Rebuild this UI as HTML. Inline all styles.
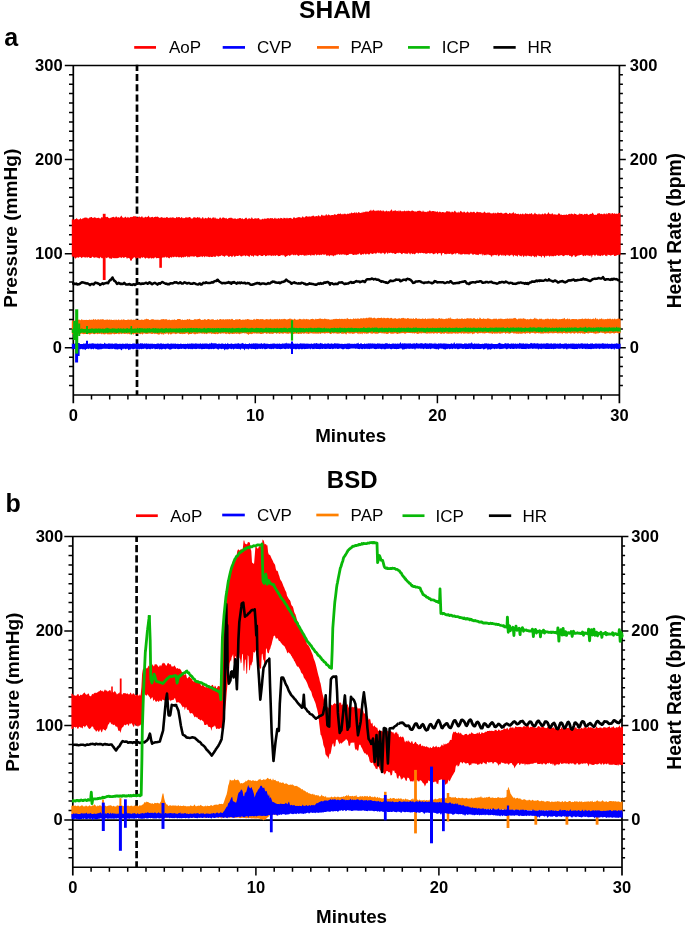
<!DOCTYPE html>
<html lang="en"><head><meta charset="utf-8"><title>SHAM vs BSD haemodynamic traces</title>
<style>html,body{margin:0;padding:0;background:#fff}body{width:685px;height:927px;overflow:hidden}svg{display:block}text{font-family:"Liberation Sans",Arial,Helvetica,sans-serif;fill:#000}</style></head><body>
<svg width="685" height="927" viewBox="0 0 685 927">
<rect width="685" height="927" fill="#fff"/>
<g id="panel-a">
<path d="M137 64.8V394.9" stroke="#000" stroke-width="2.7" stroke-dasharray="7.1 3.1" stroke-dashoffset="1" fill="none"/>
<path d="M73.3 65.4V403.2M619.4 65.4V403.2" stroke="#000" stroke-width="1.7" fill="none"/>
<path d="M64.8 65.4H625.8M73.3 394.9H619.4" stroke="#000" stroke-width="1.5" fill="none"/>
<path d="M69 385.5H73.3M619.4 385.5H622.9M69 376H73.3M619.4 376H622.9M69 366.6H73.3M619.4 366.6H622.9M69 357.2H73.3M619.4 357.2H622.9M64.8 347.8H73.3M619.4 347.8H625.8M69 338.4H73.3M619.4 338.4H622.9M69 329H73.3M619.4 329H622.9M69 319.6H73.3M619.4 319.6H622.9M69 310.1H73.3M619.4 310.1H622.9M69 300.7H73.3M619.4 300.7H622.9M69 291.3H73.3M619.4 291.3H622.9M69 281.9H73.3M619.4 281.9H622.9M69 272.5H73.3M619.4 272.5H622.9M69 263.1H73.3M619.4 263.1H622.9M64.8 253.7H73.3M619.4 253.7H625.8M69 244.3H73.3M619.4 244.3H622.9M69 234.8H73.3M619.4 234.8H622.9M69 225.4H73.3M619.4 225.4H622.9M69 216H73.3M619.4 216H622.9M69 206.6H73.3M619.4 206.6H622.9M69 197.2H73.3M619.4 197.2H622.9M69 187.8H73.3M619.4 187.8H622.9M69 178.4H73.3M619.4 178.4H622.9M69 168.9H73.3M619.4 168.9H622.9M64.8 159.5H73.3M619.4 159.5H625.8M69 150.1H73.3M619.4 150.1H622.9M69 140.7H73.3M619.4 140.7H622.9M69 131.3H73.3M619.4 131.3H622.9M69 121.9H73.3M619.4 121.9H622.9M69 112.5H73.3M619.4 112.5H622.9M69 103.1H73.3M619.4 103.1H622.9M69 93.6H73.3M619.4 93.6H622.9M69 84.2H73.3M619.4 84.2H622.9M69 74.8H73.3M619.4 74.8H622.9M91.5 394.9V399.5M109.7 394.9V399.5M127.9 394.9V399.5M146.1 394.9V399.5M164.3 394.9V399.5M182.5 394.9V399.5M200.7 394.9V399.5M218.9 394.9V399.5M237.1 394.9V399.5M255.3 394.9V403.2M273.5 394.9V399.5M291.7 394.9V399.5M309.9 394.9V399.5M328.1 394.9V399.5M346.4 394.9V399.5M364.6 394.9V399.5M382.8 394.9V399.5M401 394.9V399.5M419.2 394.9V399.5M437.4 394.9V403.2M455.6 394.9V399.5M473.8 394.9V399.5M492 394.9V399.5M510.2 394.9V399.5M528.4 394.9V399.5M546.6 394.9V399.5M564.8 394.9V399.5M583 394.9V399.5M601.2 394.9V399.5" stroke="#000" stroke-width="1.5" fill="none"/>
<text x="62" y="353.1" font-size="16.5" font-weight="bold" text-anchor="end">0</text>
<text x="629.8" y="353.1" font-size="16.5" font-weight="bold" text-anchor="start">0</text>
<text x="62.6" y="259" font-size="16.5" font-weight="bold" text-anchor="end">100</text>
<text x="629.8" y="259" font-size="16.5" font-weight="bold" text-anchor="start">100</text>
<text x="62.6" y="164.8" font-size="16.5" font-weight="bold" text-anchor="end">200</text>
<text x="629.8" y="164.8" font-size="16.5" font-weight="bold" text-anchor="start">200</text>
<text x="62.6" y="70.7" font-size="16.5" font-weight="bold" text-anchor="end">300</text>
<text x="629.8" y="70.7" font-size="16.5" font-weight="bold" text-anchor="start">300</text>
<text x="73.3" y="420.5" font-size="16.5" font-weight="bold" text-anchor="middle">0</text>
<text x="255.3" y="420.5" font-size="16.5" font-weight="bold" text-anchor="middle">10</text>
<text x="437.4" y="420.5" font-size="16.5" font-weight="bold" text-anchor="middle">20</text>
<text x="619.4" y="420.5" font-size="16.5" font-weight="bold" text-anchor="middle">30</text>
<g id="data-a">
<path d="M71.8 219.4L72.6 218.9L73.4 219.5L74.2 219.8L75 219.1L75.8 219L76.6 218.1L77.4 218.9L78.2 219.6L79 219.4L79.8 219.1L80.6 217.9L81.4 219.2L82.2 219.1L83 217.8L83.8 218.6L84.6 217.4L85.4 217.5L86.2 217.8L87 217.4L87.8 218.5L88.6 218.5L89.4 217.6L90.2 217.5L91 217.1L91.8 217L92.6 218.1L93.4 217.9L94.2 216.9L95 217.7L95.8 217.5L96.6 218.3L97.4 218.1L98.2 217.8L99 217.7L99.8 218.4L100.6 218.5L101.4 217.3L102.2 217.1L103 218.1L103.8 216.8L104.6 217.3L105.4 216.8L106.2 217.2L107 216.7L107.8 217.1L108.6 218L109.4 218.2L110.2 218L111 217.5L111.8 217.6L112.6 217.1L113.4 216.8L114.2 217.3L115 217.8L115.8 216.6L116.6 216.5L117.4 217.8L118.2 216.9L119 217.6L119.8 217.7L120.6 216.6L121.4 215.5L122.2 217L123 217.8L123.8 217.7L124.6 217.5L125.4 216.5L126.2 217.4L127 218L127.8 216.8L128.6 217.5L129.4 217.9L130.2 216.8L131 217.3L131.8 216.8L132.6 217L133.4 216.3L134.2 216.1L135 216.8L135.8 215.9L136.6 217.2L137.4 217.5L138.2 216.9L139 216.8L139.8 216.5L140.6 217.6L141.4 216.5L142.2 216.3L143 217.8L143.8 217.4L144.6 217.5L145.4 216.6L146.2 217.6L147 216.8L147.8 217L148.6 215.6L149.4 217.3L150.2 217.5L151 217.3L151.8 216.9L152.6 216.7L153.4 217.8L154.2 216.9L155 217.1L155.8 216.5L156.6 216.9L157.4 216.5L158.2 217L159 217.6L159.8 218.1L160.6 217.5L161.4 216.9L162.2 217.6L163 217.5L163.8 217.9L164.6 217.4L165.4 218.1L166.2 217.2L167 217L167.8 217.4L168.6 218.1L169.4 217.8L170.2 217.4L171 217.4L171.8 217.7L172.6 217.3L173.4 217.5L174.2 217.8L175 218.2L175.8 218.1L176.6 216.8L177.4 217.6L178.2 217.2L179 217L179.8 217.2L180.6 218.3L181.4 217L182.2 217.4L183 218.4L183.8 217.7L184.6 218.3L185.4 217.6L186.2 217.1L187 218L187.8 217.2L188.6 217.6L189.4 216.9L190.2 217L191 218.4L191.8 218.5L192.6 218.5L193.4 217.4L194.2 216.9L195 217.8L195.8 217.4L196.6 218L197.4 216.9L198.2 217.3L199 218.1L199.8 217L200.6 218.4L201.4 218.7L202.2 217.4L203 217L203.8 218.7L204.6 218.4L205.4 217.8L206.2 217.9L207 218.7L207.8 217.7L208.6 217.1L209.4 218.2L210.2 217.6L211 218.3L211.8 218.8L212.6 217.6L213.4 217.6L214.2 217.2L215 218.7L215.8 217.3L216.6 218.9L217.4 218.5L218.2 218.9L219 218.7L219.8 217.6L220.6 217.6L221.4 219L222.2 217.8L223 217.4L223.8 217.6L224.6 217.9L225.4 218.6L226.2 217.8L227 218.7L227.8 219L228.6 218L229.4 218L230.2 217.5L231 218.2L231.8 217.6L232.6 218.5L233.4 218.8L234.2 218.6L235 218.6L235.8 218.6L236.6 219.2L237.4 218.5L238.2 218.8L239 218.3L239.8 217.9L240.6 218L241.4 219.1L242.2 218.1L243 219.1L243.8 219.3L244.6 218.7L245.4 218L246.2 217.4L247 218.5L247.8 219.4L248.6 218.2L249.4 218.2L250.2 218.7L251 218.7L251.8 217.1L252.6 218.5L253.4 219.1L254.2 218.7L255 218L255.8 218.6L256.6 218.6L257.4 218.6L258.2 217.9L259 218.3L259.8 219.5L260.6 219.4L261.4 219.4L262.2 219.1L263 218.5L263.8 219.4L264.6 218.2L265.4 218.7L266.2 218.7L267 218.4L267.8 218.1L268.6 218.2L269.4 218.8L270.2 218.1L271 218.2L271.8 218.2L272.6 218.1L273.4 219L274.2 218.5L275 217.5L275.8 218.8L276.6 218.4L277.4 218.8L278.2 218.3L279 218L279.8 218.9L280.6 217.7L281.4 217.9L282.2 218.2L283 218.9L283.8 217.5L284.6 217.9L285.4 218.2L286.2 218.5L287 217.4L287.8 218.6L288.6 218.2L289.4 218.1L290.2 217.9L291 217.7L291.8 218.8L292.6 218.9L293.4 217.4L294.2 217.1L295 218.3L295.8 218.1L296.6 217.8L297.4 217.4L298.2 217.2L299 216.9L299.8 217.3L300.6 217.6L301.4 218.1L302.2 216.5L303 216.5L303.8 217.5L304.6 217.5L305.4 216.4L306.2 216.3L307 216.1L307.8 217.1L308.6 216.4L309.4 216.2L310.2 216.9L311 215.9L311.8 216.6L312.6 215.7L313.4 215.6L314.2 216.3L315 216.7L315.8 216.1L316.6 215.9L317.4 216.4L318.2 215.2L319 215.5L319.8 216.5L320.6 216.5L321.4 214.8L322.2 214.7L323 216L323.8 215.3L324.6 215.8L325.4 215.6L326.2 213.7L327 215.6L327.8 215.3L328.6 214.2L329.4 214.9L330.2 215.6L331 215.3L331.8 215.1L332.6 214.9L333.4 215.2L334.2 214.2L335 214.3L335.8 214.7L336.6 215L337.4 214L338.2 213.7L339 213.8L339.8 214L340.6 213.3L341.4 214.2L342.2 214.6L343 213.6L343.8 214.6L344.6 213.6L345.4 213.7L346.2 214.5L347 213.9L347.8 213.5L348.6 213.9L349.4 213.3L350.2 213.7L351 212.7L351.8 212.4L352.6 213.2L353.4 213L354.2 212.8L355 212.1L355.8 213.5L356.6 212L357.4 213.4L358.2 212.2L359 212L359.8 213.1L360.6 213.1L361.4 212.6L362.2 212.9L363 211.5L363.8 212.6L364.6 212.1L365.4 211.4L366.2 211.9L367 211L367.8 212.1L368.6 211.8L369.4 210.7L370.2 210.8L371 209.4L371.8 211.2L372.6 210.6L373.4 209.6L374.2 211.1L375 210.3L375.8 211.3L376.6 210.6L377.4 210.5L378.2 210.7L379 210L379.8 211.3L380.6 209.9L381.4 210.7L382.2 211.5L383 210L383.8 211L384.6 211.5L385.4 211.6L386.2 210.4L387 211L387.8 211.5L388.6 211L389.4 211.4L390.2 211.1L391 210L391.8 209.2L392.6 211.5L393.4 210.8L394.2 210.7L395 210.5L395.8 210.2L396.6 211.2L397.4 210.7L398.2 211.6L399 210.1L399.8 211.6L400.6 210.2L401.4 211.5L402.2 210.9L403 211.4L403.8 210.9L404.6 210.4L405.4 211.2L406.2 211.3L407 210.5L407.8 211.2L408.6 210.5L409.4 210.9L410.2 211.3L411 211.3L411.8 210.4L412.6 210.6L413.4 211.1L414.2 211.2L415 211.8L415.8 211.3L416.6 211.8L417.4 211L418.2 210.7L419 210.9L419.8 210.4L420.6 211.1L421.4 211.6L422.2 212L423 210.3L423.8 211.7L424.6 211.8L425.4 211.8L426.2 212.3L427 211.6L427.8 211.4L428.6 211.5L429.4 210.6L430.2 210.6L431 211.5L431.8 211.3L432.6 210.9L433.4 211.1L434.2 211.2L435 211.6L435.8 211.4L436.6 212.1L437.4 210.9L438.2 212.4L439 212L439.8 211.6L440.6 212.1L441.4 212.5L442.2 212L443 212.1L443.8 212.2L444.6 212.6L445.4 212.5L446.2 211.4L447 211L447.8 211.5L448.6 211.6L449.4 211.5L450.2 211.8L451 212.7L451.8 211.4L452.6 211.8L453.4 212.6L454.2 211.3L455 210.4L455.8 212.1L456.6 212.5L457.4 212.7L458.2 211.4L459 212.9L459.8 212L460.6 210.7L461.4 211.5L462.2 212.1L463 212.8L463.8 211.4L464.6 211.7L465.4 212.8L466.2 212.8L467 211.7L467.8 211.5L468.6 212.6L469.4 212.9L470.2 211.5L471 212.4L471.8 211.8L472.6 212.6L473.4 211.7L474.2 211.7L475 212.6L475.8 213.3L476.6 211.7L477.4 211.8L478.2 212L479 212.6L479.8 212.1L480.6 212.2L481.4 212.5L482.2 213.3L483 212.3L483.8 212.7L484.6 211.3L485.4 212.8L486.2 212.7L487 213.3L487.8 212.3L488.6 212.8L489.4 212.2L490.2 213.6L491 212.8L491.8 213.8L492.6 213.2L493.4 212.4L494.2 213.8L495 212.6L495.8 213.3L496.6 213.5L497.4 212.4L498.2 212.5L499 213L499.8 212.9L500.6 212.8L501.4 212.8L502.2 212.9L503 214.1L503.8 213.2L504.6 213.2L505.4 212.8L506.2 212.7L507 212.9L507.8 214L508.6 214.1L509.4 212.8L510.2 213.2L511 213.6L511.8 213.5L512.6 212.9L513.4 211.8L514.2 214L515 212.9L515.8 213.4L516.6 214L517.4 213.9L518.2 213.5L519 214.2L519.8 214.5L520.6 213.6L521.4 214.4L522.2 213.8L523 213.5L523.8 214.6L524.6 214.3L525.4 213.1L526.2 213.9L527 213.6L527.8 213.9L528.6 214.3L529.4 213.6L530.2 214.1L531 213.4L531.8 212.9L532.6 214.6L533.4 214.4L534.2 213.7L535 212.5L535.8 214.1L536.6 213.9L537.4 214.8L538.2 213.6L539 214.7L539.8 213.5L540.6 214.5L541.4 214.6L542.2 213.4L543 213.9L543.8 214.4L544.6 213.2L545.4 213.3L546.2 214.5L547 214L547.8 213.5L548.6 212L549.4 214.1L550.2 213.7L551 214.6L551.8 213.4L552.6 213.2L553.4 214.8L554.2 213.9L555 214.7L555.8 214.2L556.6 214.8L557.4 214.9L558.2 213.3L559 213.7L559.8 213.5L560.6 214.9L561.4 214.5L562.2 214.9L563 215L563.8 214.7L564.6 214.8L565.4 214.9L566.2 214.3L567 214.7L567.8 215L568.6 214.1L569.4 213.7L570.2 214.5L571 213.4L571.8 213.8L572.6 214L573.4 214.7L574.2 213.3L575 213.9L575.8 213.9L576.6 214.5L577.4 214.9L578.2 214.2L579 214.8L579.8 213.1L580.6 214.2L581.4 213.9L582.2 213.7L583 215L583.8 214.4L584.6 213.8L585.4 214.3L586.2 214.1L587 213.4L587.8 214.6L588.6 215L589.4 214.5L590.2 213.7L591 214.1L591.8 213.7L592.6 212.4L593.4 213.8L594.2 214.9L595 214.8L595.8 214.7L596.6 214.9L597.4 213.4L598.2 213.6L599 213.2L599.8 213.2L600.6 214.3L601.4 213.8L602.2 214.1L603 214.6L603.8 213.6L604.6 213.5L605.4 214.5L606.2 213L607 214.6L607.8 213.6L608.6 213L609.4 213.3L610.2 213L611 214.4L611.8 212.9L612.6 212.9L613.4 213.9L614.2 213.2L615 213.4L615.8 214.1L616.6 213.5L617.4 214L618.2 213.2L619 212.9L619.8 212.8L620.6 214.1L620.6 255.7L619.8 254.7L619 254.5L618.2 255.1L617.4 255L616.6 255.6L615.8 255.8L615 256L614.2 255.9L613.4 254.5L612.6 254.9L611.8 255L611 255.8L610.2 255.5L609.4 255L608.6 254.9L607.8 254.5L607 256.4L606.2 255.6L605.4 256L604.6 254.5L603.8 255.3L603 255.3L602.2 256L601.4 255.1L600.6 256.2L599.8 255.8L599 255.8L598.2 255.6L597.4 255.8L596.6 254.6L595.8 255.1L595 256.6L594.2 255.1L593.4 254.7L592.6 254.9L591.8 258L591 254.7L590.2 256.3L589.4 255.7L588.6 255.4L587.8 255.8L587 254.8L586.2 255.6L585.4 256.1L584.6 255.3L583.8 256L583 256.3L582.2 254.7L581.4 254.7L580.6 254.9L579.8 255.1L579 255.7L578.2 255.3L577.4 255.8L576.6 256.3L575.8 256.8L575 257.1L574.2 254.9L573.4 255.2L572.6 256.3L571.8 257.4L571 256.1L570.2 255.8L569.4 256.1L568.6 254.8L567.8 255.5L567 255L566.2 255.2L565.4 254.9L564.6 255.4L563.8 256.3L563 256L562.2 255.5L561.4 255L560.6 255.2L559.8 255.4L559 255.8L558.2 256L557.4 255.1L556.6 255.2L555.8 256.3L555 255.7L554.2 255.7L553.4 256.5L552.6 256L551.8 256.4L551 255.5L550.2 256.2L549.4 256.7L548.6 255.5L547.8 255.9L547 255.5L546.2 256.6L545.4 255.4L544.6 258.2L543.8 256.2L543 255.8L542.2 255.7L541.4 257.7L540.6 256.1L539.8 256L539 256.3L538.2 255.6L537.4 255.3L536.6 257.4L535.8 255.7L535 257.4L534.2 256.7L533.4 256L532.6 255.6L531.8 256.5L531 256.8L530.2 255.8L529.4 256.2L528.6 255.8L527.8 255.8L527 255.5L526.2 256.7L525.4 255.8L524.6 255.5L523.8 257.3L523 256.2L522.2 255L521.4 256.7L520.6 255.7L519.8 256.2L519 254.8L518.2 255L517.4 256.9L516.6 255.4L515.8 256L515 255.3L514.2 254.9L513.4 256.9L512.6 255.3L511.8 254.6L511 255.4L510.2 255L509.4 256.2L508.6 255.2L507.8 255.5L507 254.4L506.2 255.5L505.4 256.3L504.6 254.9L503.8 256L503 254.6L502.2 255.7L501.4 255.4L500.6 254.5L499.8 255.4L499 255.6L498.2 256.5L497.4 254.3L496.6 255.6L495.8 255L495 255.3L494.2 254.7L493.4 255.6L492.6 254.9L491.8 257.2L491 255.5L490.2 255.2L489.4 255.1L488.6 254.5L487.8 255L487 254L486.2 255.4L485.4 254.7L484.6 255.2L483.8 255.2L483 253.8L482.2 256L481.4 253.6L480.6 254.5L479.8 253.7L479 254.6L478.2 255.2L477.4 254.8L476.6 254.8L475.8 254.8L475 254.3L474.2 254L473.4 254.8L472.6 254.7L471.8 253.8L471 253.5L470.2 253.7L469.4 254.7L468.6 254.4L467.8 254.2L467 254.2L466.2 254.3L465.4 254.3L464.6 254.6L463.8 253.7L463 254.1L462.2 254.4L461.4 254.6L460.6 254.7L459.8 253.6L459 254.7L458.2 253.6L457.4 253L456.6 253L455.8 254.7L455 253.1L454.2 253.7L453.4 253.9L452.6 254.6L451.8 254.8L451 253.4L450.2 253.8L449.4 254L448.6 253.8L447.8 253.9L447 253.6L446.2 254.5L445.4 253.9L444.6 254.3L443.8 253L443 253.1L442.2 253.4L441.4 256.3L440.6 252.9L439.8 253.2L439 252.9L438.2 253.4L437.4 254.5L436.6 253.1L435.8 252.8L435 254.2L434.2 253.4L433.4 254.5L432.6 253.6L431.8 253L431 253.3L430.2 253.4L429.4 253.5L428.6 253.1L427.8 253L427 253.9L426.2 253.5L425.4 253.7L424.6 252.9L423.8 253.4L423 253L422.2 253L421.4 252.7L420.6 253.2L419.8 253.1L419 252.8L418.2 254.1L417.4 252.7L416.6 252.7L415.8 253.2L415 254.3L414.2 254.2L413.4 253.4L412.6 254.3L411.8 253.4L411 253L410.2 254.7L409.4 253.6L408.6 252.5L407.8 254.2L407 253.3L406.2 254L405.4 253.4L404.6 253.4L403.8 252.9L403 253.1L402.2 254.3L401.4 254.1L400.6 252.9L399.8 253L399 252.5L398.2 253.5L397.4 252.8L396.6 253.3L395.8 254L395 254L394.2 253.6L393.4 253L392.6 253.6L391.8 252.9L391 252.7L390.2 252.7L389.4 253.3L388.6 252.4L387.8 254.3L387 253L386.2 252.3L385.4 253.8L384.6 254.4L383.8 252.8L383 253.5L382.2 252.4L381.4 253.7L380.6 253.8L379.8 252.5L379 253.6L378.2 252.7L377.4 252.6L376.6 253.3L375.8 254.3L375 252.7L374.2 253.4L373.4 253.6L372.6 253.9L371.8 254.1L371 253.1L370.2 253.6L369.4 254.6L368.6 254.4L367.8 254L367 253.4L366.2 254.5L365.4 254.4L364.6 253.3L363.8 254.5L363 254.2L362.2 254.1L361.4 255L360.6 254.9L359.8 253.3L359 253.7L358.2 254.4L357.4 254.3L356.6 254.7L355.8 255L355 254.3L354.2 254.9L353.4 255.1L352.6 254.8L351.8 253.8L351 254.3L350.2 253.7L349.4 253.9L348.6 254.8L347.8 254.9L347 255.1L346.2 255.4L345.4 254.6L344.6 254.8L343.8 254.4L343 254.2L342.2 254.4L341.4 254.8L340.6 254.2L339.8 255L339 254.6L338.2 254L337.4 254.8L336.6 254.5L335.8 255.3L335 255.5L334.2 255.2L333.4 256.5L332.6 255.5L331.8 255.2L331 255.4L330.2 255.1L329.4 256.4L328.6 255.2L327.8 255.4L327 255.5L326.2 255.8L325.4 254.1L324.6 254.7L323.8 254.7L323 254.4L322.2 254.3L321.4 255.3L320.6 254.5L319.8 255.6L319 254.7L318.2 254.8L317.4 254.7L316.6 255.7L315.8 254.2L315 254.5L314.2 255.8L313.4 255.1L312.6 255.2L311.8 254.4L311 255.9L310.2 255.2L309.4 254.8L308.6 255.1L307.8 255.5L307 254.4L306.2 256L305.4 255.3L304.6 255.7L303.8 255.5L303 254.7L302.2 255.1L301.4 255.2L300.6 255L299.8 254.7L299 256.1L298.2 255.7L297.4 255.3L296.6 254.6L295.8 255.1L295 255.6L294.2 254.6L293.4 255.6L292.6 254.6L291.8 254.6L291 255.3L290.2 255.5L289.4 255.9L288.6 255.1L287.8 255.6L287 255.9L286.2 256.2L285.4 257.2L284.6 256.2L283.8 254.7L283 256.1L282.2 254.8L281.4 255.2L280.6 255.6L279.8 256.1L279 256L278.2 256.3L277.4 255.3L276.6 255L275.8 256.1L275 255.7L274.2 255.2L273.4 255.9L272.6 255.3L271.8 256.2L271 255.4L270.2 255.5L269.4 255.2L268.6 255.8L267.8 255.1L267 256.1L266.2 255.8L265.4 256.5L264.6 255.1L263.8 255.1L263 256.1L262.2 256.1L261.4 256L260.6 255.4L259.8 255.2L259 255.1L258.2 256.3L257.4 256.3L256.6 255.7L255.8 255.4L255 255.5L254.2 255.3L253.4 257.3L252.6 255.4L251.8 256.3L251 255.6L250.2 255.1L249.4 257.2L248.6 256.2L247.8 256.1L247 255.6L246.2 255.4L245.4 256.6L244.6 255.3L243.8 255.8L243 255.5L242.2 256.2L241.4 256.6L240.6 256.3L239.8 255.2L239 255.6L238.2 255.9L237.4 256L236.6 255.7L235.8 255.9L235 256.7L234.2 256.8L233.4 255.2L232.6 256.4L231.8 257.3L231 256.1L230.2 256.1L229.4 256.8L228.6 257L227.8 255.9L227 255.4L226.2 255.5L225.4 255.8L224.6 256.9L223.8 256L223 256.2L222.2 255.4L221.4 255.3L220.6 256.1L219.8 256.3L219 255.9L218.2 257L217.4 256.1L216.6 255.5L215.8 257.1L215 256.6L214.2 257.1L213.4 256.2L212.6 257.1L211.8 256.9L211 257L210.2 256.6L209.4 257.3L208.6 256.7L207.8 257.1L207 256L206.2 257L205.4 255.9L204.6 257.4L203.8 255.9L203 256.4L202.2 257.2L201.4 256.3L200.6 256.5L199.8 257.1L199 256.8L198.2 257.2L197.4 257.2L196.6 257.2L195.8 256.3L195 255.9L194.2 257L193.4 256.5L192.6 256.5L191.8 256.1L191 257L190.2 256.1L189.4 257.4L188.6 256.4L187.8 257.7L187 256.3L186.2 256.3L185.4 257.2L184.6 256.6L183.8 257.8L183 256.8L182.2 257.2L181.4 257.9L180.6 256.8L179.8 257.5L179 257L178.2 257.6L177.4 256.6L176.6 257.6L175.8 256.5L175 257.2L174.2 256.6L173.4 257.6L172.6 256.5L171.8 257.9L171 257.1L170.2 257.3L169.4 258.4L168.6 257.9L167.8 257.6L167 257.1L166.2 258L165.4 256.6L164.6 257.4L163.8 257.7L163 257L162.2 258.1L161.4 258.3L160.6 258L159.8 258.1L159 258.3L158.2 258.1L157.4 258.1L156.6 258.6L155.8 257.6L155 257.3L154.2 258.3L153.4 258.4L152.6 257.9L151.8 258.5L151 258.5L150.2 257.5L149.4 258.4L148.6 258.6L147.8 258.3L147 257.4L146.2 257.9L145.4 258.7L144.6 257.9L143.8 257L143 257.5L142.2 258.1L141.4 257.1L140.6 258.7L139.8 257.9L139 258.7L138.2 257.4L137.4 257.7L136.6 258.6L135.8 258.6L135 257.7L134.2 257.1L133.4 258.1L132.6 259L131.8 258.5L131 257.4L130.2 258.6L129.4 258.5L128.6 257.9L127.8 257.8L127 259.1L126.2 257.2L125.4 257L124.6 257.6L123.8 257.9L123 257.4L122.2 257L121.4 258.2L120.6 257.5L119.8 256.9L119 258L118.2 257.8L117.4 258.2L116.6 258.2L115.8 258.1L115 258.4L114.2 258L113.4 258.2L112.6 257.4L111.8 259.1L111 258.4L110.2 258.4L109.4 258.5L108.6 257.3L107.8 257.5L107 257.8L106.2 258.3L105.4 257.3L104.6 257.3L103.8 257.6L103 257.7L102.2 258.5L101.4 258.1L100.6 256.8L99.8 258.2L99 258.4L98.2 257.8L97.4 257.7L96.6 257.4L95.8 256.9L95 258L94.2 257.6L93.4 257.4L92.6 256.6L91.8 257.5L91 258L90.2 258.1L89.4 257.7L88.6 257.1L87.8 257.2L87 258.1L86.2 256.7L85.4 257.7L84.6 257.6L83.8 256.7L83 257.6L82.2 257.2L81.4 258.2L80.6 257L79.8 256.7L79 257.5L78.2 257.7L77.4 257.3L76.6 257.5L75.8 258.4L75 258.6L74.2 257.3L73.4 256.6L72.6 256.5L71.8 256.5Z" fill="#ff0000"/>
<path d="M104.2 213.8V280" stroke="#ff0000" stroke-width="2.8" fill="none"/>
<path d="M160.6 250V267.8" stroke="#ff0000" stroke-width="2.6" fill="none"/>
<path d="M131 250V260.6" stroke="#ff0000" stroke-width="2.0" fill="none"/>
<path d="M71.8 321.4L72.6 320.5L73.4 320.6L74.2 320.8L75 320.6L75.8 320.3L76.6 320L77.4 319.4L78.2 320.1L79 319.2L79.8 320L80.6 320.2L81.4 319.3L82.2 319.5L83 320.2L83.8 319.8L84.6 320.1L85.4 319.9L86.2 319.8L87 320L87.8 319.9L88.6 319.9L89.4 319.6L90.2 319.8L91 320L91.8 319.4L92.6 319.9L93.4 318.7L94.2 319.9L95 319.3L95.8 319.2L96.6 320L97.4 319.5L98.2 319.3L99 319.4L99.8 319.8L100.6 319.3L101.4 319.5L102.2 319.2L103 319.2L103.8 319.4L104.6 320L105.4 319.8L106.2 319.8L107 319.6L107.8 319.6L108.6 320L109.4 319.3L110.2 320.3L111 319.3L111.8 320.1L112.6 320.1L113.4 319.7L114.2 320.2L115 319.3L115.8 320.3L116.6 319.4L117.4 320.3L118.2 319.5L119 319.5L119.8 320.3L120.6 319.9L121.4 319.3L122.2 320.2L123 319.3L123.8 319.5L124.6 319.7L125.4 319.9L126.2 319.9L127 320L127.8 319.5L128.6 319.5L129.4 320.1L130.2 319.3L131 320.3L131.8 319.1L132.6 320.3L133.4 319.5L134.2 320.1L135 319.6L135.8 319.4L136.6 319.4L137.4 319.9L138.2 319.7L139 319.9L139.8 319.8L140.6 320.1L141.4 319.5L142.2 319.8L143 319.7L143.8 320.1L144.6 319.3L145.4 319.4L146.2 318.4L147 319.3L147.8 319.1L148.6 319.3L149.4 320L150.2 320L151 319.4L151.8 319.3L152.6 319.2L153.4 319.3L154.2 319.8L155 319.7L155.8 319.8L156.6 319.8L157.4 319.8L158.2 319.6L159 320.2L159.8 319.8L160.6 319.7L161.4 319.2L162.2 319.2L163 319.3L163.8 319.1L164.6 319.5L165.4 319.3L166.2 319.3L167 319.3L167.8 320.2L168.6 319.7L169.4 319.6L170.2 320L171 320.2L171.8 319.7L172.6 319.8L173.4 320.1L174.2 319.3L175 319.8L175.8 320.1L176.6 320.1L177.4 319.1L178.2 319.1L179 319.1L179.8 319.1L180.6 319.3L181.4 320.2L182.2 319.2L183 319.9L183.8 320L184.6 319.7L185.4 319.8L186.2 320.1L187 319.3L187.8 319.1L188.6 319.7L189.4 318.7L190.2 319.4L191 320L191.8 319.7L192.6 319.9L193.4 319.9L194.2 319.3L195 319.3L195.8 319.2L196.6 319.4L197.4 319.3L198.2 319.1L199 319.1L199.8 318.6L200.6 319.6L201.4 320L202.2 319.9L203 319.5L203.8 320.1L204.6 319L205.4 319.2L206.2 319.9L207 319.7L207.8 319.1L208.6 319.1L209.4 319.2L210.2 320.1L211 319.3L211.8 319.6L212.6 319.2L213.4 319.3L214.2 320.1L215 319.9L215.8 319.8L216.6 320L217.4 319.1L218.2 320.1L219 319.8L219.8 319L220.6 318.9L221.4 319.6L222.2 319.5L223 319.3L223.8 319.2L224.6 319.7L225.4 319.3L226.2 319.3L227 319.6L227.8 319L228.6 319.5L229.4 319.1L230.2 319.6L231 319.4L231.8 318.8L232.6 319L233.4 319.9L234.2 320.1L235 320L235.8 319.1L236.6 319.5L237.4 319.3L238.2 319.8L239 318.9L239.8 318.9L240.6 319.4L241.4 319.9L242.2 319.8L243 319.4L243.8 319.8L244.6 319.8L245.4 319.3L246.2 319.8L247 319L247.8 319.1L248.6 319.2L249.4 319.5L250.2 319.7L251 319.7L251.8 319.7L252.6 320L253.4 319.4L254.2 318.8L255 319.8L255.8 319.5L256.6 318.8L257.4 319L258.2 319L259 319.2L259.8 319.4L260.6 318.9L261.4 319.3L262.2 318.9L263 319.3L263.8 319.5L264.6 319.7L265.4 319.6L266.2 319L267 319.2L267.8 319.2L268.6 319.6L269.4 319.4L270.2 318.8L271 319L271.8 319.8L272.6 319.2L273.4 319.6L274.2 319.3L275 319L275.8 319.2L276.6 319.3L277.4 318.8L278.2 319.9L279 318.7L279.8 318.9L280.6 319.6L281.4 319.1L282.2 319.4L283 318.8L283.8 319.3L284.6 318.8L285.4 318.9L286.2 319.4L287 319.4L287.8 319.2L288.6 319.1L289.4 318.8L290.2 318.2L291 319.5L291.8 318.7L292.6 319.5L293.4 319.8L294.2 318.7L295 318.7L295.8 319.7L296.6 319.7L297.4 319.6L298.2 319.8L299 318.9L299.8 318.7L300.6 318.9L301.4 319.5L302.2 319L303 319.7L303.8 318.6L304.6 319.2L305.4 319.5L306.2 318.7L307 319.2L307.8 319.2L308.6 319.3L309.4 319.7L310.2 319.5L311 318.9L311.8 318.9L312.6 318.8L313.4 318.9L314.2 319.5L315 319.5L315.8 318.6L316.6 319.2L317.4 319.1L318.2 319L319 318.7L319.8 318.6L320.6 318.5L321.4 319.1L322.2 318.7L323 319.2L323.8 319.1L324.6 318.5L325.4 318.7L326.2 319.2L327 318.7L327.8 319.5L328.6 319.1L329.4 319.4L330.2 319.7L331 319.5L331.8 319.6L332.6 319.6L333.4 319L334.2 319.2L335 318.7L335.8 319L336.6 318.7L337.4 318.9L338.2 318.9L339 319.1L339.8 318.4L340.6 319.3L341.4 318.8L342.2 319L343 318.8L343.8 319.2L344.6 318.7L345.4 318.8L346.2 319.4L347 317.7L347.8 318.6L348.6 319L349.4 319.3L350.2 318.8L351 319L351.8 319.3L352.6 319.3L353.4 318.2L354.2 318.8L355 318.9L355.8 318.3L356.6 319L357.4 318.4L358.2 318.2L359 318.9L359.8 318.8L360.6 318.3L361.4 318.3L362.2 318.6L363 318.5L363.8 317.8L364.6 318.4L365.4 318.2L366.2 317.9L367 317.6L367.8 318.4L368.6 317.6L369.4 317.6L370.2 317.5L371 317.7L371.8 317.6L372.6 318.5L373.4 318.1L374.2 317.4L375 318.1L375.8 318.5L376.6 318.4L377.4 318L378.2 317.8L379 317.9L379.8 317.9L380.6 318L381.4 317.6L382.2 317.9L383 318.4L383.8 317.6L384.6 318.1L385.4 318.3L386.2 318.2L387 318.1L387.8 317.7L388.6 318.1L389.4 318.4L390.2 318.2L391 317.7L391.8 317.9L392.6 318.7L393.4 318.7L394.2 318.2L395 318.5L395.8 318.1L396.6 318.9L397.4 318.7L398.2 318.7L399 318.1L399.8 318.4L400.6 318.8L401.4 318L402.2 318.2L403 317.8L403.8 318.1L404.6 318.4L405.4 318.2L406.2 318.9L407 318.3L407.8 317.9L408.6 318.2L409.4 318.8L410.2 318.4L411 318.8L411.8 318.5L412.6 319L413.4 318.1L414.2 319L415 319.1L415.8 317.7L416.6 318.3L417.4 318.9L418.2 318.5L419 319.1L419.8 318.5L420.6 319.1L421.4 319.1L422.2 318.4L423 318.6L423.8 318.9L424.6 318.9L425.4 318.1L426.2 319.2L427 319.1L427.8 318.5L428.6 318.8L429.4 318.5L430.2 319.1L431 318.3L431.8 318.7L432.6 318.2L433.4 318.2L434.2 318.5L435 319.2L435.8 318.4L436.6 318.8L437.4 319.2L438.2 318.6L439 318.2L439.8 318.1L440.6 318.9L441.4 318.2L442.2 319.1L443 318.4L443.8 319.3L444.6 319L445.4 318.7L446.2 318.8L447 318.3L447.8 318.9L448.6 317.8L449.4 318.7L450.2 317L451 319.1L451.8 318.5L452.6 318.9L453.4 319.1L454.2 319L455 319.2L455.8 318.7L456.6 318.7L457.4 318.3L458.2 319L459 318.7L459.8 318.7L460.6 319L461.4 318.6L462.2 318.2L463 319.1L463.8 319L464.6 318.5L465.4 319.1L466.2 318.5L467 318.4L467.8 317.9L468.6 318.5L469.4 318.4L470.2 318.3L471 318.4L471.8 318.5L472.6 318.9L473.4 318.3L474.2 318.1L475 318.7L475.8 318.9L476.6 319.3L477.4 318.2L478.2 319L479 319.3L479.8 317.3L480.6 318.3L481.4 319L482.2 319L483 318.7L483.8 318.3L484.6 318.9L485.4 318.7L486.2 319.2L487 318.4L487.8 318.2L488.6 318.4L489.4 318.8L490.2 318.7L491 319.3L491.8 319.2L492.6 319.2L493.4 318.7L494.2 318.8L495 318.7L495.8 318.7L496.6 318.4L497.4 319.4L498.2 319.1L499 318.6L499.8 319L500.6 318.5L501.4 318.7L502.2 318.7L503 319.3L503.8 319L504.6 318.9L505.4 318.8L506.2 318.8L507 318.8L507.8 318.3L508.6 319.1L509.4 318.4L510.2 318.5L511 318.8L511.8 318.4L512.6 318.8L513.4 318.3L514.2 318.3L515 317.8L515.8 318.3L516.6 319.1L517.4 319.4L518.2 318.7L519 318.6L519.8 318.7L520.6 318.6L521.4 318.6L522.2 319.3L523 318L523.8 318.5L524.6 318.7L525.4 318.7L526.2 319.4L527 319.3L527.8 319L528.6 319.4L529.4 319.3L530.2 318.7L531 318.8L531.8 319.2L532.6 319.2L533.4 319.1L534.2 318.4L535 317.5L535.8 319.1L536.6 318.6L537.4 319L538.2 319.4L539 319.2L539.8 318.6L540.6 319L541.4 318.6L542.2 319.3L543 319.5L543.8 319.2L544.6 319.4L545.4 318.8L546.2 319.3L547 318.6L547.8 318.7L548.6 318.8L549.4 319.4L550.2 318.6L551 319.2L551.8 319.2L552.6 318.4L553.4 318.7L554.2 318.9L555 319.2L555.8 318.6L556.6 318.9L557.4 319.3L558.2 319.4L559 319.2L559.8 318.9L560.6 319.2L561.4 319.1L562.2 319L563 318.6L563.8 318.7L564.6 317.8L565.4 319.5L566.2 319.1L567 319.2L567.8 318L568.6 319.4L569.4 318.4L570.2 319.4L571 319.4L571.8 319L572.6 319L573.4 318.9L574.2 319L575 319.3L575.8 318.9L576.6 319L577.4 319.4L578.2 319.4L579 318.8L579.8 319.3L580.6 319.1L581.4 318.9L582.2 318.4L583 318.8L583.8 319.3L584.6 318.8L585.4 318.5L586.2 318.8L587 318.9L587.8 318.8L588.6 318.4L589.4 319.3L590.2 318.6L591 319.4L591.8 319.1L592.6 318.9L593.4 318.2L594.2 319.4L595 318.5L595.8 317.4L596.6 319.5L597.4 318.4L598.2 319.5L599 319.4L599.8 318.6L600.6 319.3L601.4 318.1L602.2 319.5L603 318.4L603.8 319.4L604.6 319.2L605.4 319.1L606.2 319.3L607 319L607.8 318.6L608.6 318.9L609.4 318.8L610.2 318.4L611 319.1L611.8 319.4L612.6 318.5L613.4 319.5L614.2 318.7L615 318.5L615.8 319.5L616.6 319.1L617.4 318.8L618.2 318.6L619 318.5L619.8 319L620.6 318.6L620.6 333.3L619.8 332.9L619 333.3L618.2 333.5L617.4 333L616.6 332.7L615.8 332.9L615 333.1L614.2 333.8L613.4 333.3L612.6 333L611.8 333.1L611 333.4L610.2 333.6L609.4 333.6L608.6 333L607.8 333.3L607 333L606.2 333.6L605.4 333.8L604.6 333.7L603.8 332.7L603 333.3L602.2 332.7L601.4 332.7L600.6 332.6L599.8 333.1L599 333.1L598.2 333.5L597.4 333.3L596.6 333.6L595.8 333.4L595 334.2L594.2 333.1L593.4 333.4L592.6 332.7L591.8 332.9L591 333.1L590.2 332.8L589.4 333L588.6 333.5L587.8 333.5L587 332.9L586.2 333L585.4 333.6L584.6 333.9L583.8 333.4L583 333.4L582.2 333.4L581.4 332.8L580.6 333.8L579.8 332.9L579 333.2L578.2 333.3L577.4 333.7L576.6 332.8L575.8 332.8L575 333.4L574.2 333.8L573.4 333.2L572.6 332.7L571.8 333.2L571 333.4L570.2 333.4L569.4 333.1L568.6 332.7L567.8 333.4L567 333.5L566.2 333.3L565.4 333.6L564.6 333L563.8 333L563 333.1L562.2 334.2L561.4 332.9L560.6 333.3L559.8 333.1L559 333.6L558.2 333.3L557.4 333.6L556.6 333.1L555.8 332.9L555 332.9L554.2 333.3L553.4 333.2L552.6 333.4L551.8 332.7L551 333.4L550.2 332.7L549.4 333.2L548.6 333.7L547.8 332.9L547 333.7L546.2 332.7L545.4 333.4L544.6 332.9L543.8 333.8L543 333.3L542.2 333.7L541.4 333.6L540.6 333.7L539.8 332.8L539 333.7L538.2 333L537.4 333L536.6 332.9L535.8 333.7L535 333.2L534.2 333.6L533.4 332.7L532.6 333.1L531.8 332.8L531 333L530.2 333.8L529.4 333.7L528.6 332.8L527.8 333.2L527 333.2L526.2 333.1L525.4 333.9L524.6 333.6L523.8 332.9L523 333.4L522.2 333.4L521.4 333.7L520.6 333.7L519.8 333.5L519 333.5L518.2 333.9L517.4 333.6L516.6 333.8L515.8 333.5L515 333.3L514.2 333.6L513.4 333.5L512.6 332.8L511.8 332.7L511 332.9L510.2 333.6L509.4 333.7L508.6 333.6L507.8 333.2L507 333L506.2 333.2L505.4 334L504.6 332.8L503.8 332.8L503 333L502.2 333.4L501.4 333.2L500.6 333.8L499.8 333.4L499 333.8L498.2 332.7L497.4 333.8L496.6 333.5L495.8 333.5L495 333.4L494.2 333.8L493.4 333.1L492.6 333.9L491.8 333.7L491 332.9L490.2 333.6L489.4 333.2L488.6 333.2L487.8 332.8L487 333L486.2 333.1L485.4 333.2L484.6 333.4L483.8 333.6L483 333L482.2 333.4L481.4 332.8L480.6 333.3L479.8 333L479 333.3L478.2 333.5L477.4 333.7L476.6 333L475.8 332.8L475 332.7L474.2 333.9L473.4 333.4L472.6 334.6L471.8 332.9L471 333.4L470.2 333.3L469.4 333.6L468.6 333.7L467.8 333.4L467 333.7L466.2 332.9L465.4 333.6L464.6 333.4L463.8 333.7L463 333.6L462.2 332.8L461.4 333.9L460.6 333.2L459.8 333.1L459 333.6L458.2 333.4L457.4 333.7L456.6 333.3L455.8 333.8L455 333.5L454.2 333.2L453.4 333.3L452.6 333.4L451.8 334.1L451 333.3L450.2 333.8L449.4 333.5L448.6 333.8L447.8 333.7L447 333.4L446.2 333.5L445.4 332.8L444.6 333.8L443.8 333.7L443 333.4L442.2 333.3L441.4 333.9L440.6 333.7L439.8 333.3L439 333L438.2 333L437.4 333.8L436.6 333.5L435.8 333L435 333.2L434.2 333.5L433.4 333.8L432.6 333.1L431.8 333.4L431 333.2L430.2 333.6L429.4 333.4L428.6 333.3L427.8 333.4L427 333.8L426.2 333.6L425.4 333.3L424.6 333.3L423.8 333L423 333.6L422.2 332.8L421.4 333.8L420.6 333.2L419.8 333L419 333.7L418.2 333.8L417.4 333.9L416.6 333.6L415.8 333L415 333.2L414.2 333.8L413.4 333.1L412.6 333.6L411.8 333.1L411 333.2L410.2 333L409.4 333L408.6 333.1L407.8 332.9L407 332.8L406.2 333.3L405.4 333.8L404.6 333.8L403.8 332.9L403 333.2L402.2 333.1L401.4 333.2L400.6 333.2L399.8 333.7L399 333.1L398.2 334L397.4 333.9L396.6 333.7L395.8 332.9L395 333.4L394.2 333.2L393.4 333.7L392.6 333.7L391.8 333.6L391 333.9L390.2 333.2L389.4 332.8L388.6 333.6L387.8 333.9L387 333.7L386.2 334L385.4 333.3L384.6 333.8L383.8 333L383 333.9L382.2 332.8L381.4 333.5L380.6 333.1L379.8 332.8L379 333.3L378.2 333.5L377.4 333.8L376.6 333.7L375.8 333.4L375 333.9L374.2 333L373.4 333.2L372.6 333.7L371.8 333.5L371 333.7L370.2 333L369.4 332.8L368.6 333.6L367.8 333.4L367 333.7L366.2 333.7L365.4 333.3L364.6 333.8L363.8 333.3L363 332.9L362.2 334.4L361.4 333.3L360.6 333.9L359.8 333.1L359 334.4L358.2 333.2L357.4 333.7L356.6 333.1L355.8 332.8L355 333.5L354.2 333.4L353.4 333.7L352.6 334L351.8 333.2L351 333.6L350.2 333.6L349.4 333.4L348.6 333.4L347.8 332.8L347 333.2L346.2 334.7L345.4 333.7L344.6 333.2L343.8 333.8L343 333.8L342.2 333.7L341.4 333.8L340.6 333.1L339.8 333.5L339 333.4L338.2 333.7L337.4 333.8L336.6 333.6L335.8 333.4L335 332.9L334.2 333.4L333.4 333.6L332.6 332.9L331.8 333.6L331 333.9L330.2 333.9L329.4 333.3L328.6 332.9L327.8 333.2L327 333.3L326.2 332.9L325.4 333.5L324.6 333.8L323.8 333.1L323 333.4L322.2 332.9L321.4 333.2L320.6 334.1L319.8 333.4L319 333.2L318.2 334.1L317.4 333.4L316.6 333.5L315.8 333.9L315 332.9L314.2 334L313.4 333.4L312.6 333.6L311.8 333.6L311 332.9L310.2 333.4L309.4 333.5L308.6 334L307.8 334L307 333L306.2 334.1L305.4 333L304.6 333.5L303.8 334.1L303 333.2L302.2 333.2L301.4 333.9L300.6 333.7L299.8 333.6L299 334.1L298.2 334.1L297.4 333.5L296.6 333.4L295.8 333.7L295 333.3L294.2 333.9L293.4 334.1L292.6 333.8L291.8 333.3L291 333.6L290.2 333.6L289.4 333.2L288.6 333.8L287.8 334.1L287 333.3L286.2 333.8L285.4 333.2L284.6 333.1L283.8 333.7L283 333.5L282.2 333.7L281.4 333.2L280.6 333.3L279.8 333.9L279 333.5L278.2 333.2L277.4 333.2L276.6 333.9L275.8 333.1L275 333.3L274.2 333.1L273.4 333.8L272.6 334.1L271.8 333.6L271 334.1L270.2 333.6L269.4 334L268.6 333.3L267.8 333.5L267 333.5L266.2 333.9L265.4 333.1L264.6 333.1L263.8 333.4L263 333.8L262.2 333.8L261.4 333.9L260.6 334.1L259.8 333.8L259 333.2L258.2 333.7L257.4 333.4L256.6 333.8L255.8 333.2L255 333.5L254.2 333.5L253.4 333.3L252.6 333.8L251.8 334.2L251 333.8L250.2 334L249.4 333.8L248.6 335.1L247.8 334.2L247 333.8L246.2 333.4L245.4 333.2L244.6 333.6L243.8 333.1L243 333.2L242.2 333.2L241.4 333.4L240.6 333.4L239.8 334.5L239 333.8L238.2 333.8L237.4 333.6L236.6 334L235.8 333.5L235 333.4L234.2 333.9L233.4 333.8L232.6 333.9L231.8 334.1L231 333.2L230.2 334.1L229.4 334.2L228.6 333.9L227.8 333.6L227 333.5L226.2 334.3L225.4 333.7L224.6 333.3L223.8 333.6L223 333.4L222.2 333.2L221.4 333.5L220.6 333.9L219.8 333.2L219 333.5L218.2 334L217.4 334.3L216.6 333.4L215.8 334.3L215 333.9L214.2 334.1L213.4 333.8L212.6 333.6L211.8 334.2L211 333.5L210.2 333.2L209.4 333.5L208.6 333.3L207.8 333.6L207 333.7L206.2 334.2L205.4 333.2L204.6 334.2L203.8 333.5L203 333.4L202.2 333.8L201.4 333.5L200.6 333.2L199.8 333.5L199 333.5L198.2 333.4L197.4 334.1L196.6 333.4L195.8 334.4L195 333.8L194.2 334.4L193.4 333.5L192.6 333.3L191.8 333.9L191 333.9L190.2 334.1L189.4 334L188.6 335L187.8 333.4L187 333.6L186.2 333.2L185.4 333.7L184.6 333.9L183.8 334L183 333.8L182.2 334.3L181.4 333.8L180.6 334L179.8 334.1L179 333.4L178.2 333.3L177.4 333.5L176.6 333.8L175.8 334.2L175 333.8L174.2 333.6L173.4 333.5L172.6 333.6L171.8 334L171 334.4L170.2 334.3L169.4 333.3L168.6 335L167.8 333.5L167 333.6L166.2 333.5L165.4 334L164.6 333.3L163.8 335.2L163 333.6L162.2 334.4L161.4 334.3L160.6 333.6L159.8 334L159 334.9L158.2 334.3L157.4 334.3L156.6 333.7L155.8 333.9L155 333.4L154.2 334.3L153.4 333.3L152.6 334.1L151.8 333.9L151 333.7L150.2 333.6L149.4 333.4L148.6 333.4L147.8 333.9L147 333.7L146.2 333.9L145.4 333.8L144.6 333.6L143.8 333.3L143 334.3L142.2 334.5L141.4 333.6L140.6 334.3L139.8 334.1L139 333.5L138.2 333.5L137.4 334.1L136.6 333.4L135.8 334.2L135 334L134.2 333.4L133.4 334.8L132.6 334L131.8 333.7L131 334.1L130.2 333.6L129.4 334.5L128.6 333.5L127.8 334.5L127 333.3L126.2 333.9L125.4 333.7L124.6 333.9L123.8 333.7L123 333.5L122.2 333.6L121.4 334.3L120.6 333.5L119.8 333.7L119 334.4L118.2 333.8L117.4 333.5L116.6 334L115.8 333.9L115 334L114.2 334.4L113.4 333.8L112.6 333.6L111.8 334.4L111 334L110.2 334.5L109.4 334.3L108.6 334.3L107.8 334.4L107 333.9L106.2 333.4L105.4 334.2L104.6 334.5L103.8 334L103 334.5L102.2 333.4L101.4 334.5L100.6 333.5L99.8 333.9L99 333.6L98.2 334.1L97.4 334.3L96.6 333.4L95.8 333.7L95 333.9L94.2 334.2L93.4 334L92.6 333.5L91.8 333.7L91 333.8L90.2 334.4L89.4 334.4L88.6 333.7L87.8 334.2L87 333.7L86.2 334.1L85.4 334L84.6 334L83.8 334.2L83 334.1L82.2 333.8L81.4 333.6L80.6 334.3L79.8 333.4L79 333.7L78.2 334.4L77.4 333.9L76.6 333.7L75.8 333.8L75 333.6L74.2 333.4L73.4 335.1L72.6 334L71.8 333.5Z" fill="#ff6600"/>
<path d="M71.8 343.2L72.6 343.9L73.4 343.9L74.2 343.7L75 343.6L75.8 343.7L76.6 343.6L77.4 343.5L78.2 343.3L79 343.3L79.8 343.9L80.6 344L81.4 344.1L82.2 344L83 344L83.8 343.3L84.6 343.8L85.4 343.5L86.2 343.3L87 343.7L87.8 343.6L88.6 344.1L89.4 343.6L90.2 343.7L91 343.4L91.8 343.5L92.6 343.3L93.4 343.3L94.2 344.1L95 343.3L95.8 343.9L96.6 343.8L97.4 343.6L98.2 343.5L99 344.1L99.8 343.6L100.6 343.5L101.4 343.7L102.2 343.7L103 344L103.8 343.9L104.6 342.5L105.4 343.6L106.2 344L107 343.4L107.8 344L108.6 343.3L109.4 343.6L110.2 343.4L111 343.8L111.8 343.6L112.6 343.5L113.4 343.9L114.2 343.4L115 343.8L115.8 343.3L116.6 343.5L117.4 343.7L118.2 343.9L119 343.8L119.8 343.7L120.6 343.8L121.4 344L122.2 343.4L123 343.7L123.8 343.8L124.6 344L125.4 343.5L126.2 343.8L127 343.5L127.8 343.4L128.6 343.9L129.4 343.7L130.2 343.7L131 344L131.8 343.9L132.6 343.4L133.4 343.4L134.2 343.4L135 343.6L135.8 344L136.6 343.8L137.4 343.4L138.2 343.4L139 343.5L139.8 343.9L140.6 343.1L141.4 343.5L142.2 343.3L143 343.6L143.8 344.1L144.6 343.3L145.4 343.7L146.2 343.5L147 343.3L147.8 343.9L148.6 343.6L149.4 343.8L150.2 343.9L151 343.3L151.8 343.9L152.6 343.4L153.4 344.1L154.2 343.7L155 344L155.8 344.1L156.6 343.7L157.4 343.4L158.2 343.5L159 343.5L159.8 344.1L160.6 343.3L161.4 343.3L162.2 344.1L163 343.6L163.8 343.7L164.6 343.9L165.4 343.7L166.2 344L167 343.5L167.8 343.6L168.6 343.5L169.4 344.1L170.2 343.8L171 343.6L171.8 343.6L172.6 343.7L173.4 343.6L174.2 344L175 343.3L175.8 343.8L176.6 343.9L177.4 343.8L178.2 343.7L179 344.1L179.8 344L180.6 343.6L181.4 343.8L182.2 344.1L183 344L183.8 343.8L184.6 344L185.4 343.8L186.2 344L187 344L187.8 343.3L188.6 343.9L189.4 343.5L190.2 343.9L191 343.3L191.8 343.6L192.6 343.4L193.4 343.5L194.2 344L195 343.3L195.8 343.4L196.6 343.5L197.4 343.7L198.2 343.4L199 344.1L199.8 343.4L200.6 343.3L201.4 344.1L202.2 343.4L203 343.6L203.8 343.7L204.6 343.5L205.4 343.4L206.2 343.5L207 343.5L207.8 343.8L208.6 344L209.4 343.3L210.2 343.8L211 343.2L211.8 342.4L212.6 343.6L213.4 343.2L214.2 343.6L215 342.9L215.8 343.5L216.6 343.5L217.4 344.1L218.2 343.7L219 343.4L219.8 343.8L220.6 344.1L221.4 343.6L222.2 343.5L223 343.4L223.8 343.9L224.6 344.1L225.4 343.3L226.2 344L227 344L227.8 342.7L228.6 343.9L229.4 344L230.2 343.8L231 343.8L231.8 343.3L232.6 344.1L233.4 344.1L234.2 343.7L235 343.8L235.8 343.5L236.6 343.8L237.4 343.5L238.2 343.3L239 343.3L239.8 343.9L240.6 343.7L241.4 343.5L242.2 343.3L243 342.8L243.8 344.1L244.6 344L245.4 343.4L246.2 344.1L247 344L247.8 343.9L248.6 343.9L249.4 342.9L250.2 344.1L251 343.8L251.8 343.5L252.6 343.8L253.4 343.3L254.2 343.4L255 343.4L255.8 343.3L256.6 343.4L257.4 343.5L258.2 343.6L259 343.9L259.8 343.5L260.6 343.8L261.4 343L262.2 343.7L263 344.1L263.8 343.3L264.6 343.3L265.4 343.8L266.2 343.6L267 344L267.8 343.4L268.6 343.9L269.4 344L270.2 344.1L271 343.4L271.8 343.9L272.6 343.6L273.4 343.6L274.2 343.6L275 343.4L275.8 344.1L276.6 343.8L277.4 343.4L278.2 343.9L279 343.6L279.8 343.6L280.6 343.9L281.4 343.9L282.2 343.3L283 343.8L283.8 343.4L284.6 343.5L285.4 343.4L286.2 342.5L287 343.7L287.8 343.2L288.6 343.4L289.4 343.6L290.2 343.8L291 343.3L291.8 343.7L292.6 342.3L293.4 343.4L294.2 344L295 343.6L295.8 343.7L296.6 343.8L297.4 343.4L298.2 343.7L299 344L299.8 343.5L300.6 343.3L301.4 343.6L302.2 343.4L303 343.4L303.8 343.5L304.6 343.4L305.4 343.7L306.2 343.4L307 343.8L307.8 343.4L308.6 343.8L309.4 343.8L310.2 344L311 343.4L311.8 343.6L312.6 343.9L313.4 343.8L314.2 343.1L315 343.8L315.8 343.3L316.6 343.1L317.4 343.5L318.2 343.7L319 343.4L319.8 343.8L320.6 342.8L321.4 343.5L322.2 343.3L323 343.9L323.8 344L324.6 343.6L325.4 343.4L326.2 344L327 343.6L327.8 343.6L328.6 343.3L329.4 343.7L330.2 344L331 343.2L331.8 343.5L332.6 343.8L333.4 343.9L334.2 343.3L335 343.2L335.8 343.4L336.6 343.4L337.4 343.4L338.2 343.2L339 343.9L339.8 343.6L340.6 344L341.4 343.7L342.2 343.7L343 343.9L343.8 343.9L344.6 343.8L345.4 343.7L346.2 343.9L347 343.6L347.8 343.5L348.6 343.4L349.4 343.3L350.2 344L351 343.4L351.8 344L352.6 343.8L353.4 344.1L354.2 343.6L355 343.9L355.8 343.8L356.6 343.4L357.4 343.4L358.2 342.6L359 343.9L359.8 343.9L360.6 343.3L361.4 343.3L362.2 343.9L363 344L363.8 343.9L364.6 343.3L365.4 344L366.2 343.8L367 343.5L367.8 343.8L368.6 343.2L369.4 343.4L370.2 343.5L371 343.2L371.8 343.7L372.6 343.3L373.4 343.7L374.2 343.2L375 344.1L375.8 343.5L376.6 344L377.4 343.3L378.2 343.4L379 343.4L379.8 343.4L380.6 343.8L381.4 343.8L382.2 343.8L383 343.4L383.8 344L384.6 343.8L385.4 343.3L386.2 343.3L387 343.3L387.8 343.4L388.6 343.9L389.4 343.4L390.2 343.9L391 343.9L391.8 343.7L392.6 343.6L393.4 343.5L394.2 343.5L395 344.1L395.8 343.3L396.6 344.1L397.4 343.4L398.2 343.6L399 344.1L399.8 343.3L400.6 342.1L401.4 343.9L402.2 343.3L403 343.5L403.8 343.5L404.6 343.3L405.4 343.3L406.2 344L407 342.8L407.8 344.1L408.6 343.3L409.4 343.4L410.2 343.3L411 343.6L411.8 343.9L412.6 343.6L413.4 343.5L414.2 343.2L415 343.6L415.8 343.8L416.6 342.8L417.4 343.6L418.2 343.5L419 343.8L419.8 343.4L420.6 343.3L421.4 343.2L422.2 343L423 344L423.8 343.4L424.6 343.6L425.4 343.1L426.2 343.5L427 343.6L427.8 343.4L428.6 343.8L429.4 343.3L430.2 343.3L431 343.4L431.8 343.2L432.6 343.7L433.4 343.5L434.2 343.9L435 342.6L435.8 344L436.6 343.6L437.4 344L438.2 343.5L439 343.3L439.8 343.7L440.6 343.3L441.4 343.4L442.2 343.4L443 343.7L443.8 343.3L444.6 343.4L445.4 343.4L446.2 343.7L447 343.5L447.8 343.9L448.6 343.8L449.4 343.9L450.2 343.8L451 343.7L451.8 342.9L452.6 343.9L453.4 343.8L454.2 342L455 343.7L455.8 343.9L456.6 343.3L457.4 343.6L458.2 343.6L459 343.4L459.8 343.5L460.6 343.5L461.4 343.4L462.2 343.8L463 344L463.8 344L464.6 343.3L465.4 343.5L466.2 343.4L467 343.4L467.8 343.9L468.6 343.2L469.4 343.4L470.2 343.2L471 343.4L471.8 341.9L472.6 343.7L473.4 343.9L474.2 343.6L475 343.3L475.8 343.9L476.6 343.4L477.4 343.8L478.2 343.6L479 343.5L479.8 344L480.6 344L481.4 343.9L482.2 343.7L483 343.8L483.8 343.9L484.6 343.2L485.4 343.5L486.2 343.3L487 343.5L487.8 343.7L488.6 343.6L489.4 343.8L490.2 344L491 343.6L491.8 343.6L492.6 343.7L493.4 344.1L494.2 343.9L495 343.9L495.8 344L496.6 344L497.4 344L498.2 343.5L499 342.9L499.8 342.8L500.6 343.5L501.4 343.8L502.2 343.7L503 344L503.8 343.9L504.6 343.6L505.4 342.9L506.2 343.7L507 343.2L507.8 343.5L508.6 343.3L509.4 344L510.2 343.7L511 343.8L511.8 343.3L512.6 343.8L513.4 343.2L514.2 344L515 343.5L515.8 343.6L516.6 343.9L517.4 343.5L518.2 344.1L519 343.4L519.8 342.8L520.6 343.6L521.4 343.5L522.2 343.5L523 343.5L523.8 343.3L524.6 344L525.4 343.5L526.2 343.4L527 343.8L527.8 343.4L528.6 344L529.4 343.9L530.2 343.5L531 342.7L531.8 343.3L532.6 343.4L533.4 343.4L534.2 343.1L535 343.4L535.8 343.5L536.6 343.4L537.4 343.2L538.2 343.2L539 344L539.8 343.4L540.6 343.7L541.4 343.3L542.2 343.9L543 343.2L543.8 343.7L544.6 343.6L545.4 343.8L546.2 343.2L547 343.2L547.8 343.2L548.6 343.6L549.4 343.8L550.2 343.6L551 343.6L551.8 343.2L552.6 343.9L553.4 343.4L554.2 343.2L555 343.8L555.8 343.2L556.6 344L557.4 343.4L558.2 343.8L559 343.8L559.8 343.3L560.6 343.2L561.4 344L562.2 343.7L563 344.1L563.8 343.8L564.6 343.5L565.4 343.5L566.2 343.3L567 343.7L567.8 343.9L568.6 343.4L569.4 343.9L570.2 343.5L571 343.7L571.8 343.6L572.6 343.4L573.4 343.6L574.2 343.7L575 343.4L575.8 343.9L576.6 343.4L577.4 344L578.2 343.5L579 343.4L579.8 344L580.6 343.6L581.4 343.3L582.2 343.6L583 343.3L583.8 344L584.6 343.5L585.4 343.5L586.2 344L587 343.3L587.8 343.5L588.6 344L589.4 344L590.2 343.4L591 343.5L591.8 343.4L592.6 343.2L593.4 343.9L594.2 344L595 343.6L595.8 343.5L596.6 343.4L597.4 343.7L598.2 343.6L599 343.8L599.8 343.4L600.6 343.8L601.4 343.8L602.2 343.2L603 343.2L603.8 343.5L604.6 343.7L605.4 343.5L606.2 343.9L607 343.5L607.8 343.4L608.6 344L609.4 343.8L610.2 344L611 343.7L611.8 343.4L612.6 343.8L613.4 344L614.2 343.5L615 343.9L615.8 343.5L616.6 343.2L617.4 343.4L618.2 343.7L619 343.8L619.8 343.9L620.6 343.6L620.6 348.6L619.8 348.6L619 349L618.2 349.2L617.4 348.7L616.6 349L615.8 348.6L615 348.4L614.2 350.1L613.4 348.6L612.6 348.7L611.8 349.2L611 348.9L610.2 348.4L609.4 348.6L608.6 348.9L607.8 348.6L607 348.7L606.2 348.6L605.4 348.7L604.6 348.8L603.8 348.9L603 348.8L602.2 348.8L601.4 348.6L600.6 348.5L599.8 349.2L599 348.7L598.2 348.5L597.4 348.5L596.6 349L595.8 348.4L595 348.9L594.2 348.5L593.4 348.9L592.6 348.7L591.8 348.9L591 349.2L590.2 349.1L589.4 348.9L588.6 349.1L587.8 349.2L587 348.4L586.2 349.2L585.4 349.1L584.6 348.8L583.8 348.6L583 348.9L582.2 349L581.4 348.4L580.6 348.4L579.8 349L579 348.4L578.2 348.5L577.4 349.2L576.6 349.1L575.8 349.1L575 348.9L574.2 349.3L573.4 349.1L572.6 349.1L571.8 348.9L571 348.6L570.2 348.7L569.4 348.6L568.6 348.7L567.8 348.4L567 349.7L566.2 348.9L565.4 348.4L564.6 348.7L563.8 349.2L563 348.6L562.2 348.6L561.4 348.6L560.6 348.8L559.8 349L559 348.5L558.2 349L557.4 348.6L556.6 348.5L555.8 348.9L555 348.8L554.2 348.9L553.4 349.3L552.6 348.7L551.8 349.1L551 349L550.2 348.8L549.4 349L548.6 349L547.8 349.1L547 349L546.2 349L545.4 349L544.6 348.7L543.8 348.7L543 348.7L542.2 348.8L541.4 349.2L540.6 349L539.8 348.8L539 348.8L538.2 349.8L537.4 348.6L536.6 348.7L535.8 348.7L535 348.7L534.2 348.5L533.4 348.7L532.6 348.9L531.8 348.4L531 348.5L530.2 348.7L529.4 348.8L528.6 349L527.8 348.8L527 348.4L526.2 349.2L525.4 349.1L524.6 349.1L523.8 349.1L523 349.1L522.2 349L521.4 348.9L520.6 348.6L519.8 349.1L519 348.6L518.2 348.8L517.4 348.6L516.6 349L515.8 348.8L515 348.5L514.2 349L513.4 349L512.6 349L511.8 348.4L511 348.9L510.2 348.9L509.4 348.5L508.6 348.6L507.8 348.7L507 349.2L506.2 349.2L505.4 348.5L504.6 348.4L503.8 348.6L503 349L502.2 348.7L501.4 349.1L500.6 348.9L499.8 349.2L499 348.7L498.2 348.6L497.4 348.8L496.6 349L495.8 348.5L495 348.9L494.2 349.2L493.4 348.5L492.6 348.4L491.8 349.2L491 349.1L490.2 350.1L489.4 349L488.6 349.2L487.8 350.3L487 348.6L486.2 348.5L485.4 348.7L484.6 349.1L483.8 349.7L483 348.7L482.2 348.4L481.4 348.7L480.6 348.9L479.8 348.9L479 348.9L478.2 349L477.4 349.1L476.6 349L475.8 348.7L475 349.2L474.2 349.1L473.4 349.2L472.6 349.1L471.8 348.6L471 348.8L470.2 349.2L469.4 348.4L468.6 349L467.8 349.1L467 349L466.2 348.9L465.4 349.2L464.6 348.6L463.8 348.9L463 348.8L462.2 349.1L461.4 348.6L460.6 348.6L459.8 348.8L459 349L458.2 349.2L457.4 349.3L456.6 348.5L455.8 348.7L455 349L454.2 348.5L453.4 348.5L452.6 349.2L451.8 348.7L451 348.8L450.2 348.9L449.4 349.2L448.6 348.4L447.8 348.8L447 349.2L446.2 348.7L445.4 349.7L444.6 349.2L443.8 349.3L443 348.9L442.2 348.5L441.4 348.8L440.6 348.5L439.8 348.5L439 349.1L438.2 349.9L437.4 348.7L436.6 349.2L435.8 349.2L435 348.7L434.2 349.1L433.4 348.6L432.6 348.6L431.8 348.6L431 349L430.2 349.2L429.4 348.6L428.6 349.1L427.8 348.8L427 349L426.2 348.9L425.4 348.5L424.6 348.6L423.8 349.2L423 348.9L422.2 348.6L421.4 348.8L420.6 348.7L419.8 348.4L419 348.5L418.2 348.7L417.4 348.6L416.6 348.4L415.8 348.6L415 350L414.2 348.5L413.4 348.8L412.6 349.1L411.8 348.6L411 349.1L410.2 348.5L409.4 348.9L408.6 348.8L407.8 348.8L407 348.6L406.2 349.3L405.4 348.8L404.6 349.6L403.8 348.7L403 350.3L402.2 348.9L401.4 348.5L400.6 348.5L399.8 348.4L399 349L398.2 349L397.4 349.1L396.6 349.3L395.8 349L395 348.9L394.2 349L393.4 348.8L392.6 348.8L391.8 349.3L391 349.3L390.2 349L389.4 348.5L388.6 348.7L387.8 349.1L387 348.6L386.2 349.1L385.4 349.2L384.6 349.3L383.8 349.2L383 348.6L382.2 349.3L381.4 349.3L380.6 349.1L379.8 348.4L379 349L378.2 348.7L377.4 348.7L376.6 349L375.8 349.3L375 349L374.2 349.1L373.4 348.4L372.6 348.6L371.8 348.8L371 348.7L370.2 348.7L369.4 349.3L368.6 348.8L367.8 349.2L367 348.6L366.2 349L365.4 348.7L364.6 349.3L363.8 348.5L363 348.9L362.2 349.3L361.4 349L360.6 348.6L359.8 349.2L359 349L358.2 349.1L357.4 348.7L356.6 348.5L355.8 348.9L355 348.6L354.2 348.5L353.4 348.5L352.6 348.5L351.8 348.5L351 348.5L350.2 348.7L349.4 349.1L348.6 349.3L347.8 349L347 349.3L346.2 348.9L345.4 348.6L344.6 348.7L343.8 349.3L343 349.3L342.2 349.3L341.4 348.7L340.6 348.5L339.8 348.5L339 348.8L338.2 349.1L337.4 349L336.6 348.5L335.8 348.7L335 348.8L334.2 348.5L333.4 349.1L332.6 349.3L331.8 348.5L331 348.9L330.2 348.9L329.4 349.1L328.6 348.7L327.8 348.8L327 348.8L326.2 348.9L325.4 348.9L324.6 349.1L323.8 348.5L323 348.9L322.2 349L321.4 348.8L320.6 349.1L319.8 349.3L319 349L318.2 349.1L317.4 349L316.6 349.1L315.8 348.9L315 348.6L314.2 349.3L313.4 349.1L312.6 349.3L311.8 348.6L311 348.7L310.2 349.4L309.4 348.5L308.6 348.7L307.8 349.1L307 348.7L306.2 348.9L305.4 348.9L304.6 349.3L303.8 348.7L303 348.9L302.2 349.2L301.4 349.3L300.6 348.7L299.8 348.9L299 349.4L298.2 349.1L297.4 348.8L296.6 349.2L295.8 349.2L295 349.2L294.2 348.7L293.4 348.9L292.6 349L291.8 348.9L291 349.2L290.2 348.7L289.4 348.5L288.6 349L287.8 348.8L287 348.8L286.2 348.8L285.4 349.2L284.6 349L283.8 348.7L283 348.6L282.2 348.9L281.4 348.9L280.6 349.3L279.8 349.1L279 348.9L278.2 348.7L277.4 349L276.6 349L275.8 348.5L275 348.7L274.2 348.5L273.4 349.2L272.6 348.8L271.8 348.9L271 349.3L270.2 348.7L269.4 349.1L268.6 348.5L267.8 348.6L267 349L266.2 348.9L265.4 349.2L264.6 349.2L263.8 348.6L263 348.8L262.2 349.2L261.4 348.5L260.6 348.9L259.8 349.1L259 348.5L258.2 349.1L257.4 349.2L256.6 348.8L255.8 349.7L255 349L254.2 349L253.4 348.9L252.6 348.8L251.8 349.2L251 348.7L250.2 348.7L249.4 348.5L248.6 349.5L247.8 349.3L247 348.6L246.2 349.3L245.4 348.6L244.6 350.4L243.8 349L243 348.8L242.2 348.8L241.4 348.6L240.6 350L239.8 348.8L239 349.2L238.2 348.8L237.4 349.1L236.6 349L235.8 348.6L235 349.1L234.2 348.8L233.4 349.8L232.6 348.6L231.8 349.2L231 349L230.2 348.7L229.4 348.5L228.6 349.3L227.8 349.2L227 349.7L226.2 349L225.4 349.2L224.6 350.4L223.8 348.7L223 349L222.2 348.7L221.4 349.3L220.6 348.7L219.8 348.8L219 348.8L218.2 350L217.4 349.1L216.6 348.7L215.8 348.6L215 348.7L214.2 349.1L213.4 349.3L212.6 348.8L211.8 348.9L211 349.3L210.2 348.7L209.4 349.3L208.6 349.3L207.8 349L207 348.7L206.2 348.9L205.4 348.7L204.6 349L203.8 349L203 349L202.2 349.3L201.4 349.3L200.6 348.7L199.8 348.7L199 349.2L198.2 348.5L197.4 348.8L196.6 349L195.8 349.2L195 348.7L194.2 348.9L193.4 348.7L192.6 349.3L191.8 349.3L191 348.7L190.2 349.3L189.4 348.7L188.6 349.2L187.8 348.7L187 348.6L186.2 349.1L185.4 349.2L184.6 349.1L183.8 348.9L183 348.6L182.2 348.8L181.4 349.1L180.6 348.8L179.8 348.9L179 349L178.2 349.3L177.4 348.9L176.6 348.6L175.8 349L175 349.1L174.2 348.8L173.4 348.7L172.6 348.7L171.8 349L171 349.4L170.2 349.4L169.4 349.4L168.6 348.9L167.8 348.8L167 348.6L166.2 349L165.4 349.4L164.6 348.9L163.8 348.8L163 349L162.2 349.2L161.4 349.4L160.6 349.1L159.8 349.4L159 349.3L158.2 348.6L157.4 349.2L156.6 349L155.8 348.9L155 349.4L154.2 348.6L153.4 348.5L152.6 349.1L151.8 348.8L151 348.8L150.2 349.4L149.4 348.9L148.6 348.7L147.8 348.9L147 349.2L146.2 349.2L145.4 348.6L144.6 348.6L143.8 349L143 348.7L142.2 349.1L141.4 349.2L140.6 348.7L139.8 349.3L139 349.3L138.2 348.8L137.4 349.4L136.6 349.4L135.8 348.7L135 348.7L134.2 348.9L133.4 349.2L132.6 349.2L131.8 348.6L131 349.2L130.2 349.6L129.4 349.4L128.6 350.2L127.8 349L127 348.6L126.2 349.2L125.4 349.3L124.6 348.6L123.8 349.3L123 348.6L122.2 349.4L121.4 350.5L120.6 349.2L119.8 349.3L119 348.7L118.2 349.4L117.4 349.4L116.6 349.3L115.8 349.4L115 348.9L114.2 349.3L113.4 348.6L112.6 348.9L111.8 349.3L111 348.6L110.2 349.2L109.4 349L108.6 348.9L107.8 349.1L107 348.6L106.2 349.1L105.4 348.8L104.6 348.7L103.8 348.8L103 348.8L102.2 348.9L101.4 349.3L100.6 349.2L99.8 349.3L99 349.4L98.2 349.4L97.4 349.4L96.6 348.9L95.8 349.2L95 348.6L94.2 348.5L93.4 349.4L92.6 348.8L91.8 348.9L91 349.6L90.2 348.6L89.4 348.6L88.6 349.3L87.8 348.6L87 349L86.2 348.9L85.4 350.2L84.6 349.2L83.8 349.4L83 348.9L82.2 349.4L81.4 348.8L80.6 349.3L79.8 349.3L79 349.1L78.2 348.6L77.4 349.2L76.6 348.9L75.8 349.3L75 349.1L74.2 349.1L73.4 348.8L72.6 349.1L71.8 349.4Z" fill="#0000ff"/>
<path d="M76.6 343V362.5" stroke="#0000ff" stroke-width="3.0" fill="none"/>
<path d="M78.6 343V356" stroke="#0000ff" stroke-width="2.0" fill="none"/>
<path d="M87 340.8V346" stroke="#0000ff" stroke-width="2.0" fill="none"/>
<path d="M292 341.5V354.1" stroke="#0000ff" stroke-width="2.0" fill="none"/>
<path d="M71.8 328.7L72.6 329L73.4 328L74.2 328.5L75 328.4L75.8 328.9L76.6 328.6L77.4 328.8L78.2 328.3L79 328.2L79.8 328.7L80.6 329L81.4 328.5L82.2 328.4L83 328.9L83.8 329L84.6 329L85.4 329L86.2 328.7L87 328.4L87.8 329L88.6 329L89.4 328.8L90.2 328.7L91 328.7L91.8 328.3L92.6 328.4L93.4 328.8L94.2 328.7L95 328.6L95.8 328.5L96.6 328.4L97.4 328.7L98.2 328.5L99 328.3L99.8 328.8L100.6 328.5L101.4 328.9L102.2 328.3L103 329L103.8 328.4L104.6 328.9L105.4 328.2L106.2 328.6L107 327.6L107.8 328.3L108.6 328.2L109.4 328.4L110.2 328.8L111 328.7L111.8 328.5L112.6 328.3L113.4 328.5L114.2 328.3L115 328.7L115.8 328.5L116.6 328.8L117.4 328.7L118.2 328.1L119 328.6L119.8 328.8L120.6 328.2L121.4 328.6L122.2 328.7L123 328.5L123.8 328.2L124.6 328.8L125.4 328.8L126.2 328.5L127 328.1L127.8 328.2L128.6 328.8L129.4 328.8L130.2 328.1L131 328.2L131.8 328.3L132.6 328.7L133.4 328.7L134.2 328.4L135 328.4L135.8 328.6L136.6 328.8L137.4 327.6L138.2 328.8L139 328.1L139.8 328L140.6 328.3L141.4 328.3L142.2 328.2L143 328.3L143.8 328.7L144.6 328.3L145.4 328.6L146.2 328.5L147 328.6L147.8 328.1L148.6 328.5L149.4 328L150.2 328.6L151 328.7L151.8 328.4L152.6 328.2L153.4 328.1L154.2 328.4L155 328.2L155.8 328.1L156.6 328.6L157.4 328.4L158.2 328.2L159 328.4L159.8 328.7L160.6 328.6L161.4 328.2L162.2 328.3L163 328.5L163.8 328.7L164.6 328.6L165.4 328.3L166.2 328L167 328.3L167.8 328.7L168.6 328.3L169.4 328.4L170.2 328L171 328.5L171.8 328.4L172.6 328.5L173.4 328.4L174.2 328.4L175 328.6L175.8 328.5L176.6 328.2L177.4 328.5L178.2 328.4L179 328.3L179.8 328.2L180.6 328.4L181.4 328.7L182.2 327.9L183 328.2L183.8 328.5L184.6 328.2L185.4 328L186.2 328.5L187 328.6L187.8 328.1L188.6 328.2L189.4 328.3L190.2 327.9L191 328L191.8 327.8L192.6 328.4L193.4 328L194.2 327.9L195 328.5L195.8 328L196.6 328.1L197.4 328L198.2 328.5L199 328.2L199.8 328L200.6 328.5L201.4 328.6L202.2 328.4L203 328.4L203.8 328.1L204.6 327.8L205.4 328.5L206.2 328.4L207 328.2L207.8 327.9L208.6 327.9L209.4 328.3L210.2 328.1L211 328.5L211.8 328.3L212.6 328.1L213.4 328.4L214.2 328L215 328.2L215.8 328.6L216.6 328.1L217.4 328.3L218.2 328.1L219 328L219.8 328.4L220.6 328.3L221.4 327.9L222.2 328.3L223 327.9L223.8 328L224.6 328.2L225.4 328.1L226.2 328.2L227 327.9L227.8 328.2L228.6 328.3L229.4 328L230.2 328.3L231 328.4L231.8 327.9L232.6 327.8L233.4 328.3L234.2 328.4L235 328.3L235.8 328.3L236.6 327.9L237.4 327.9L238.2 328L239 327.8L239.8 328.3L240.6 328.5L241.4 328L242.2 327.9L243 327.8L243.8 328.3L244.6 327.8L245.4 327.7L246.2 328.1L247 328.3L247.8 328.1L248.6 328.4L249.4 328.2L250.2 328.2L251 328L251.8 327.7L252.6 327.9L253.4 328.3L254.2 328.5L255 328.3L255.8 328L256.6 327.8L257.4 328.1L258.2 327.9L259 328.1L259.8 328.2L260.6 327.9L261.4 327.9L262.2 328.3L263 328.2L263.8 328.5L264.6 328.4L265.4 327.8L266.2 327.9L267 327.4L267.8 328.4L268.6 327.8L269.4 327.9L270.2 328L271 327.9L271.8 328.2L272.6 328.2L273.4 328.3L274.2 328L275 328.1L275.8 328.4L276.6 327.9L277.4 327.8L278.2 328.4L279 328.1L279.8 328.3L280.6 328.1L281.4 328.1L282.2 328.1L283 328.2L283.8 327.8L284.6 327.7L285.4 328L286.2 327.8L287 328.4L287.8 328.4L288.6 328L289.4 327.9L290.2 327.8L291 328.3L291.8 328.2L292.6 328L293.4 327.8L294.2 327.8L295 327.8L295.8 328.2L296.6 327.8L297.4 328.1L298.2 328.3L299 327.9L299.8 327.8L300.6 328L301.4 328.1L302.2 328.2L303 328.1L303.8 328.1L304.6 328.4L305.4 328.3L306.2 327.9L307 328L307.8 328.4L308.6 327.7L309.4 328.3L310.2 327.6L311 328.1L311.8 327.8L312.6 328.2L313.4 328.2L314.2 327.9L315 327.7L315.8 328.2L316.6 327.9L317.4 327.8L318.2 327.7L319 327.7L319.8 327.7L320.6 328.1L321.4 328.1L322.2 328.3L323 328.2L323.8 328L324.6 327.6L325.4 328.4L326.2 328L327 328.4L327.8 328.3L328.6 328.3L329.4 328.4L330.2 328.4L331 328L331.8 328L332.6 328L333.4 328.3L334.2 327.6L335 328L335.8 328L336.6 328.2L337.4 327.7L338.2 328.2L339 328L339.8 327.6L340.6 327.8L341.4 328.1L342.2 327.7L343 328.2L343.8 328.1L344.6 327.8L345.4 328L346.2 328.3L347 328.1L347.8 327.9L348.6 327.8L349.4 328L350.2 327.8L351 328.1L351.8 327.6L352.6 328L353.4 328.3L354.2 327.9L355 327.9L355.8 328.1L356.6 328.1L357.4 328.2L358.2 328.1L359 328.2L359.8 328.2L360.6 327.9L361.4 328L362.2 328L363 328L363.8 326.9L364.6 327.7L365.4 328L366.2 328.1L367 328.1L367.8 327.6L368.6 327.8L369.4 327.5L370.2 328.1L371 328.2L371.8 327.7L372.6 327.6L373.4 328L374.2 327.6L375 327.8L375.8 327.5L376.6 327.4L377.4 327.7L378.2 328.2L379 328.3L379.8 327.8L380.6 327.9L381.4 327.8L382.2 327.6L383 328L383.8 328.2L384.6 327.8L385.4 328L386.2 327.7L387 327.9L387.8 328.2L388.6 327.6L389.4 327.7L390.2 328L391 328.1L391.8 327.8L392.6 328.2L393.4 327.8L394.2 328.2L395 327.7L395.8 328.1L396.6 328.2L397.4 328L398.2 328L399 327.2L399.8 328L400.6 328.1L401.4 327.5L402.2 328.2L403 327.8L403.8 328.1L404.6 327.7L405.4 328.2L406.2 327.8L407 327.7L407.8 327.7L408.6 327.6L409.4 328L410.2 327.8L411 328L411.8 328.2L412.6 328.1L413.4 327.5L414.2 327.8L415 327.8L415.8 327.4L416.6 327.6L417.4 328.1L418.2 328L419 327.7L419.8 328.1L420.6 327.9L421.4 327.7L422.2 327.9L423 327.8L423.8 328L424.6 328L425.4 328.2L426.2 327.9L427 327.7L427.8 327.5L428.6 328.2L429.4 328.1L430.2 328.1L431 327.8L431.8 328.2L432.6 327.5L433.4 327.9L434.2 327.9L435 327.8L435.8 328L436.6 327.9L437.4 327.7L438.2 327.7L439 328.1L439.8 327.7L440.6 327.4L441.4 328.1L442.2 327.7L443 327.5L443.8 328.1L444.6 328L445.4 327.5L446.2 327.5L447 328L447.8 328.1L448.6 327.7L449.4 327.6L450.2 327.8L451 328L451.8 328.1L452.6 327.7L453.4 328L454.2 327.7L455 328L455.8 327.6L456.6 327.6L457.4 327.7L458.2 328.1L459 328.1L459.8 327.6L460.6 328L461.4 328L462.2 327.9L463 327.8L463.8 327.7L464.6 327.8L465.4 327.3L466.2 327.4L467 328.1L467.8 327.7L468.6 327.4L469.4 327.9L470.2 327.5L471 327.8L471.8 327.9L472.6 327.7L473.4 327.6L474.2 327.7L475 327.5L475.8 328L476.6 327.7L477.4 328.1L478.2 327.6L479 327.5L479.8 328.1L480.6 327.4L481.4 327.7L482.2 328L483 327.9L483.8 327.6L484.6 327.9L485.4 327.3L486.2 327.8L487 327.9L487.8 327.9L488.6 328L489.4 327.8L490.2 327.7L491 327.3L491.8 328L492.6 327.4L493.4 327.9L494.2 327.5L495 327.9L495.8 327.3L496.6 327.5L497.4 327.8L498.2 327.6L499 327.8L499.8 327.5L500.6 327.8L501.4 327.4L502.2 327.7L503 327.3L503.8 327.4L504.6 327.9L505.4 328L506.2 328L507 327.6L507.8 327.3L508.6 327.9L509.4 327.9L510.2 327.5L511 327.4L511.8 327.7L512.6 327.6L513.4 327.3L514.2 327.8L515 327.8L515.8 327.7L516.6 327.5L517.4 327.8L518.2 327.3L519 327.5L519.8 327.8L520.6 327.5L521.4 327.5L522.2 327.7L523 328L523.8 328L524.6 327.8L525.4 327.3L526.2 327.9L527 327.7L527.8 327.9L528.6 327.7L529.4 327.8L530.2 326.7L531 327.7L531.8 327.5L532.6 327.4L533.4 327.3L534.2 327.6L535 327.2L535.8 327.9L536.6 327.8L537.4 327.5L538.2 327.3L539 327.3L539.8 327.5L540.6 327.3L541.4 327.7L542.2 327.5L543 327.8L543.8 328L544.6 327.3L545.4 327.3L546.2 327.4L547 327.5L547.8 327.8L548.6 327.7L549.4 327.3L550.2 327.9L551 328L551.8 327.7L552.6 327.5L553.4 327.9L554.2 327.7L555 327.7L555.8 328L556.6 327.3L557.4 327.7L558.2 327.9L559 327.3L559.8 327.5L560.6 327.9L561.4 327.5L562.2 327.8L563 327.8L563.8 327.8L564.6 327.9L565.4 327.4L566.2 327.9L567 327.7L567.8 327.2L568.6 327.9L569.4 327.3L570.2 327.8L571 327.7L571.8 327.3L572.6 327.7L573.4 327.7L574.2 327.6L575 327.2L575.8 327.5L576.6 327.6L577.4 327.9L578.2 327.9L579 327.7L579.8 327.5L580.6 327.2L581.4 327.5L582.2 327.9L583 327.2L583.8 327.7L584.6 327.6L585.4 326.5L586.2 327.5L587 327.8L587.8 327.7L588.6 327.2L589.4 327.3L590.2 327.5L591 327.7L591.8 327.6L592.6 327.9L593.4 327.2L594.2 327.9L595 327.5L595.8 327.8L596.6 327.2L597.4 327.5L598.2 327.3L599 327.2L599.8 327.8L600.6 327.1L601.4 327.2L602.2 327.6L603 327.5L603.8 327.8L604.6 327.3L605.4 327.6L606.2 327.5L607 327.4L607.8 327.6L608.6 327.5L609.4 327.1L610.2 327.7L611 327.4L611.8 327.6L612.6 327.5L613.4 327.5L614.2 327.2L615 327.7L615.8 327.7L616.6 326.6L617.4 327.7L618.2 327.2L619 327.7L619.8 327.4L620.6 327.5L620.6 331.9L619.8 331.5L619 331.5L618.2 331.4L617.4 331.4L616.6 331.3L615.8 331.3L615 331.5L614.2 331.3L613.4 331.7L612.6 331.7L611.8 331L611 331.2L610.2 331.2L609.4 331.1L608.6 331.7L607.8 331.4L607 331.5L606.2 331.3L605.4 331.6L604.6 331.8L603.8 331.4L603 331.3L602.2 331.4L601.4 331.5L600.6 331.1L599.8 332L599 332.4L598.2 331.2L597.4 331.8L596.6 331.1L595.8 331.7L595 331.3L594.2 331.8L593.4 332L592.6 331.5L591.8 331.8L591 331.7L590.2 331.4L589.4 331.5L588.6 331.4L587.8 331.1L587 332.5L586.2 331.9L585.4 331.9L584.6 331.9L583.8 331.6L583 331.2L582.2 331.2L581.4 331.3L580.6 331.2L579.8 331.1L579 331.5L578.2 331.6L577.4 331.7L576.6 331.7L575.8 331.4L575 331.3L574.2 331.6L573.4 331.2L572.6 331.7L571.8 331.2L571 331.4L570.2 331.9L569.4 331.6L568.6 331.8L567.8 331.4L567 331.7L566.2 332L565.4 331.7L564.6 331.1L563.8 331.2L563 331.6L562.2 331.7L561.4 331.7L560.6 331.3L559.8 331.8L559 331.4L558.2 331.7L557.4 332.2L556.6 331.5L555.8 331.2L555 331.3L554.2 331.5L553.4 331.7L552.6 331.2L551.8 331.5L551 331.7L550.2 331.3L549.4 331.2L548.6 331.9L547.8 331.6L547 331.8L546.2 331.8L545.4 331.9L544.6 331.7L543.8 331.3L543 331.4L542.2 332.4L541.4 331.9L540.6 331.5L539.8 331.9L539 331.9L538.2 332L537.4 331.5L536.6 332L535.8 331.5L535 331.5L534.2 331.2L533.4 331.4L532.6 331.8L531.8 332L531 331.3L530.2 331.9L529.4 331.9L528.6 331.4L527.8 331.5L527 331.5L526.2 331.3L525.4 331.7L524.6 331.9L523.8 331.8L523 331.3L522.2 332L521.4 332L520.6 331.4L519.8 331.8L519 331.5L518.2 331.7L517.4 331.4L516.6 331.7L515.8 331.4L515 331.6L514.2 331.7L513.4 331.4L512.6 331.7L511.8 331.5L511 331.5L510.2 332.9L509.4 331.9L508.6 331.8L507.8 331.7L507 331.3L506.2 331.7L505.4 331.9L504.6 331.6L503.8 331.8L503 331.4L502.2 332.1L501.4 331.8L500.6 331.4L499.8 331.5L499 331.8L498.2 331.8L497.4 332L496.6 331.8L495.8 331.7L495 331.7L494.2 332.1L493.4 331.7L492.6 331.4L491.8 331.3L491 332.1L490.2 331.7L489.4 331.6L488.6 331.9L487.8 332.1L487 331.7L486.2 331.7L485.4 331.4L484.6 331.4L483.8 331.8L483 331.7L482.2 332.1L481.4 331.5L480.6 331.6L479.8 332L479 331.6L478.2 331.6L477.4 332.1L476.6 331.8L475.8 331.9L475 332.1L474.2 331.4L473.4 331.5L472.6 331.9L471.8 331.9L471 331.5L470.2 331.7L469.4 331.9L468.6 331.9L467.8 331.4L467 332.2L466.2 331.4L465.4 332.1L464.6 331.8L463.8 331.5L463 331.6L462.2 331.7L461.4 331.6L460.6 332.1L459.8 331.9L459 331.9L458.2 331.9L457.4 332.1L456.6 331.6L455.8 332.1L455 332.2L454.2 331.7L453.4 332.1L452.6 332L451.8 331.8L451 331.8L450.2 331.9L449.4 332L448.6 332.2L447.8 331.6L447 331.7L446.2 331.4L445.4 331.9L444.6 332L443.8 331.7L443 331.7L442.2 332.8L441.4 331.7L440.6 331.8L439.8 331.7L439 332.1L438.2 331.9L437.4 331.8L436.6 331.7L435.8 331.9L435 331.9L434.2 331.7L433.4 331.6L432.6 331.9L431.8 331.8L431 331.9L430.2 331.6L429.4 332.1L428.6 332L427.8 332L427 331.6L426.2 332L425.4 332.8L424.6 332.2L423.8 332.3L423 331.8L422.2 331.8L421.4 331.8L420.6 331.6L419.8 332.2L419 331.5L418.2 331.6L417.4 332.2L416.6 331.8L415.8 332.1L415 332.3L414.2 332L413.4 332L412.6 332.3L411.8 331.8L411 332.2L410.2 331.9L409.4 332.2L408.6 331.7L407.8 331.9L407 332.1L406.2 331.7L405.4 331.8L404.6 332L403.8 331.6L403 332L402.2 331.6L401.4 331.9L400.6 332.1L399.8 332.9L399 331.9L398.2 332.2L397.4 332.3L396.6 332.3L395.8 331.7L395 331.9L394.2 331.9L393.4 331.8L392.6 332.3L391.8 332.1L391 332.2L390.2 332.1L389.4 331.6L388.6 332.1L387.8 332.3L387 331.9L386.2 331.8L385.4 331.9L384.6 332.2L383.8 331.7L383 332.2L382.2 332.3L381.4 331.7L380.6 331.8L379.8 332.1L379 332.8L378.2 332.3L377.4 331.7L376.6 332.2L375.8 331.7L375 331.9L374.2 332.1L373.4 332.4L372.6 331.6L371.8 331.6L371 331.8L370.2 332L369.4 332L368.6 332.2L367.8 332.3L367 332.6L366.2 332L365.4 332.1L364.6 332L363.8 331.9L363 331.7L362.2 332.1L361.4 331.7L360.6 332L359.8 331.9L359 331.6L358.2 332.1L357.4 332.3L356.6 331.8L355.8 332L355 331.8L354.2 332.3L353.4 332.1L352.6 331.9L351.8 332.1L351 331.8L350.2 332.3L349.4 332.1L348.6 331.8L347.8 331.8L347 331.7L346.2 332.2L345.4 332.4L344.6 332.4L343.8 332.2L343 332.3L342.2 332.1L341.4 332L340.6 333L339.8 332.5L339 331.9L338.2 332.4L337.4 332.2L336.6 332.3L335.8 331.9L335 332.1L334.2 332.5L333.4 332.3L332.6 332.5L331.8 331.8L331 332.1L330.2 333.3L329.4 332.2L328.6 331.8L327.8 331.7L327 332.1L326.2 331.7L325.4 331.7L324.6 332.2L323.8 331.8L323 332.3L322.2 332.2L321.4 331.9L320.6 332.4L319.8 331.9L319 332L318.2 332.2L317.4 332.2L316.6 332L315.8 332.5L315 331.7L314.2 332L313.4 332L312.6 331.9L311.8 332.5L311 332.1L310.2 331.8L309.4 331.8L308.6 332.5L307.8 332L307 331.8L306.2 331.8L305.4 331.9L304.6 332.4L303.8 332.3L303 331.9L302.2 332.4L301.4 332L300.6 332.5L299.8 332.2L299 332.3L298.2 332.5L297.4 332L296.6 333.4L295.8 332L295 331.9L294.2 332.5L293.4 331.9L292.6 332.2L291.8 332.4L291 331.8L290.2 332.4L289.4 332L288.6 331.8L287.8 332.8L287 331.8L286.2 332.3L285.4 332.2L284.6 331.9L283.8 332L283 332.2L282.2 332.4L281.4 332.5L280.6 332.3L279.8 331.9L279 332L278.2 332.3L277.4 332.4L276.6 332.5L275.8 332.2L275 332.5L274.2 332.1L273.4 332.5L272.6 332.1L271.8 332.5L271 332L270.2 332.3L269.4 332.4L268.6 332.4L267.8 332.1L267 332.6L266.2 332.3L265.4 332L264.6 332.2L263.8 332.3L263 332.6L262.2 332.5L261.4 331.9L260.6 332.3L259.8 332.6L259 332.4L258.2 331.9L257.4 332.5L256.6 332.5L255.8 332.2L255 332.3L254.2 332.2L253.4 332.1L252.6 332.1L251.8 332L251 332.5L250.2 332.4L249.4 332.1L248.6 332.6L247.8 331.9L247 332.2L246.2 332.4L245.4 332.2L244.6 332.2L243.8 332.5L243 332.3L242.2 332.7L241.4 332L240.6 332.3L239.8 332.4L239 332.5L238.2 332.5L237.4 332.2L236.6 332L235.8 332.7L235 332.1L234.2 332.5L233.4 332.2L232.6 332.7L231.8 332.7L231 332.4L230.2 332.7L229.4 332L228.6 332.7L227.8 332.2L227 332.1L226.2 332.3L225.4 332.3L224.6 332.1L223.8 332.1L223 332.4L222.2 332.3L221.4 332.3L220.6 332.4L219.8 332.4L219 332.6L218.2 332.6L217.4 332.1L216.6 332.2L215.8 332.3L215 332.3L214.2 332.7L213.4 332.4L212.6 332.7L211.8 332.2L211 332L210.2 332.3L209.4 332.2L208.6 332.2L207.8 332.5L207 332.5L206.2 333.1L205.4 332.6L204.6 332.6L203.8 332.3L203 332.4L202.2 332.3L201.4 332.8L200.6 332.5L199.8 332.3L199 332.3L198.2 332.2L197.4 332.6L196.6 332.4L195.8 332.3L195 332.3L194.2 332.2L193.4 332L192.6 332.4L191.8 332.8L191 332.1L190.2 332.5L189.4 333.3L188.6 332.3L187.8 332.1L187 332.1L186.2 332.5L185.4 332.3L184.6 332.3L183.8 332.6L183 332.6L182.2 332.4L181.4 332.4L180.6 332.2L179.8 332.8L179 332.4L178.2 332.4L177.4 332.6L176.6 332.5L175.8 332.6L175 332.4L174.2 332.1L173.4 332.2L172.6 332.3L171.8 332.4L171 332.3L170.2 332.2L169.4 332.5L168.6 332.4L167.8 332.6L167 332.3L166.2 332.4L165.4 332.3L164.6 333.2L163.8 332.7L163 332.4L162.2 332.9L161.4 332.3L160.6 332.2L159.8 332.9L159 332.2L158.2 332.9L157.4 333L156.6 332.6L155.8 332.9L155 332.7L154.2 332.8L153.4 332.7L152.6 332.4L151.8 332.3L151 332.2L150.2 332.7L149.4 332.4L148.6 332.5L147.8 332.4L147 332.9L146.2 332.7L145.4 332.7L144.6 332.7L143.8 332.4L143 332.5L142.2 332.5L141.4 332.3L140.6 332.5L139.8 333.2L139 332.9L138.2 332.6L137.4 333.1L136.6 332.4L135.8 332.7L135 333L134.2 333L133.4 332.7L132.6 332.9L131.8 332.9L131 332.4L130.2 332.6L129.4 332.5L128.6 332.8L127.8 332.6L127 332.9L126.2 333.1L125.4 332.4L124.6 332.7L123.8 332.9L123 332.6L122.2 333.6L121.4 332.5L120.6 332.4L119.8 332.5L119 332.6L118.2 332.8L117.4 333.1L116.6 332.9L115.8 332.8L115 332.7L114.2 332.5L113.4 332.5L112.6 333L111.8 332.6L111 332.7L110.2 332.5L109.4 332.5L108.6 332.8L107.8 332.7L107 333.2L106.2 332.5L105.4 333.1L104.6 332.5L103.8 333.2L103 332.9L102.2 332.6L101.4 332.8L100.6 332.5L99.8 333.2L99 333.1L98.2 332.6L97.4 333.1L96.6 332.7L95.8 333.1L95 332.8L94.2 333.9L93.4 333L92.6 332.6L91.8 333.1L91 332.7L90.2 333L89.4 333.1L88.6 333.3L87.8 332.6L87 332.8L86.2 333L85.4 332.6L84.6 332.7L83.8 333L83 332.6L82.2 332.8L81.4 332.8L80.6 332.9L79.8 332.9L79 332.8L78.2 332.8L77.4 333.2L76.6 332.7L75.8 333L75 332.8L74.2 332.9L73.4 333.3L72.6 333.1L71.8 332.7Z" fill="#08b808"/>
<path d="M76.7 309.3V353.6" stroke="#08b808" stroke-width="3.1" fill="none"/>
<path d="M74.6 321V340" stroke="#08b808" stroke-width="3.0" fill="none"/>
<path d="M79.2 323.5V336" stroke="#08b808" stroke-width="2.0" fill="none"/>
<path d="M87 326V334" stroke="#08b808" stroke-width="2.0" fill="none"/>
<path d="M131.3 326V334.5" stroke="#08b808" stroke-width="1.6" fill="none"/>
<path d="M292 320.2V340.6" stroke="#08b808" stroke-width="2.2" fill="none"/>
<path d="M72 283.2 L72.9 283.2 L73.8 284 L74.7 283.6 L75.6 284.1 L76.5 283.6 L77.4 284.5 L78.3 284.2 L79.2 284.2 L80.1 283.7 L81 282.8 L81.9 282.3 L82.8 282.5 L83.7 282.4 L84.6 283.1 L85.5 283 L86.4 283.6 L87.3 283.3 L88.2 283.7 L89.1 284.3 L90 285.1 L90.9 284.2 L91.8 284 L92.7 284.1 L93.6 284.5 L94.5 283.2 L95.4 282.6 L96.3 283 L97.2 283.1 L98.1 283.5 L99 283.9 L99.9 284.3 L100 285 L100.8 284.5 L101.7 283.9 L102.6 283.2 L103.5 284.1 L104.4 283.4 L105.3 283.2 L106.2 283.1 L107.1 282.7 L108 283.2 L108.5 282.5 L108.9 281.6 L109.8 280.4 L110.5 279.8 L110.7 279.9 L111.6 278.7 L112.3 278 L112.5 277.5 L113.4 279.4 L114.3 280.8 L114.5 280.7 L115.2 281.3 L116.1 282.4 L117 284 L117 283.3 L117.9 283.5 L118.8 282.8 L119.7 283.7 L120 283.5 L120.6 284.1 L121.5 283.8 L122.4 284 L123.3 283.7 L124.2 282.8 L125.1 283.8 L126 284.5 L126.9 284.5 L127.8 284.5 L128.7 284.2 L129.6 284 L130.5 284.8 L131.4 284.8 L132.3 284.9 L133.2 284.5 L134.1 284.2 L135 284.9 L135.9 284.4 L136.8 283.6 L137.7 283.1 L138.6 283.6 L139.5 283.2 L140.4 283.9 L141.3 284 L142.2 283.4 L143.1 283.8 L144 283.5 L144.9 283.2 L145.8 282.8 L146.7 283 L147.6 283.7 L148.5 283.4 L149.4 282.3 L150.3 282.7 L151.2 283.6 L152.1 284.2 L153 283.6 L153.9 283.2 L154.8 282.8 L155.7 283.4 L156.6 283.8 L157.5 284.6 L158.4 283.7 L159.3 283.2 L160 283.7 L160.2 283.2 L161.1 282.9 L162 282.1 L162.9 282.2 L163.8 282.8 L164.7 283.2 L165.6 283.8 L166.5 283.6 L167.4 284.2 L168.3 284.1 L169.2 284.2 L170.1 283.5 L171 283.2 L171.9 283.4 L172.8 283.3 L173.7 282.9 L174.6 282.3 L175.5 282.5 L176.4 282.3 L177.3 282.9 L178.2 283.2 L179.1 283.2 L180 282.3 L180.9 282.6 L181.8 283.6 L182.7 283.6 L183.6 283 L184.5 282.3 L185.4 282.7 L186.3 283.2 L187.2 283.6 L188.1 282.9 L189 283 L189.9 283.4 L190.8 283.8 L191.7 283.7 L192.6 283.7 L193.5 283.1 L194.4 283.3 L195.3 283.6 L196.2 284.1 L197.1 284.4 L198 284.6 L198.9 283.8 L199.8 283.4 L200 283.5 L200.7 284.6 L201.6 284.6 L202.5 283.6 L203.4 282.8 L204.3 283.1 L205.2 283 L206.1 282.2 L207 282.8 L207.9 282.9 L208.8 282.9 L209.7 283.1 L210.6 282.8 L211.5 282.6 L212 282.1 L212.4 282.5 L213.3 282.5 L214.2 281.4 L215.1 281.1 L216 281 L216.9 281 L217 280 L217.8 279.8 L218.7 281.1 L219.6 281.8 L220.5 282.2 L221 282.8 L221.4 282.8 L222.3 283.3 L223.2 282.9 L224.1 282.9 L225 283.2 L225.9 283 L226.8 282.8 L227.7 282.7 L228.6 282 L229.5 283 L230.4 282.6 L231.3 283.7 L232.2 282.4 L233.1 282.8 L234 282.1 L234.9 282.8 L235.8 283.1 L236.7 283.6 L237.6 282.6 L238.5 283.1 L239.4 282.6 L240.3 283.2 L241.2 282.5 L242.1 282.9 L243 283.1 L243.9 283 L244.8 282.8 L245.7 283.6 L246.6 283.4 L247.5 283.1 L248.4 283.2 L249.3 283.5 L250.2 284.5 L251.1 284.7 L252 284.8 L252.9 284.5 L253.8 284.2 L254.7 284 L255.6 283.4 L256.5 283.4 L257.4 282.9 L258.3 283.4 L259.2 283.1 L260 284.1 L260.1 284.2 L261 284.1 L261.9 283.4 L262.8 283.5 L263.7 283.4 L264.6 283.8 L265.5 284 L266.4 284 L267.3 283.6 L268.2 283.1 L269.1 283.6 L270 283.5 L270.9 282.5 L271.8 282.2 L272.7 281.4 L273.6 281.8 L274.5 281.7 L275.4 282.6 L276.3 282.5 L277.2 282.7 L278.1 282.8 L279 282.5 L279.9 283.2 L280 282.7 L280.8 282.8 L281.7 282.1 L282.6 282.1 L283.5 281.6 L284.4 281.6 L285.3 280.6 L286.2 279.6 L286.7 280.2 L287.1 280.4 L288 281.2 L288.9 281.6 L289.8 282 L290.7 282.5 L291 283.4 L291.6 283.8 L292.5 283.1 L293.4 282.7 L294.3 282.3 L295.2 283 L296.1 283.1 L297 283.4 L297.9 283.6 L298.8 283.3 L299.7 283.4 L300.6 283.5 L301.5 282.7 L302.4 282.9 L303.3 283.1 L304.2 283.9 L305.1 283.7 L306 284.5 L306.9 284.5 L307.8 284.3 L308.7 283.9 L309.6 283.3 L310.5 283.8 L311.4 283.8 L312.3 284.1 L313.2 284 L314.1 284.5 L315 284.5 L315.9 284.8 L316.8 284.5 L317.7 283.9 L318.6 283.5 L319.5 283.9 L320.4 283.1 L321.3 283.7 L322.2 283.5 L323.1 283.5 L324 282.6 L324.9 282.5 L325.8 282.7 L326.7 282.2 L327.6 281.9 L328.5 282.3 L329.4 283.4 L330 284.6 L330.3 283.3 L331.2 283.4 L332.1 283.2 L333 283.9 L333.9 284.2 L334.8 284.1 L335.7 283.7 L336.6 284 L337.5 284.1 L338.4 283 L339.3 282.4 L340.2 282.6 L341.1 282.6 L342 282.3 L342.9 283 L343.8 283.5 L344.7 284.1 L345 283.9 L345.6 283.6 L346.5 283.7 L347.4 283.6 L348.3 283.6 L349.2 282.8 L350.1 282.4 L351 282 L351.9 282.9 L352.8 282.5 L353.7 282.8 L354.6 281.9 L355.5 281.8 L356.4 281 L357.3 281.5 L358.2 281.5 L359.1 281.6 L360 282.3 L360.9 281.7 L361.8 281.5 L362.7 281.1 L363.6 281.2 L364.5 282.1 L365 282 L365.4 281.1 L366.3 279.9 L367.2 279.3 L368.1 279.2 L369 279.3 L369.9 279.3 L370.8 279.1 L371.7 278.6 L372.6 278.7 L373.5 279.3 L373.6 279.5 L374.4 279.1 L375.3 278.9 L376.2 279.5 L377.1 279.7 L378 279.6 L378.9 280 L379.8 280.7 L380.7 281 L381 281.5 L381.6 281.7 L382.5 281.3 L383.4 281.7 L384.3 282.1 L385.2 282.3 L386 282.8 L386.1 282.2 L387 282.8 L387.9 282.9 L388.8 282.1 L389.7 281.3 L390.6 280.5 L391.5 281.1 L392.4 280.9 L393.3 281 L394.2 280.5 L395.1 280.3 L396 279.6 L396.9 279.7 L397.8 279.7 L398.7 279.8 L399.6 279.8 L400 280.9 L400.5 281.3 L401.4 280.9 L402.3 280.4 L403.2 279.7 L404.1 279.8 L405 279.7 L405.9 280.3 L406.3 279.4 L406.8 279.1 L407.7 278.8 L408.6 279.2 L409.5 279.3 L410.4 279.8 L411.3 280.6 L412.2 281.6 L413 282.9 L413.1 282.5 L414 282.7 L414.9 282.4 L415.8 281.4 L416.7 281.5 L417.6 281.6 L418.5 281.2 L419.4 281.2 L420.3 281.4 L421.2 282 L422.1 282.4 L423 282.6 L423.9 283.1 L424.8 282.6 L425.7 282.6 L426.6 282.4 L427 282.6 L427.5 282.6 L428.4 282 L429.3 282.4 L430.2 282.6 L431.1 282.8 L432 283.3 L432.9 282.8 L433.8 282.3 L434.7 281.1 L435.6 281.3 L436.5 282 L437.4 282.4 L438.3 282.3 L439.2 282.3 L440.1 282.3 L441 282.2 L441.9 282.4 L442.8 282.2 L443.7 282.6 L444.6 283 L445.5 282.9 L446.4 282.6 L447.3 282.1 L448.2 282.4 L449.1 282.4 L450 281.8 L450 281.5 L450.9 281.2 L451.8 282.4 L452.7 283.1 L453.6 283.6 L454.5 283.3 L455.4 283.3 L456.3 282.9 L457.2 282.9 L458.1 282.8 L459 283 L459.9 282.3 L460.8 282.1 L461.7 281.9 L462.6 281.8 L463.5 281.8 L464.4 281.2 L465.3 281.3 L466.2 282.6 L467.1 283.6 L468 283.5 L468.9 284.1 L469.8 283.6 L470 282.7 L470.7 282.9 L471.6 282.5 L472.5 282.3 L473.4 282.2 L474.3 282.4 L475.2 282.6 L476.1 282 L477 281.8 L477.9 281.7 L478.8 281.8 L479.7 281.2 L480.6 281.2 L481.5 281.6 L482.4 282.7 L483.3 282.7 L484.2 282.6 L485.1 282.5 L486 281.9 L486.9 282 L487.8 282.3 L488.7 282.4 L489.6 282.1 L490.5 282 L491.4 281.8 L492.3 282.5 L493.2 282.8 L494.1 283 L495 283.1 L495.9 283.3 L496.8 283.7 L497.7 283.4 L498.6 283.1 L499.5 282.2 L500 282.4 L500.4 282.6 L501.3 282 L502.2 282.1 L503.1 282.1 L504 282.6 L504.9 282.3 L505.8 281.6 L506.7 282 L507.6 282.5 L508.5 283 L509.4 283.3 L510.3 282.7 L511.2 282.9 L512.1 282.9 L513 283.7 L513.9 283.8 L514.8 283.7 L515.7 283.9 L516.6 283.5 L517.5 283.1 L518.4 282.7 L519.3 283 L520.2 282.5 L521.1 282.5 L522 283 L522.9 282.9 L523.8 283.1 L524.7 283.7 L525.6 283.1 L526.5 283.7 L527.4 283.1 L528.3 284 L529 283.2 L529.2 283 L530.1 282.4 L531 282.4 L531.9 281.5 L532.8 281.5 L533.7 281.8 L534.6 281.8 L535.5 281 L536.4 280.5 L537.3 281.2 L538.2 280.6 L539.1 280.9 L540 280.4 L540 280.9 L540.9 280.7 L541.8 280.6 L542.7 280.8 L543.6 280.7 L544.5 280.3 L545.4 279.8 L546.3 280.1 L547.2 280.6 L548.1 280.4 L549 279.7 L549 279.3 L549.9 280.4 L550.8 280.6 L551.7 280.9 L552.6 281.4 L553.5 281.4 L554.4 280.8 L555.3 280.5 L556.2 281.1 L557.1 281.6 L558 282.5 L558.9 282.3 L559.8 281.7 L560 281.4 L560.7 281.5 L561.6 281.2 L562.5 281.1 L563.4 281.7 L564.3 282 L565.2 282.4 L566.1 281.9 L567 281.5 L567.9 280.7 L568.8 280.3 L569.7 280.4 L570 280.2 L570.6 280.6 L571.5 280.1 L572.4 280.1 L573.3 279.5 L574.2 279.9 L575.1 280.7 L576 280.3 L576.9 280.4 L577.8 280 L578.7 280.1 L579.6 279.9 L580.5 279.6 L581.4 279.7 L582 279.2 L582.3 279.5 L583.2 278.5 L584.1 279.5 L585 279.2 L585.9 279.7 L586.8 279.6 L587.7 280.2 L588.6 280.6 L589.5 280.7 L590 281.1 L590.4 280.9 L591.3 280.3 L592.2 279.6 L593.1 278.9 L594 278.9 L594.9 278.6 L595.8 278.9 L596.7 278.7 L597.6 278.5 L598.5 278 L599.4 278.3 L600.3 278.4 L601.2 278.6 L602.1 278.2 L602.6 277.7 L603 277.1 L603.9 278.6 L604.8 279.7 L605.7 279.7 L606.6 279.2 L607.5 279.2 L608.4 279.2 L609.3 279.6 L610.2 279.9 L611.1 279.1 L612 279.7 L612 278.9 L612.9 279.4 L613.8 278.7 L614.7 278.9 L615.6 279.3 L616.5 279.1 L617.4 279.6 L618.3 280.2 L619.2 280.3 L620.1 280.6" fill="none" stroke="#000000" stroke-width="2.5" stroke-linejoin="round" stroke-linecap="butt"/>
</g>
</g>
<text x="299.1" y="17.6" font-size="24.5" font-weight="bold" text-anchor="start">SHAM</text>
<text x="4.3" y="46.1" font-size="25" font-weight="bold" text-anchor="start">a</text>
<text x="315.2" y="441.6" font-size="18.8" font-weight="bold" text-anchor="start">Minutes</text>
<text x="16.8" y="307.8" font-size="19.1" font-weight="bold" text-anchor="start" transform="rotate(-90 16.8 307.8)">Pressure (mmHg)</text>
<text x="680.8" y="308.3" font-size="19.3" font-weight="bold" text-anchor="start" transform="rotate(-90 680.8 308.3)">Heart Rate (bpm)</text>
<path d="M134.2 47.4H156" stroke="#ff0000" stroke-width="2.7" fill="none"/>
<text x="168.9" y="53" font-size="17" font-weight="normal" text-anchor="start">AoP</text>
<path d="M222.7 47.4H245" stroke="#0000ff" stroke-width="2.7" fill="none"/>
<text x="257" y="53" font-size="17" font-weight="normal" text-anchor="start">CVP</text>
<path d="M317 47.4H338.9" stroke="#ff6600" stroke-width="2.7" fill="none"/>
<text x="350.6" y="53" font-size="17" font-weight="normal" text-anchor="start">PAP</text>
<path d="M408 47.4H429.8" stroke="#08b808" stroke-width="2.7" fill="none"/>
<text x="441.8" y="53" font-size="17" font-weight="normal" text-anchor="start">ICP</text>
<path d="M493.4 47.4H515.7" stroke="#000000" stroke-width="2.7" fill="none"/>
<text x="527.4" y="53" font-size="17" font-weight="normal" text-anchor="start">HR</text>
<g id="panel-b">
<path d="M136.6 535.9V867.2" stroke="#000" stroke-width="2.7" stroke-dasharray="7.1 3.1" stroke-dashoffset="1" fill="none"/>
<path d="M72.8 820.1H622" stroke="#000" stroke-width="1.8" fill="none"/>
<path d="M72.8 536.5V875.5M622 536.5V875.5" stroke="#000" stroke-width="1.7" fill="none"/>
<path d="M64.3 536.5H628.4M72.8 867.2H622" stroke="#000" stroke-width="1.5" fill="none"/>
<path d="M68.5 857.8H72.8M622 857.8H625.1M68.5 848.4H72.8M622 848.4H625.1M68.5 838.9H72.8M622 838.9H625.1M68.5 829.5H72.8M622 829.5H625.1M64.3 820H72.8M622 820H628.4M68.5 810.5H72.8M622 810.5H625.1M68.5 801.1H72.8M622 801.1H625.1M68.5 791.6H72.8M622 791.6H625.1M68.5 782.2H72.8M622 782.2H625.1M68.5 772.8H72.8M622 772.8H625.1M68.5 763.3H72.8M622 763.3H625.1M68.5 753.9H72.8M622 753.9H625.1M68.5 744.4H72.8M622 744.4H625.1M68.5 735H72.8M622 735H625.1M64.3 725.5H72.8M622 725.5H628.4M68.5 716H72.8M622 716H625.1M68.5 706.6H72.8M622 706.6H625.1M68.5 697.1H72.8M622 697.1H625.1M68.5 687.7H72.8M622 687.7H625.1M68.5 678.2H72.8M622 678.2H625.1M68.5 668.8H72.8M622 668.8H625.1M68.5 659.4H72.8M622 659.4H625.1M68.5 649.9H72.8M622 649.9H625.1M68.5 640.5H72.8M622 640.5H625.1M64.3 631H72.8M622 631H628.4M68.5 621.5H72.8M622 621.5H625.1M68.5 612.1H72.8M622 612.1H625.1M68.5 602.6H72.8M622 602.6H625.1M68.5 593.2H72.8M622 593.2H625.1M68.5 583.8H72.8M622 583.8H625.1M68.5 574.3H72.8M622 574.3H625.1M68.5 564.9H72.8M622 564.9H625.1M68.5 555.4H72.8M622 555.4H625.1M68.5 546H72.8M622 546H625.1M91.1 867.2V871.8M109.4 867.2V871.8M127.7 867.2V871.8M146 867.2V871.8M164.3 867.2V871.8M182.6 867.2V871.8M200.9 867.2V871.8M219.3 867.2V871.8M237.6 867.2V871.8M255.9 867.2V875.5M274.2 867.2V871.8M292.5 867.2V871.8M310.8 867.2V871.8M329.1 867.2V871.8M347.4 867.2V871.8M365.7 867.2V871.8M384 867.2V871.8M402.3 867.2V871.8M420.6 867.2V871.8M438.9 867.2V875.5M457.2 867.2V871.8M475.5 867.2V871.8M493.9 867.2V871.8M512.2 867.2V871.8M530.5 867.2V871.8M548.8 867.2V871.8M567.1 867.2V871.8M585.4 867.2V871.8M603.7 867.2V871.8" stroke="#000" stroke-width="1.5" fill="none"/>
<text x="62.6" y="825.3" font-size="16.5" font-weight="bold" text-anchor="end">0</text>
<text x="631.3" y="825.3" font-size="16.5" font-weight="bold" text-anchor="start">0</text>
<text x="63.2" y="730.8" font-size="16.5" font-weight="bold" text-anchor="end">100</text>
<text x="631.3" y="730.8" font-size="16.5" font-weight="bold" text-anchor="start">100</text>
<text x="63.2" y="636.3" font-size="16.5" font-weight="bold" text-anchor="end">200</text>
<text x="631.3" y="636.3" font-size="16.5" font-weight="bold" text-anchor="start">200</text>
<text x="63.2" y="541.8" font-size="16.5" font-weight="bold" text-anchor="end">300</text>
<text x="631.3" y="541.8" font-size="16.5" font-weight="bold" text-anchor="start">300</text>
<text x="72.8" y="892.8" font-size="16.5" font-weight="bold" text-anchor="middle">0</text>
<text x="255.9" y="892.8" font-size="16.5" font-weight="bold" text-anchor="middle">10</text>
<text x="438.9" y="892.8" font-size="16.5" font-weight="bold" text-anchor="middle">20</text>
<text x="622" y="892.8" font-size="16.5" font-weight="bold" text-anchor="middle">30</text>
<g id="data-b">
<path d="M71.4 694.1L72.1 693.5L72.8 694.2L73.5 695.6L74.2 695.3L74.9 695.6L75.6 695.7L76.3 695.8L77 695.1L77.7 694.1L78.4 694L79.1 695.9L79.8 695.8L80.5 694.6L81.2 695.2L81.9 694.8L82.6 694.4L83.3 693.3L84 693.3L84.7 692.3L85.4 693.9L86.1 694.5L86.8 694.8L87.5 694.2L88.2 693.2L88.9 694.1L89.6 696L90.3 696.1L91 696.5L91.7 694.8L92.4 693.8L93.1 694.5L93.8 693.6L94.5 692.9L95.2 692.6L95.9 693.2L96.6 692.7L97.3 692.6L98 691.8L98.7 691.5L99.4 691.2L100.1 690.5L100.8 689.9L101.5 691.3L102.2 690.4L102.9 691.6L103.6 691.7L104.3 690.6L105 689.3L105.7 690.5L106.4 690.5L107.1 690.8L107.8 691.8L108.5 691.1L109.2 690.4L109.9 689.9L110.6 690.6L111.3 692.8L112 692.5L112.7 691.1L113.4 692.6L114.1 692.1L114.8 690.8L115.5 691.9L116.2 692.9L116.9 694.5L117.6 694L118.3 692.9L119 693.7L119.7 692.2L120.4 692L121.1 693.4L121.8 694.5L122.5 694.4L123.2 693.3L123.9 693L124.6 693.3L125.3 693.1L126 693.7L126.7 693.8L127.4 693.2L128.1 694L128.8 694.4L129.5 694.3L130.2 693.1L130.9 692.5L131.6 694.4L132.3 694.6L133 693.3L133.7 693.5L134.4 694L135.1 695.5L135.8 695.1L136.5 695L137.2 694.1L137.9 694.9L138.6 695.9L139.3 694.3L140 696L140.7 694.4L141.4 687.3L142.1 674L142.8 669.4L143.5 668.9L144.2 668.1L144.9 666.3L145.6 666.2L146.3 668.3L147 668.6L147.7 667.6L148.4 666.1L149.1 665.6L149.8 666.9L150.5 665.5L151.2 665.2L151.9 666L152.6 664.1L153.3 665.7L154 666.5L154.7 664.3L155.4 664.2L156.1 664.6L156.8 664.2L157.5 665.5L158.2 666.6L158.9 666.9L159.6 665.4L160.3 664.9L161 666.5L161.7 664.7L162.4 663.4L163.1 662.5L163.8 663.5L164.5 662.9L165.2 664.2L165.9 665.5L166.6 665.8L167.3 663.8L168 663.1L168.7 663.3L169.4 664.2L170.1 664.5L170.8 664.1L171.5 666.5L172.2 666.5L172.9 666.4L173.6 666.6L174.3 665.2L175 666.3L175.7 667.3L176.4 668.8L177.1 668.3L177.8 668.1L178.5 669L179.2 668.4L179.9 669L180.6 669.6L181.3 670.8L182 672.2L182.7 672.2L183.4 672L184.1 673.9L184.8 675.3L185.5 673.7L186.2 675.1L186.9 677.8L187.6 678.5L188.3 677.4L189 676.4L189.7 676.6L190.4 677.8L191.1 678.6L191.8 678.8L192.5 680.4L193.2 681.6L193.9 681.3L194.6 681.7L195.3 681L196 680.7L196.7 680.3L197.4 681.2L198.1 682.6L198.8 682L199.5 682.2L200.2 683.5L200.9 685.2L201.6 685.9L202.3 684.9L203 684.6L203.7 685.8L204.4 686.7L205.1 686.8L205.8 687.4L206.5 686.5L207.2 688.1L207.9 687.2L208.6 687L209.3 685.3L210 686.4L210.7 686.3L211.4 685.7L212.1 685L212.8 684.8L213.5 686.4L214.2 687.4L214.9 685.4L215.6 686.3L216.3 688.3L217 687.9L217.7 686.6L218.4 685.9L219.1 686L219.8 686.4L220.5 688L221.2 686.2L221.9 685.4L222.6 644L223.3 614.5L224 612.2L224.7 607.7L225.4 602.5L226.1 597.7L226.8 593.7L227.5 588.4L228.2 582L228.9 576.9L229.6 572.2L230.3 570L231 569.4L231.7 568.1L232.4 565L233.1 563.5L233.8 563.3L234.5 562.1L235.2 560.5L235.9 558.5L236.6 555.3L237.3 551L238 549.6L238.7 549.6L239.4 550.6L240.1 550L240.8 549.2L241.5 548.7L242.2 551.5L242.9 547.8L243.6 540.5L244.3 540.6L245 543.8L245.7 543.7L246.4 544.2L247.1 544.2L247.8 542.3L248.5 542.1L249.2 542.4L249.9 542.6L250.6 549L251.3 550.8L252 562.6L252.7 562.9L253.4 563.8L254.1 563.5L254.8 554.8L255.5 545.5L256.2 546.3L256.9 547.8L257.6 548.8L258.3 548.2L259 546L259.7 546.6L260.4 545.7L261.1 546.9L261.8 547L262.5 539.4L263.2 540L263.9 541.1L264.6 544.3L265.3 544.3L266 544L266.7 545.5L267.4 545.3L268.1 552.2L268.8 554.6L269.5 554.7L270.2 555.2L270.9 556.8L271.6 558.6L272.3 559.8L273 561.3L273.7 563.1L274.4 563.7L275.1 565.1L275.8 568.8L276.5 570.7L277.2 570.7L277.9 571.4L278.6 574.3L279.3 576.1L280 578.7L280.7 580.3L281.4 581.1L282.1 582.6L282.8 584.2L283.5 586.2L284.2 587.5L284.9 589.4L285.6 590.9L286.3 592.3L287 595.8L287.7 597L288.4 598.2L289.1 599.5L289.8 600.1L290.5 601.4L291.2 604.4L291.9 605.8L292.6 606.3L293.3 608.1L294 611.2L294.7 613.2L295.4 614.3L296.1 616.5L296.8 619.2L297.5 621.2L298.2 622.8L298.9 624.5L299.6 627.8L300.3 629.4L301 630.5L301.7 631.8L302.4 633.9L303.1 635.5L303.8 636.3L304.5 637.7L305.2 639.2L305.9 640.1L306.6 643.1L307.3 644.8L308 644.6L308.7 646.1L309.4 647.1L310.1 648.7L310.8 649.9L311.5 652.1L312.2 653.6L312.9 655.2L313.6 658.3L314.3 660.1L315 661.7L315.7 664.3L316.4 667L317.1 669.9L317.8 673.1L318.5 675.7L319.2 678L319.9 681.5L320.6 683.6L321.3 687.2L322 691.5L322.7 694.5L323.4 697.2L324.1 700.3L324.8 702.1L325.5 704.8L326.2 705.6L326.9 706.2L327.6 707.3L328.3 708.4L329 707.1L329.7 706.9L330.4 706.8L331.1 705.2L331.8 704.6L332.5 705.8L333.2 703.9L333.9 704.2L334.6 702.7L335.3 703.9L336 703.6L336.7 703.8L337.4 703.5L338.1 705.2L338.8 704.1L339.5 702.3L340.2 703.3L340.9 701.9L341.6 705.3L342.3 704.7L343 703.9L343.7 705.6L344.4 704.9L345.1 705.4L345.8 704.6L346.5 705.2L347.2 704L347.9 704.9L348.6 707.4L349.3 708L350 707.9L350.7 708.2L351.4 707.3L352.1 706.5L352.8 707.2L353.5 707.5L354.2 706.6L354.9 707.1L355.6 709.3L356.3 709.3L357 706.6L357.7 708.4L358.4 708.5L359.1 708.3L359.8 708.4L360.5 708.2L361.2 710.7L361.9 709.5L362.6 709L363.3 710.7L364 714L364.7 713.1L365.4 714.3L366.1 715.2L366.8 716.6L367.5 716L368.2 717.9L368.9 720.3L369.6 718.5L370.3 719.6L371 723.6L371.7 723.6L372.4 722.6L373.1 726.7L373.8 725.9L374.5 725.3L375.2 726.7L375.9 727.2L376.6 727.7L377.3 727.7L378 730.6L378.7 731.3L379.4 729.3L380.1 731.1L380.8 731.5L381.5 730.5L382.2 731.5L382.9 731.4L383.6 731.1L384.3 730.9L385 730.3L385.7 730.4L386.4 730.3L387.1 730.4L387.8 731.2L388.5 731.3L389.2 731.5L389.9 730.6L390.6 731.1L391.3 731.4L392 732.1L392.7 732.4L393.4 732.1L394.1 734.4L394.8 733.1L395.5 732.2L396.2 733L396.9 731.6L397.6 734.2L398.3 733.8L399 737.1L399.7 737.2L400.4 736.3L401.1 736.7L401.8 737.5L402.5 736.6L403.2 736.8L403.9 738.2L404.6 741.2L405.3 742.4L406 740.4L406.7 741.3L407.4 741.8L408.1 739.9L408.8 741.4L409.5 741.5L410.2 742.7L410.9 742.8L411.6 741L412.3 741.3L413 743.7L413.7 744.1L414.4 743.1L415.1 741.9L415.8 741.8L416.5 743.2L417.2 744.2L417.9 744L418.6 745.5L419.3 744.3L420 744.2L420.7 743.6L421.4 746.3L422.1 745.9L422.8 745.2L423.5 746.4L424.2 746.1L424.9 746.6L425.6 747.1L426.3 746.3L427 746.5L427.7 747.2L428.4 747.4L429.1 747.2L429.8 748.6L430.5 746.7L431.2 747.9L431.9 748L432.6 746.9L433.3 745.7L434 746.9L434.7 747.3L435.4 746.7L436.1 745.5L436.8 746.8L437.5 747.6L438.2 746.7L438.9 746.9L439.6 747.4L440.3 746.7L441 746.1L441.7 744.5L442.4 744.9L443.1 746.2L443.8 743.2L444.5 744.5L445.2 744.5L445.9 743.4L446.6 744.2L447.3 743.1L448 743.5L448.7 742.6L449.4 741.6L450.1 739.7L450.8 739.9L451.5 740.1L452.2 734.7L452.9 732.9L453.6 731.5L454.3 732.4L455 731.5L455.7 731.7L456.4 733L457.1 732.8L457.8 733.6L458.5 732L459.2 732.7L459.9 733.9L460.6 732.5L461.3 733.6L462 734.8L462.7 734.8L463.4 735.2L464.1 735.3L464.8 733.9L465.5 734L466.2 733.9L466.9 733.7L467.6 735.2L468.3 734.9L469 733.9L469.7 733.6L470.4 734.3L471.1 732.8L471.8 732.2L472.5 733.3L473.2 733.6L473.9 733.9L474.6 734.1L475.3 733.9L476 733.7L476.7 733.6L477.4 732.6L478.1 734.1L478.8 732.4L479.5 732.1L480.2 733.9L480.9 733.9L481.6 732.2L482.3 732.6L483 733.2L483.7 733.1L484.4 732.4L485.1 732.3L485.8 731.6L486.5 731.9L487.2 731.1L487.9 731.1L488.6 731L489.3 730.8L490 730.7L490.7 730.9L491.4 730.8L492.1 730.8L492.8 731L493.5 731L494.2 731.2L494.9 729.5L495.6 729.9L496.3 729.8L497 731.1L497.7 731.1L498.4 729.4L499.1 729.4L499.8 730.5L500.5 730.8L501.2 730.3L501.9 730.1L502.6 729.9L503.3 729.4L504 728.3L504.7 728.5L505.4 728.9L506.1 729.2L506.8 728L507.5 727.8L508.2 729.7L508.9 729.3L509.6 727.8L510.3 727.4L511 726.9L511.7 727.9L512.4 727.4L513.1 727.1L513.8 728.4L514.5 728.2L515.2 726.6L515.9 726.4L516.6 726.9L517.3 727.1L518 727.2L518.7 726.7L519.4 726.9L520.1 726.8L520.8 727.1L521.5 727.2L522.2 727.2L522.9 727.2L523.6 726L524.3 726L525 726.7L525.7 726.6L526.4 726.3L527.1 725.9L527.8 725.4L528.5 725.5L529.2 727.7L529.9 727.2L530.6 726.8L531.3 727.1L532 726.6L532.7 726.6L533.4 726.9L534.1 727.6L534.8 727.5L535.5 727.6L536.2 727.8L536.9 727.7L537.6 726.8L538.3 725.9L539 726.3L539.7 726.7L540.4 727.4L541.1 727.6L541.8 726.7L542.5 726.6L543.2 726.8L543.9 726.8L544.6 727.9L545.3 727.7L546 728.3L546.7 728L547.4 727.3L548.1 726L548.8 727.3L549.5 727.3L550.2 727.4L550.9 727.2L551.6 727.5L552.3 727.8L553 727.9L553.7 726.9L554.4 728.4L555.1 728.4L555.8 727.5L556.5 727.6L557.2 727.9L557.9 728.1L558.6 728L559.3 728L560 728.9L560.7 728.9L561.4 727.1L562.1 727.5L562.8 729L563.5 728.7L564.2 727.4L564.9 727.5L565.6 728L566.3 728.1L567 728.1L567.7 727.9L568.4 727.7L569.1 727.6L569.8 728.8L570.5 729L571.2 727.5L571.9 728L572.6 727.1L573.3 727.1L574 728.7L574.7 727.8L575.4 727.4L576.1 727.1L576.8 728.8L577.5 728.9L578.2 728.3L578.9 728.6L579.6 729.1L580.3 729L581 727.7L581.7 727.7L582.4 728.2L583.1 729.1L583.8 727.2L584.5 727.4L585.2 727.1L585.9 725L586.6 728.4L587.3 728.2L588 727L588.7 726.9L589.4 727.8L590.1 727.3L590.8 727.3L591.5 727.4L592.2 727.7L592.9 728.1L593.6 728.3L594.3 728.6L595 728.3L595.7 728.2L596.4 726.2L597.1 727.2L597.8 728.1L598.5 728L599.2 727.8L599.9 727.6L600.6 727.4L601.3 727.5L602 728.4L602.7 728L603.4 727.3L604.1 727.3L604.8 727.3L605.5 727.6L606.2 727.6L606.9 728L607.6 727.3L608.3 727.1L609 726.7L609.7 726.3L610.4 728L611.1 728L611.8 726.8L612.5 727.5L613.2 725.9L613.9 726.9L614.6 727.9L615.3 728.2L616 727.3L616.7 727.2L617.4 727.4L618.1 727.3L618.8 726.7L619.5 724.9L620.2 727.5L620.9 727.4L621.6 726.6L622.3 726.5L623 728.3L623 765.2L622.3 765.1L621.6 765.3L620.9 764.8L620.2 765.1L619.5 764.4L618.8 764.5L618.1 765.9L617.4 764.6L616.7 765.2L616 764.9L615.3 765.1L614.6 764.7L613.9 764.6L613.2 764.5L612.5 764.7L611.8 764.7L611.1 764.8L610.4 764.7L609.7 764.5L609 765L608.3 763.5L607.6 763.4L606.9 764.1L606.2 764.4L605.5 763.5L604.8 763.7L604.1 764.6L603.4 764.7L602.7 763.2L602 763.6L601.3 765.1L600.6 764.3L599.9 763.2L599.2 763.5L598.5 764L597.8 764.2L597.1 764.6L596.4 764.2L595.7 764.1L595 764.1L594.3 764.8L593.6 765.1L592.9 764.8L592.2 764.9L591.5 764.5L590.8 764.6L590.1 763.8L589.4 763.8L588.7 766.4L588 764.8L587.3 763.5L586.6 763L585.9 763.4L585.2 763.6L584.5 763.4L583.8 762.9L583.1 763.9L582.4 763.7L581.7 763.4L581 763.4L580.3 764.2L579.6 764.6L578.9 764.5L578.2 764.4L577.5 763L576.8 763.1L576.1 764.4L575.4 764.4L574.7 764.5L574 764.2L573.3 763.3L572.6 763.3L571.9 763.7L571.2 763.6L570.5 763.3L569.8 763.2L569.1 764.6L568.4 764.1L567.7 763.4L567 763.3L566.3 763.7L565.6 763.4L564.9 763.2L564.2 763.2L563.5 763.5L562.8 763.5L562.1 764L561.4 763.9L560.7 762.5L560 763.8L559.3 764.5L558.6 764.7L557.9 764.2L557.2 764.3L556.5 764.6L555.8 764.4L555.1 765.9L554.4 765.5L553.7 763.6L553 765.5L552.3 763.4L551.6 763.7L550.9 764.1L550.2 763.7L549.5 762.5L548.8 763.4L548.1 763.2L547.4 763.1L546.7 764L546 764.4L545.3 764.5L544.6 763.6L543.9 763.4L543.2 763.2L542.5 764.5L541.8 764.5L541.1 763.4L540.4 763.7L539.7 763.9L539 764L538.3 764L537.6 764.3L536.9 763L536.2 762.6L535.5 763.1L534.8 762.8L534.1 763.3L533.4 763.5L532.7 763.7L532 763.8L531.3 763.8L530.6 763.8L529.9 764.2L529.2 764.3L528.5 764.3L527.8 764.4L527.1 764.3L526.4 764.2L525.7 763.7L525 765.7L524.3 763.4L523.6 763.8L522.9 764L522.2 763.8L521.5 763.6L520.8 763.5L520.1 764.7L519.4 764.9L518.7 762.9L518 763L517.3 764.1L516.6 764.7L515.9 765.8L515.2 766.8L514.5 768.5L513.8 765.8L513.1 765.3L512.4 764.5L511.7 763.1L511 763L510.3 763.3L509.6 763.5L508.9 764.7L508.2 764.5L507.5 763.4L506.8 763.3L506.1 763.7L505.4 763.7L504.7 763.4L504 763.6L503.3 762.7L502.6 763L501.9 762.4L501.2 762.5L500.5 764.2L499.8 764.5L499.1 764.1L498.4 766L497.7 763.7L497 763.1L496.3 762.5L495.6 762L494.9 762.3L494.2 761.9L493.5 763.5L492.8 763.8L492.1 762.2L491.4 762L490.7 762.2L490 762.2L489.3 762.4L488.6 762.8L487.9 761.9L487.2 761.8L486.5 764.2L485.8 764.3L485.1 763.2L484.4 763.3L483.7 762.5L483 762.2L482.3 763.9L481.6 764.2L480.9 764.1L480.2 763.1L479.5 764.3L478.8 764.5L478.1 764.6L477.4 765L476.7 763.6L476 764L475.3 763.5L474.6 763.6L473.9 763.2L473.2 763.6L472.5 763.6L471.8 763.2L471.1 765.2L470.4 764.4L469.7 765.5L469 765L468.3 763.3L467.6 762.9L466.9 762.9L466.2 763.8L465.5 763.6L464.8 763.1L464.1 762.3L463.4 762L462.7 763.6L462 763.3L461.3 762L460.6 762.1L459.9 763.2L459.2 765.4L458.5 766L457.8 766.8L457.1 764.4L456.4 765.5L455.7 766.5L455 771.4L454.3 772.4L453.6 773.7L452.9 775.1L452.2 776.1L451.5 777.6L450.8 778.8L450.1 780.4L449.4 781.6L448.7 779.6L448 781.5L447.3 783.7L446.6 783.5L445.9 784.5L445.2 784.7L444.5 781.3L443.8 781.2L443.1 782.8L442.4 780.8L441.7 779.5L441 778.9L440.3 779.9L439.6 779.9L438.9 779.7L438.2 784.4L437.5 783.6L436.8 784L436.1 781.6L435.4 781.7L434.7 781.5L434 782.6L433.3 782L432.6 782.1L431.9 781.3L431.2 782.1L430.5 782.1L429.8 781.2L429.1 780.7L428.4 780.2L427.7 783.1L427 783.2L426.3 783.2L425.6 785L424.9 786.5L424.2 784.4L423.5 783.3L422.8 783.1L422.1 781.7L421.4 780.7L420.7 780.4L420 780.1L419.3 781.4L418.6 781.3L417.9 781.5L417.2 780L416.5 780.1L415.8 779.6L415.1 780.3L414.4 780.5L413.7 780.4L413 782.2L412.3 780.9L411.6 781.2L410.9 781.4L410.2 781.2L409.5 779.6L408.8 777.7L408.1 777.9L407.4 777.5L406.7 780.8L406 780.9L405.3 779.8L404.6 777.8L403.9 777.5L403.2 777.5L402.5 778.9L401.8 778.5L401.1 780L400.4 777L399.7 775.7L399 775.6L398.3 778.7L397.6 778.4L396.9 777.6L396.2 773.6L395.5 773.1L394.8 772.8L394.1 770.3L393.4 770.9L392.7 770.3L392 775.1L391.3 775.2L390.6 775.4L389.9 772.2L389.2 772.3L388.5 772.3L387.8 771.3L387.1 770.9L386.4 771L385.7 773.5L385 773.6L384.3 774.8L383.6 773.2L382.9 771.8L382.2 771L381.5 770.9L380.8 770.4L380.1 770.4L379.4 768.6L378.7 766.8L378 766.2L377.3 769.6L376.6 768.8L375.9 768.9L375.2 767.3L374.5 765.9L373.8 765.2L373.1 763.1L372.4 762.6L371.7 763.1L371 763L370.3 762.2L369.6 761.3L368.9 757.5L368.2 756.2L367.5 754.3L366.8 755.3L366.1 754.1L365.4 753.2L364.7 753.6L364 752.6L363.3 751.3L362.6 749.4L361.9 748L361.2 747.1L360.5 745L359.8 744.5L359.1 745.2L358.4 750.3L357.7 750.8L357 750.2L356.3 749.1L355.6 750L354.9 747.9L354.2 742.3L353.5 742.7L352.8 742.5L352.1 742.8L351.4 742.7L350.7 742.8L350 745.7L349.3 745.7L348.6 745.4L347.9 740.9L347.2 740.3L346.5 739.3L345.8 739.3L345.1 740.4L344.4 740.8L343.7 741.4L343 742.1L342.3 742.7L341.6 743.5L340.9 743.6L340.2 742.6L339.5 744.4L338.8 742.7L338.1 741.1L337.4 739.5L336.7 739.5L336 740.2L335.3 745.7L334.6 746.6L333.9 746.7L333.2 742.9L332.5 744.2L331.8 747.1L331.1 751.3L330.4 754.2L329.7 753.4L329 756.5L328.3 759.3L327.6 756.6L326.9 756.4L326.2 755L325.5 754.5L324.8 748.5L324.1 746.8L323.4 745L322.7 740.6L322 738L321.3 735.6L320.6 734.7L319.9 729.1L319.2 723.6L318.5 716.1L317.8 712.4L317.1 709.3L316.4 706.9L315.7 704.1L315 702L314.3 700.5L313.6 698.4L312.9 697.3L312.2 695.4L311.5 692.6L310.8 690.8L310.1 690.2L309.4 688.5L308.7 687.4L308 685.5L307.3 683.6L306.6 682L305.9 680.6L305.2 679.4L304.5 678.4L303.8 677.4L303.1 675L302.4 673.8L301.7 673.2L301 672.2L300.3 670.1L299.6 668.7L298.9 667.5L298.2 666.5L297.5 666.7L296.8 666.1L296.1 664.5L295.4 663.1L294.7 661.5L294 660.8L293.3 658.7L292.6 658.2L291.9 656.5L291.2 655.8L290.5 654.3L289.8 653.5L289.1 653L288.4 652L287.7 653.6L287 652.2L286.3 650.1L285.6 648.8L284.9 647L284.2 646L283.5 645.5L282.8 644.9L282.1 644.3L281.4 643.3L280.7 642.4L280 641.3L279.3 641L278.6 640.4L277.9 638.5L277.2 638.3L276.5 638.6L275.8 638.4L275.1 636.2L274.4 635.5L273.7 635.9L273 638.7L272.3 641.3L271.6 644.4L270.9 646.3L270.2 649L269.5 650L268.8 653.4L268.1 652.9L267.4 652.6L266.7 648.6L266 648.7L265.3 666.6L264.6 665.8L263.9 660.6L263.2 659.5L262.5 653.4L261.8 654.5L261.1 667.9L260.4 668.7L259.7 668.7L259 665.8L258.3 665.9L257.6 662.5L256.9 649.9L256.2 649.5L255.5 651.1L254.8 652.7L254.1 652.2L253.4 652.1L252.7 661.5L252 662.8L251.3 665.7L250.6 664.6L249.9 670.1L249.2 670.5L248.5 656.5L247.8 655L247.1 673.3L246.4 674.1L245.7 659.9L245 659.2L244.3 670.9L243.6 670.5L242.9 654.5L242.2 653.8L241.5 662.5L240.8 663.6L240.1 658.9L239.4 657.6L238.7 648.1L238 649L237.3 659.7L236.6 659.5L235.9 656.3L235.2 656.5L234.5 664.3L233.8 663.3L233.1 654L232.4 656L231.7 657.1L231 661.7L230.3 660L229.6 663.8L228.9 674.9L228.2 680L227.5 684.1L226.8 691.5L226.1 700.7L225.4 706.8L224.7 714.4L224 722.4L223.3 727.9L222.6 729.1L221.9 729.8L221.2 727.8L220.5 727.7L219.8 729L219.1 728.4L218.4 729L217.7 728.2L217 728.9L216.3 729.1L215.6 727.1L214.9 725.3L214.2 726.5L213.5 726.5L212.8 726.9L212.1 727.6L211.4 730.9L210.7 727.7L210 726.9L209.3 726.9L208.6 727.1L207.9 725.7L207.2 724.3L206.5 724.5L205.8 725L205.1 725.1L204.4 724.9L203.7 722.1L203 721L202.3 720.7L201.6 719.4L200.9 720.8L200.2 720L199.5 719.6L198.8 719L198.1 718.9L197.4 717.3L196.7 717.5L196 717L195.3 716.6L194.6 717.4L193.9 715.9L193.2 714.5L192.5 713.4L191.8 713L191.1 713.2L190.4 713.5L189.7 712.9L189 710.7L188.3 709.7L187.6 709.9L186.9 709.2L186.2 706.8L185.5 707.7L184.8 710.2L184.1 706.7L183.4 706.8L182.7 707.4L182 706.1L181.3 704.9L180.6 703.5L179.9 703.6L179.2 702.5L178.5 702.2L177.8 702.2L177.1 702.4L176.4 702.8L175.7 700.3L175 698L174.3 698.4L173.6 699.8L172.9 700.3L172.2 699.7L171.5 700.4L170.8 700.2L170.1 701.6L169.4 699.4L168.7 699.9L168 700.6L167.3 699.8L166.6 699.6L165.9 700.4L165.2 700.5L164.5 700.6L163.8 700.2L163.1 699.7L162.4 699.6L161.7 701.2L161 701.3L160.3 700.5L159.6 700.5L158.9 702L158.2 701.6L157.5 700.6L156.8 701.7L156.1 701.6L155.4 701.4L154.7 699.5L154 700L153.3 701.3L152.6 697.3L151.9 697.6L151.2 698.4L150.5 699.4L149.8 697.3L149.1 696.4L148.4 695.5L147.7 694L147 695.5L146.3 695.5L145.6 695.2L144.9 694.2L144.2 691.9L143.5 693.3L142.8 701.2L142.1 725.5L141.4 724.8L140.7 724.5L140 725.7L139.3 725.5L138.6 725.7L137.9 727.3L137.2 724.9L136.5 726.2L135.8 725.2L135.1 723.3L134.4 725.6L133.7 727.2L133 725.7L132.3 724.6L131.6 723.3L130.9 723.3L130.2 724.2L129.5 723.3L128.8 726.2L128.1 724.9L127.4 723.9L126.7 724.5L126 724.8L125.3 725.4L124.6 724.6L123.9 725.6L123.2 727.1L122.5 727.2L121.8 728L121.1 730.5L120.4 733.1L119.7 730.7L119 730.7L118.3 730.8L117.6 727.7L116.9 726.2L116.2 727.1L115.5 726.2L114.8 725L114.1 724.4L113.4 725.2L112.7 724.8L112 723.4L111.3 724.4L110.6 722.4L109.9 722L109.2 723.6L108.5 724.2L107.8 725.5L107.1 728.5L106.4 729.1L105.7 730.7L105 730.3L104.3 729.9L103.6 729.2L102.9 729.3L102.2 731.4L101.5 732.5L100.8 730.4L100.1 729.3L99.4 731.2L98.7 732L98 731.1L97.3 730.1L96.6 731.4L95.9 731.5L95.2 729.9L94.5 729.6L93.8 728.9L93.1 726.7L92.4 726.4L91.7 726.6L91 727.7L90.3 728.4L89.6 729.1L88.9 728.8L88.2 727.8L87.5 726.7L86.8 725L86.1 725.7L85.4 726.6L84.7 727.4L84 726L83.3 726L82.6 728.7L81.9 727.4L81.2 727.7L80.5 727.6L79.8 727.1L79.1 726.7L78.4 728.4L77.7 728.9L77 727.5L76.3 726.8L75.6 727.8L74.9 727.1L74.2 726.9L73.5 727.1L72.8 729.2L72.1 729.1L71.4 728.5Z" fill="#ff0000"/>
<path d="M120.7 678.5V700" stroke="#ff0000" stroke-width="1.8" fill="none"/>
<path d="M112 686.5V700" stroke="#ff0000" stroke-width="1.6" fill="none"/>
<path d="M71.4 805.7L72.2 806L73 805.3L73.8 805.3L74.6 806L75.4 805.4L76.2 806.1L77 806.2L77.8 805.4L78.6 805.8L79.4 806.5L80.2 806.2L81 805.8L81.8 805.2L82.6 805.4L83.4 806.6L84.2 806.3L85 806.6L85.8 805.6L86.6 805.7L87.4 806.4L88.2 806.2L89 806.1L89.8 805.1L90.6 806.3L91.4 806.3L92.2 805.3L93 805.8L93.8 805.3L94.6 804.3L95.4 805.2L96.2 806.2L97 806.5L97.8 805.3L98.6 806.2L99.4 805.3L100.2 805.4L101 805.4L101.8 806.4L102.6 805.6L103.4 806.3L104.2 805.5L105 805.8L105.8 805.8L106.6 806.5L107.4 806.1L108.2 805.7L109 805.4L109.8 805.4L110.6 805.2L111.4 805.5L112.2 806.4L113 805.9L113.8 805.8L114.6 806.6L115.4 806.6L116.2 806.4L117 805.3L117.8 805.4L118.6 805.7L119.4 805.6L120.2 805.5L121 805.3L121.8 805.4L122.6 805.7L123.4 806.3L124.2 805.4L125 805.5L125.8 805.9L126.6 805.9L127.4 805.7L128.2 805.4L129 806L129.8 806.3L130.6 805.7L131.4 805.5L132.2 806.5L133 805.4L133.8 806.4L134.6 805.2L135.4 806.1L136.2 805.8L137 805.4L137.8 805.8L138.6 806.6L139.4 805.3L140.2 805.6L141 805.5L141.8 805.3L142.6 804.5L143.4 804.3L144.2 802.4L145 802.1L145.8 802.7L146.6 801.4L147.4 802L148.2 802L149 802.8L149.8 803.1L150.6 803.2L151.4 803.7L152.2 803.1L153 803.8L153.8 803.9L154.6 802.8L155.4 803.1L156.2 803.3L157 803L157.8 802.7L158.6 803.2L159.4 803.8L160.2 802.4L161 801.2L161.8 797L162.6 793.5L163.4 793.4L164.2 798.3L165 801.6L165.8 803.3L166.6 804.5L167.4 804.5L168.2 805.9L169 805.8L169.8 805.2L170.6 805.2L171.4 805.9L172.2 805.1L173 806.2L173.8 805L174.6 805.7L175.4 805.5L176.2 805.5L177 806.3L177.8 805.6L178.6 805.3L179.4 806.3L180.2 805.4L181 806.1L181.8 806L182.6 806.1L183.4 805.6L184.2 805.8L185 806.3L185.8 805.7L186.6 806.5L187.4 806.3L188.2 806L189 806.4L189.8 806.1L190.6 805.3L191.4 805.8L192.2 806.3L193 805.8L193.8 805.7L194.6 804.3L195.4 806.1L196.2 806.4L197 805.7L197.8 806.1L198.6 805.5L199.4 806L200.2 805.2L201 804.7L201.8 806L202.6 806.1L203.4 806.5L204.2 805.9L205 806.4L205.8 805.3L206.6 806.4L207.4 805.6L208.2 806L209 806.1L209.8 806L210.6 805.3L211.4 805.1L212.2 806.1L213 805.6L213.8 805.2L214.6 804.8L215.4 804.8L216.2 804.4L217 804.8L217.8 804.8L218.6 804.4L219.4 803.8L220.2 803.9L221 804L221.8 803.7L222.6 804.2L223.4 803.6L224.2 801.2L225 798.7L225.8 796.6L226.6 794.6L227.4 790.7L228.2 785.8L229 783.6L229.8 779.6L230.6 779.9L231.4 780.4L232.2 780.4L233 780L233.8 780.5L234.6 778.4L235.4 780.2L236.2 779.9L237 780.2L237.8 779.6L238.6 780.3L239.4 781.5L240.2 783.6L241 783.3L241.8 783L242.6 783.6L243.4 783.1L244.2 782.2L245 782.2L245.8 780.6L246.6 781.4L247.4 780.4L248.2 779.5L249 780.2L249.8 780.3L250.6 780.3L251.4 781L252.2 780.6L253 780.3L253.8 780.6L254.6 781.1L255.4 780.6L256.2 781.2L257 780.8L257.8 780.7L258.6 779.5L259.4 779.6L260.2 778.6L261 780.3L261.8 779.9L262.6 779.9L263.4 779.2L264.2 779.4L265 779.8L265.8 779.5L266.6 778.9L267.4 777.8L268.2 778.3L269 778.9L269.8 779.2L270.6 778.6L271.4 779.9L272.2 780.4L273 778.2L273.8 780.2L274.6 780.1L275.4 779.8L276.2 781.3L277 781.1L277.8 781.6L278.6 781.1L279.4 782.7L280.2 781.9L281 783L281.8 782.7L282.6 782.4L283.4 782.6L284.2 783.7L285 784L285.8 783.3L286.6 783.5L287.4 783.9L288.2 784.7L289 784.9L289.8 784.8L290.6 784.5L291.4 785L292.2 784.1L293 785.4L293.8 785L294.6 786.3L295.4 785.9L296.2 785.7L297 786.2L297.8 786.6L298.6 787.2L299.4 787.5L300.2 788.1L301 788.8L301.8 789.4L302.6 789L303.4 790.5L304.2 790.2L305 791.2L305.8 791.3L306.6 792.5L307.4 792L308.2 793.1L309 793.4L309.8 793.3L310.6 794.1L311.4 794.3L312.2 794.2L313 793.4L313.8 794.9L314.6 794.3L315.4 795.5L316.2 795.1L317 795.2L317.8 795.4L318.6 795.3L319.4 796.4L320.2 796.4L321 795.8L321.8 794.6L322.6 796.3L323.4 796.1L324.2 796.4L325 797.1L325.8 795.7L326.6 797.7L327.4 797.3L328.2 797.8L329 797.1L329.8 797.7L330.6 797.2L331.4 796.6L332.2 796.9L333 797.6L333.8 797L334.6 796.4L335.4 796.7L336.2 797.5L337 796.8L337.8 796.7L338.6 796.8L339.4 797.3L340.2 797.3L341 797.1L341.8 796.7L342.6 797.1L343.4 796.1L344.2 797L345 796.1L345.8 796L346.6 794.9L347.4 796.2L348.2 794.6L349 795.9L349.8 796.2L350.6 796.1L351.4 796.2L352.2 796.1L353 795.7L353.8 796.7L354.6 795.7L355.4 796.3L356.2 794.7L357 796.9L357.8 796.8L358.6 796.9L359.4 796.8L360.2 795.8L361 796.8L361.8 796.3L362.6 795.9L363.4 796.9L364.2 795.8L365 796.5L365.8 796.1L366.6 796.6L367.4 795.8L368.2 796.9L369 796.8L369.8 795.7L370.6 796.3L371.4 797.2L372.2 796.4L373 797.6L373.8 797L374.6 796.6L375.4 796.7L376.2 797.9L377 797.3L377.8 796.8L378.6 798.3L379.4 797.3L380.2 798L381 798.3L381.8 798.2L382.6 798.5L383.4 798.3L384.2 797.8L385 798.1L385.8 798.6L386.6 798.8L387.4 798.8L388.2 798.7L389 798.9L389.8 798.4L390.6 797.8L391.4 798.8L392.2 798.4L393 797.9L393.8 798L394.6 798.2L395.4 799L396.2 798.7L397 798.5L397.8 799L398.6 798.1L399.4 798.9L400.2 798.2L401 798.7L401.8 798.5L402.6 799.8L403.4 798.7L404.2 799.9L405 798.8L405.8 798.6L406.6 799.6L407.4 799.3L408.2 799.4L409 800.1L409.8 800L410.6 800.1L411.4 799L412.2 799.4L413 798.1L413.8 799.8L414.6 799.6L415.4 799.1L416.2 799.1L417 799.2L417.8 800L418.6 800.4L419.4 799.3L420.2 800.5L421 799.9L421.8 800.6L422.6 800.3L423.4 800.2L424.2 799.8L425 800.7L425.8 800.2L426.6 800L427.4 800.5L428.2 800.1L429 800.7L429.8 799.6L430.6 798.8L431.4 799.7L432.2 799.9L433 799.3L433.8 799.8L434.6 798.9L435.4 798.5L436.2 799.4L437 799L437.8 799.3L438.6 798.6L439.4 798.1L440.2 798.7L441 797.9L441.8 798.3L442.6 797.5L443.4 797.8L444.2 797.6L445 798L445.8 798.4L446.6 797.8L447.4 797.8L448.2 798.1L449 797.1L449.8 796.8L450.6 797.1L451.4 797.4L452.2 797.6L453 797.3L453.8 797.4L454.6 797.4L455.4 796.7L456.2 798L457 797.9L457.8 798.5L458.6 797.6L459.4 798L460.2 797.9L461 798.6L461.8 797.7L462.6 797.7L463.4 798.2L464.2 798.4L465 798.2L465.8 798.2L466.6 797.8L467.4 798.6L468.2 798.5L469 798.7L469.8 798.3L470.6 798.7L471.4 797.4L472.2 798.5L473 798.3L473.8 798.4L474.6 798.1L475.4 797.4L476.2 797.8L477 798L477.8 797.3L478.6 797.4L479.4 797.3L480.2 797.4L481 796L481.8 797.8L482.6 797.6L483.4 798.1L484.2 797.6L485 797.5L485.8 797.8L486.6 797.1L487.4 797.6L488.2 797.1L489 796.7L489.8 796.8L490.6 797.9L491.4 797.7L492.2 797.6L493 797.6L493.8 798.1L494.6 798L495.4 797.7L496.2 797.9L497 798L497.8 797.1L498.6 797.2L499.4 797.8L500.2 797.8L501 797.7L501.8 798L502.6 797.5L503.4 798.1L504.2 797.5L505 797.7L505.8 797L506.6 796.9L507.4 791.2L508.2 786.8L509 788.6L509.8 790.9L510.6 793.8L511.4 794.8L512.2 796.2L513 797L513.8 798.3L514.6 797.3L515.4 798.7L516.2 798.3L517 798.1L517.8 797.8L518.6 798.8L519.4 798.4L520.2 798.3L521 799.6L521.8 799.6L522.6 800L523.4 799.5L524.2 799L525 799.8L525.8 799.7L526.6 800.4L527.4 800.2L528.2 800.4L529 799.5L529.8 800L530.6 800.4L531.4 800.7L532.2 799.7L533 800.1L533.8 800.7L534.6 800.8L535.4 800.4L536.2 800.9L537 800.1L537.8 800.3L538.6 800.5L539.4 801.3L540.2 801.3L541 800.9L541.8 800.5L542.6 801.2L543.4 800.8L544.2 802.1L545 801.1L545.8 802.2L546.6 801L547.4 801.1L548.2 801.5L549 800.9L549.8 801.7L550.6 802.2L551.4 801.4L552.2 801.5L553 802L553.8 801.8L554.6 801.7L555.4 801.6L556.2 801.8L557 801.6L557.8 800.9L558.6 801.4L559.4 801.5L560.2 801.7L561 802.2L561.8 801.4L562.6 801.1L563.4 802.2L564.2 801.7L565 801L565.8 801.6L566.6 802.1L567.4 801.9L568.2 801.7L569 801.1L569.8 800.9L570.6 801.2L571.4 802.2L572.2 801.7L573 802L573.8 801.9L574.6 801.1L575.4 801.8L576.2 800.9L577 802.1L577.8 801.2L578.6 802.2L579.4 801.2L580.2 801.4L581 801.9L581.8 801L582.6 802.2L583.4 802.1L584.2 801.9L585 801.3L585.8 802L586.6 801.6L587.4 801.6L588.2 801.5L589 801.3L589.8 801.9L590.6 801L591.4 801.8L592.2 800.6L593 801.9L593.8 802L594.6 801.5L595.4 801.7L596.2 801.2L597 800.4L597.8 800.6L598.6 801.5L599.4 801.2L600.2 801.9L601 800.9L601.8 801.4L602.6 799.9L603.4 801.3L604.2 801.7L605 801.8L605.8 801.5L606.6 801.2L607.4 802L608.2 802L609 801.2L609.8 800.9L610.6 800.9L611.4 800.9L612.2 801.4L613 801.1L613.8 801.3L614.6 801.4L615.4 801L616.2 802L617 801.1L617.8 801.9L618.6 801.3L619.4 801.7L620.2 802.3L621 801.9L621.8 801.4L622.6 801.1L622.6 812.7L621.8 812.2L621 812.3L620.2 812.2L619.4 812.2L618.6 812.6L617.8 812.5L617 812.3L616.2 812.3L615.4 812.4L614.6 813.3L613.8 812.6L613 812.2L612.2 812.2L611.4 812.1L610.6 812.3L609.8 812.1L609 812.4L608.2 811.9L607.4 812.2L606.6 811.9L605.8 812.2L605 811.9L604.2 812.1L603.4 811.9L602.6 812.3L601.8 812.2L601 811.9L600.2 812L599.4 812.9L598.6 812L597.8 812.3L597 811.7L596.2 811.9L595.4 811.6L594.6 812.1L593.8 812L593 811.6L592.2 811.6L591.4 811.9L590.6 811.8L589.8 811.8L589 811.8L588.2 811.4L587.4 811.8L586.6 812.6L585.8 811.6L585 811.7L584.2 811.5L583.4 811.7L582.6 811.3L581.8 811.5L581 811.5L580.2 811.3L579.4 811.2L578.6 811.7L577.8 811.4L577 811.4L576.2 812.4L575.4 811.5L574.6 811.7L573.8 811.2L573 811.4L572.2 811.4L571.4 811.8L570.6 812L569.8 811.3L569 811L568.2 811L567.4 811.3L566.6 811.4L565.8 811L565 811.3L564.2 811.2L563.4 811.3L562.6 811.1L561.8 811.3L561 810.9L560.2 811.2L559.4 811.3L558.6 811.3L557.8 810.7L557 811.3L556.2 811.1L555.4 810.8L554.6 810.7L553.8 811.1L553 811.1L552.2 811.1L551.4 811.3L550.6 811.1L549.8 810.9L549 810.9L548.2 810.6L547.4 810.6L546.6 810.6L545.8 810.8L545 810.9L544.2 810.4L543.4 810.8L542.6 810.5L541.8 810.8L541 811.6L540.2 810.4L539.4 810.8L538.6 810.5L537.8 810.7L537 810.7L536.2 810.6L535.4 810.4L534.6 810.7L533.8 810.3L533 810.7L532.2 810.3L531.4 810.5L530.6 810.6L529.8 810.2L529 810.7L528.2 810.4L527.4 810.3L526.6 810.1L525.8 810.2L525 810L524.2 811.2L523.4 810.1L522.6 810.1L521.8 810.1L521 811.8L520.2 809.9L519.4 810.4L518.6 810L517.8 810.2L517 809.9L516.2 810L515.4 810.3L514.6 810.1L513.8 809.9L513 809.8L512.2 809.7L511.4 810.2L510.6 809.9L509.8 809.9L509 810L508.2 810L507.4 809.8L506.6 810.1L505.8 809.5L505 809.8L504.2 810.6L503.4 809.5L502.6 809.5L501.8 809.9L501 809.6L500.2 809.9L499.4 809.6L498.6 809.9L497.8 809.8L497 809.6L496.2 809.5L495.4 809.4L494.6 810.2L493.8 809.8L493 810.5L492.2 809.4L491.4 809.3L490.6 809.3L489.8 809.5L489 809.1L488.2 809.3L487.4 809.3L486.6 809.3L485.8 809.6L485 809.3L484.2 809.6L483.4 809.2L482.6 809.5L481.8 809.1L481 809L480.2 809.4L479.4 809.2L478.6 809.3L477.8 808.9L477 809.2L476.2 809L475.4 809.2L474.6 809.2L473.8 809L473 809.3L472.2 809L471.4 809L470.6 808.9L469.8 808.8L469 808.9L468.2 808.9L467.4 808.8L466.6 809.2L465.8 808.7L465 809L464.2 808.9L463.4 808.7L462.6 809L461.8 808.7L461 808.9L460.2 808.8L459.4 808.6L458.6 808.9L457.8 808.6L457 808.7L456.2 808.7L455.4 809L454.6 809L453.8 808.7L453 808.7L452.2 808.7L451.4 808.6L450.6 809L449.8 809L449 808.7L448.2 808.6L447.4 809L446.6 809L445.8 808.8L445 808.7L444.2 808.6L443.4 808.9L442.6 808.8L441.8 808.9L441 808.5L440.2 809.9L439.4 808.4L438.6 808.8L437.8 808.8L437 808.4L436.2 808.4L435.4 808.7L434.6 808.7L433.8 808.5L433 808.3L432.2 808.4L431.4 808.4L430.6 808.7L429.8 808.4L429 808.2L428.2 808.5L427.4 808.5L426.6 808.3L425.8 808.3L425 808.4L424.2 808.2L423.4 808.6L422.6 808.3L421.8 808.6L421 808.6L420.2 808.5L419.4 808.3L418.6 808.2L417.8 808.5L417 808.2L416.2 808.3L415.4 808.1L414.6 808.2L413.8 808.1L413 808L412.2 808.4L411.4 808.6L410.6 808.4L409.8 808.5L409 808.2L408.2 808.6L407.4 808.2L406.6 808L405.8 808.5L405 808.2L404.2 808.1L403.4 808.5L402.6 808.4L401.8 808.5L401 808L400.2 808.1L399.4 808L398.6 808.3L397.8 808L397 807.9L396.2 808.3L395.4 808.8L394.6 808.3L393.8 808.3L393 808L392.2 808L391.4 808.3L390.6 808.3L389.8 807.8L389 807.9L388.2 808L387.4 808.3L386.6 808.2L385.8 808.1L385 807.9L384.2 808.1L383.4 807.9L382.6 808.2L381.8 808.3L381 808.2L380.2 808L379.4 807.9L378.6 808.1L377.8 807.8L377 807.7L376.2 807.7L375.4 807.8L374.6 807.7L373.8 808L373 807.9L372.2 807.8L371.4 808.1L370.6 807.8L369.8 808L369 808L368.2 808L367.4 807.5L366.6 807.6L365.8 807.8L365 807.8L364.2 808L363.4 807.6L362.6 807.7L361.8 807.9L361 807.6L360.2 807.5L359.4 807.9L358.6 807.6L357.8 807.4L357 808L356.2 807.4L355.4 807.4L354.6 809.1L353.8 807.6L353 807.4L352.2 807.5L351.4 808.5L350.6 807.8L349.8 807.8L349 809.1L348.2 807.5L347.4 807.7L346.6 807.5L345.8 807.8L345 807.3L344.2 807.3L343.4 807.7L342.6 807.6L341.8 807.3L341 807.7L340.2 807.4L339.4 807.8L338.6 807.6L337.8 807.7L337 807.5L336.2 807.8L335.4 808L334.6 808.4L333.8 808L333 808.3L332.2 808.1L331.4 808.2L330.6 808.1L329.8 808.6L329 808.3L328.2 808.6L327.4 808.7L326.6 808.9L325.8 808.8L325 809L324.2 809L323.4 808.9L322.6 809.3L321.8 808.9L321 809L320.2 809.3L319.4 809.2L318.6 809.4L317.8 809.7L317 809.5L316.2 809.5L315.4 809.6L314.6 809.6L313.8 809.7L313 810.4L312.2 810.1L311.4 810.2L310.6 810.3L309.8 810.1L309 810L308.2 810.5L307.4 810.1L306.6 810.6L305.8 810.3L305 810.5L304.2 810.6L303.4 810.5L302.6 810.9L301.8 811.9L301 810.7L300.2 811.3L299.4 811L298.6 810.9L297.8 811.1L297 811.4L296.2 811.2L295.4 811.6L294.6 811.6L293.8 812.4L293 812L292.2 811.9L291.4 812.8L290.6 812.3L289.8 812.6L289 812.4L288.2 812.3L287.4 812.6L286.6 812.9L285.8 812.8L285 813.1L284.2 813L283.4 813.7L282.6 813.5L281.8 813.5L281 813.8L280.2 813.4L279.4 814.3L278.6 813.8L277.8 813.8L277 814.3L276.2 815.9L275.4 814.4L274.6 814.6L273.8 814.7L273 814.4L272.2 814.9L271.4 814.6L270.6 814.7L269.8 815L269 816L268.2 817.2L267.4 817.4L266.6 818.3L265.8 819.4L265 819.6L264.2 819.7L263.4 820.6L262.6 819.4L261.8 819.3L261 819.2L260.2 819.2L259.4 818.6L258.6 818.6L257.8 818.6L257 818.2L256.2 818.7L255.4 818.6L254.6 818.6L253.8 818.5L253 818.2L252.2 818.4L251.4 818.4L250.6 818.2L249.8 818L249 818.3L248.2 818.2L247.4 818L246.6 818.3L245.8 818.2L245 818L244.2 817.9L243.4 817.7L242.6 817.8L241.8 817.9L241 817.8L240.2 818.2L239.4 818L238.6 817.6L237.8 817.7L237 817.6L236.2 817.5L235.4 817.9L234.6 817.9L233.8 817.8L233 817.6L232.2 817.4L231.4 817.8L230.6 817.7L229.8 817.4L229 817.5L228.2 817.8L227.4 817.2L226.6 817.2L225.8 817.5L225 817.6L224.2 817.4L223.4 817.5L222.6 817.5L221.8 818.8L221 817.6L220.2 817.6L219.4 817.5L218.6 818.3L217.8 817.7L217 817.2L216.2 817.3L215.4 817.6L214.6 817.2L213.8 817.5L213 817.3L212.2 817.5L211.4 817.5L210.6 817.6L209.8 817.5L209 817.5L208.2 817.4L207.4 817.6L206.6 817.4L205.8 817.8L205 818.2L204.2 817.5L203.4 817.3L202.6 817.3L201.8 817.2L201 817.2L200.2 817.8L199.4 817.2L198.6 817.8L197.8 817.3L197 817.7L196.2 817.5L195.4 817.3L194.6 817.4L193.8 817.7L193 817.5L192.2 817.4L191.4 817.7L190.6 817.4L189.8 817.6L189 817.3L188.2 817.3L187.4 817.3L186.6 817.4L185.8 818.6L185 817.7L184.2 817.6L183.4 817.6L182.6 817.8L181.8 817.7L181 817.6L180.2 817.5L179.4 817.4L178.6 817.6L177.8 817.7L177 817.3L176.2 817.8L175.4 818.2L174.6 817.3L173.8 817.5L173 817.7L172.2 817.4L171.4 817.3L170.6 817.6L169.8 817.6L169 817.3L168.2 817.2L167.4 817.7L166.6 818.3L165.8 817.2L165 817.8L164.2 817.7L163.4 817.6L162.6 817.8L161.8 818.8L161 817.8L160.2 817.6L159.4 817.2L158.6 817.3L157.8 817.4L157 817.3L156.2 817.7L155.4 817.4L154.6 817.6L153.8 817.3L153 817.4L152.2 818.7L151.4 817.2L150.6 817.3L149.8 817.4L149 817.3L148.2 817.6L147.4 817.5L146.6 817.3L145.8 817.7L145 817.6L144.2 818.8L143.4 817.8L142.6 817.6L141.8 817.4L141 818.1L140.2 817.5L139.4 817.4L138.6 819.2L137.8 817.2L137 817.6L136.2 817.7L135.4 817.2L134.6 817.2L133.8 817.4L133 817.7L132.2 817.7L131.4 817.7L130.6 817.7L129.8 817.8L129 818.6L128.2 817.6L127.4 817.5L126.6 817.5L125.8 817.4L125 817.7L124.2 817.6L123.4 818.5L122.6 817.4L121.8 817.4L121 817.7L120.2 817.6L119.4 817.5L118.6 817.8L117.8 817.7L117 817.7L116.2 817.7L115.4 817.5L114.6 817.3L113.8 817.4L113 817.7L112.2 817.3L111.4 817.2L110.6 817.3L109.8 817.4L109 817.7L108.2 817.4L107.4 817.7L106.6 817.3L105.8 817.3L105 817.7L104.2 817.6L103.4 817.2L102.6 817.8L101.8 817.6L101 817.4L100.2 817.6L99.4 817.4L98.6 817.4L97.8 817.7L97 818L96.2 817.3L95.4 817.2L94.6 817.4L93.8 817.5L93 817.6L92.2 817.4L91.4 817.5L90.6 817.2L89.8 817.7L89 818L88.2 817.6L87.4 817.7L86.6 817.3L85.8 817.8L85 817.3L84.2 817.3L83.4 817.7L82.6 817.7L81.8 817.4L81 817.7L80.2 817.3L79.4 817.7L78.6 817.6L77.8 817.4L77 817.7L76.2 817.3L75.4 817.5L74.6 817.2L73.8 817.3L73 817.5L72.2 817.5L71.4 817.3Z" fill="#ff8000"/>
<path d="M103 799.5V812" stroke="#ff8000" stroke-width="1.8" fill="none"/>
<path d="M120.4 798.2V812" stroke="#ff8000" stroke-width="2.0" fill="none"/>
<path d="M385.3 791.8V805" stroke="#ff8000" stroke-width="2.5" fill="none"/>
<path d="M415.5 769.9V833.4" stroke="#ff8000" stroke-width="2.8" fill="none"/>
<path d="M448 793V821.5" stroke="#ff8000" stroke-width="2.5" fill="none"/>
<path d="M508 790V828" stroke="#ff8000" stroke-width="2.8" fill="none"/>
<path d="M535.8 810V824.7" stroke="#ff8000" stroke-width="2.8" fill="none"/>
<path d="M566.9 810V824.7" stroke="#ff8000" stroke-width="2.8" fill="none"/>
<path d="M597.1 810V824.7" stroke="#ff8000" stroke-width="2.8" fill="none"/>
<path d="M71.4 814L72.2 813.9L73 814.2L73.8 812.7L74.6 814.1L75.4 813.6L76.2 813.5L77 813.4L77.8 813.9L78.6 813.9L79.4 814.1L80.2 814.1L81 813.3L81.8 813.3L82.6 813.4L83.4 813.4L84.2 813.4L85 813.3L85.8 813.6L86.6 812.4L87.4 814L88.2 813.4L89 813.8L89.8 813.5L90.6 813.1L91.4 813.7L92.2 814.1L93 814.1L93.8 813.8L94.6 813.6L95.4 814.1L96.2 813.4L97 814.1L97.8 813L98.6 813.3L99.4 813.2L100.2 811.9L101 813.2L101.8 813.4L102.6 813.7L103.4 813.4L104.2 813.5L105 814.1L105.8 813.1L106.6 814L107.4 813.1L108.2 813.1L109 813.5L109.8 814L110.6 812.6L111.4 814L112.2 813L113 813.5L113.8 813.4L114.6 813.4L115.4 813.4L116.2 814.2L117 813.2L117.8 813.9L118.6 813.4L119.4 813.2L120.2 813.2L121 813.8L121.8 813.1L122.6 813.7L123.4 813.8L124.2 814.1L125 813.4L125.8 813.3L126.6 811.9L127.4 813.6L128.2 813.2L129 813.2L129.8 813.4L130.6 813.5L131.4 814L132.2 813.6L133 813.3L133.8 813.5L134.6 813.1L135.4 813.4L136.2 814.2L137 813.8L137.8 813L138.6 814L139.4 814.1L140.2 813.5L141 813.5L141.8 813.3L142.6 813L143.4 813.6L144.2 813.3L145 813.2L145.8 812.5L146.6 813.3L147.4 812.3L148.2 812.6L149 813L149.8 813L150.6 812.8L151.4 813.1L152.2 812.6L153 813.2L153.8 812.9L154.6 812.4L155.4 812.5L156.2 813.6L157 813.3L157.8 813.1L158.6 812.3L159.4 813L160.2 813.4L161 813L161.8 813.9L162.6 812.9L163.4 813.2L164.2 814L165 813.1L165.8 812.9L166.6 813.5L167.4 813.5L168.2 813.2L169 813.5L169.8 813.1L170.6 812.9L171.4 813.3L172.2 813.3L173 813.6L173.8 813.2L174.6 813.1L175.4 813.4L176.2 813.7L177 813.6L177.8 813.9L178.6 813L179.4 813.2L180.2 812.3L181 814.1L181.8 813.3L182.6 813.6L183.4 813.8L184.2 813L185 813.4L185.8 813.1L186.6 814L187.4 813.4L188.2 814.1L189 813.9L189.8 813.4L190.6 813.6L191.4 813.8L192.2 813.7L193 813.7L193.8 813.6L194.6 813.3L195.4 813.7L196.2 813.2L197 813.5L197.8 813.1L198.6 813.5L199.4 813.9L200.2 813.8L201 813.2L201.8 813.6L202.6 813.4L203.4 813.3L204.2 813.7L205 814.2L205.8 813.4L206.6 813.6L207.4 813.4L208.2 813.7L209 813.6L209.8 814.1L210.6 813.7L211.4 813.3L212.2 813.7L213 813.1L213.8 812.9L214.6 813.4L215.4 813.5L216.2 813L217 812.6L217.8 812.8L218.6 813.5L219.4 813.3L220.2 812.5L221 812.2L221.8 812.9L222.6 813L223.4 811.7L224.2 811L225 809.5L225.8 808.2L226.6 806.8L227.4 806.5L228.2 803.3L229 802.8L229.8 801.2L230.6 799.3L231.4 797.6L232.2 796.7L233 801.6L233.8 801.2L234.6 801.9L235.4 802.4L236.2 802.4L237 799.7L237.8 795.3L238.6 792.7L239.4 791.9L240.2 791.4L241 789.6L241.8 789.7L242.6 791.3L243.4 796L244.2 796.3L245 791.8L245.8 793.1L246.6 790.7L247.4 787.8L248.2 785.1L249 787.2L249.8 787.8L250.6 788.6L251.4 786.8L252.2 788.9L253 791.1L253.8 793.5L254.6 797.6L255.4 795.3L256.2 792.8L257 792L257.8 790.2L258.6 788.9L259.4 788.2L260.2 786.2L261 785.5L261.8 786L262.6 787.7L263.4 788.1L264.2 787.4L265 790.4L265.8 791.6L266.6 790.8L267.4 793.7L268.2 796.3L269 793.9L269.8 798.5L270.6 797L271.4 798.9L272.2 801.6L273 802.2L273.8 802.1L274.6 802.7L275.4 803.2L276.2 803.6L277 804L277.8 804L278.6 804.1L279.4 804.2L280.2 803.4L281 804.1L281.8 803.8L282.6 804L283.4 804.1L284.2 804L285 803.8L285.8 802.7L286.6 803.5L287.4 804.2L288.2 802.8L289 801.6L289.8 804.4L290.6 805.6L291.4 804.7L292.2 805.3L293 805.6L293.8 804.9L294.6 805.2L295.4 806L296.2 806L297 805.7L297.8 806.1L298.6 806.1L299.4 805.7L300.2 805.9L301 805.9L301.8 806.2L302.6 804.4L303.4 805.8L304.2 805.7L305 806.1L305.8 805.4L306.6 805.1L307.4 806L308.2 805.8L309 805.6L309.8 805L310.6 805.9L311.4 805.1L312.2 805L313 805.4L313.8 804.8L314.6 805.6L315.4 804.5L316.2 803.6L317 803L317.8 803.3L318.6 802.5L319.4 801.9L320.2 801.8L321 801.3L321.8 800.9L322.6 801.4L323.4 801.3L324.2 800.4L325 800.5L325.8 800.6L326.6 800.4L327.4 800.8L328.2 800.6L329 800.1L329.8 799.8L330.6 799.1L331.4 800.1L332.2 799.5L333 799.2L333.8 799.8L334.6 799.3L335.4 799.2L336.2 800.2L337 800.1L337.8 799.6L338.6 799.8L339.4 800.3L340.2 799.9L341 799.9L341.8 798.8L342.6 799.3L343.4 799.5L344.2 799.7L345 799.6L345.8 800.4L346.6 799.8L347.4 800L348.2 800.3L349 799.4L349.8 799.9L350.6 798.5L351.4 800.3L352.2 799.5L353 799.6L353.8 800.3L354.6 799.5L355.4 800.3L356.2 799.2L357 800L357.8 798.7L358.6 799.7L359.4 800.3L360.2 800.2L361 799.8L361.8 799.8L362.6 800.1L363.4 800.4L364.2 800.5L365 800.1L365.8 800.5L366.6 799.7L367.4 800.7L368.2 800.4L369 799.9L369.8 800.4L370.6 800L371.4 800.2L372.2 800.7L373 801.1L373.8 801.1L374.6 800.7L375.4 801.1L376.2 801.5L377 800.9L377.8 801.5L378.6 800.7L379.4 801.9L380.2 801L381 802L381.8 802L382.6 802.1L383.4 801.3L384.2 801.9L385 801.5L385.8 801.2L386.6 800.9L387.4 801.8L388.2 801.2L389 801.7L389.8 801.5L390.6 801.5L391.4 802.1L392.2 801.3L393 801.6L393.8 802L394.6 802.2L395.4 802.1L396.2 801.7L397 802.2L397.8 802L398.6 801.8L399.4 801L400.2 801.5L401 801.4L401.8 802.2L402.6 801.7L403.4 801.5L404.2 801.4L405 801.5L405.8 801.8L406.6 801.8L407.4 801.5L408.2 801.7L409 802.1L409.8 801.2L410.6 801.1L411.4 801.7L412.2 801.7L413 801.1L413.8 802.2L414.6 802.2L415.4 801.4L416.2 801.8L417 800.5L417.8 801.9L418.6 801.7L419.4 800.8L420.2 801.4L421 801.4L421.8 802.2L422.6 801.1L423.4 801.9L424.2 802L425 801.8L425.8 801.3L426.6 802.1L427.4 802L428.2 801.5L429 801.9L429.8 801.6L430.6 801.9L431.4 802L432.2 801.8L433 802.6L433.8 801.7L434.6 802.2L435.4 802.2L436.2 802.6L437 802.3L437.8 802.2L438.6 802.4L439.4 801.9L440.2 801.8L441 803L441.8 802.1L442.6 802L443.4 803.1L444.2 803L445 802.1L445.8 803L446.6 802.7L447.4 803.2L448.2 803.2L449 803L449.8 802.2L450.6 802.6L451.4 803.7L452.2 803.4L453 803.4L453.8 804.2L454.6 804.1L455.4 803.4L456.2 803.6L457 804.4L457.8 803.1L458.6 805.2L459.4 804.8L460.2 804.7L461 804.9L461.8 805.7L462.6 805.3L463.4 805.1L464.2 805.7L465 806.5L465.8 806.2L466.6 806.4L467.4 806.2L468.2 806.7L469 806.5L469.8 807.5L470.6 807.3L471.4 808.1L472.2 807.2L473 807.5L473.8 808.2L474.6 807.8L475.4 808.3L476.2 807.6L477 808.7L477.8 808.4L478.6 807.9L479.4 808.4L480.2 808.5L481 808.9L481.8 808.4L482.6 808.6L483.4 808.3L484.2 809.3L485 809L485.8 808.7L486.6 809.4L487.4 809.2L488.2 808.5L489 809.4L489.8 809.5L490.6 808.6L491.4 809.8L492.2 809.5L493 807.7L493.8 808.8L494.6 809.4L495.4 809.2L496.2 809.7L497 808.8L497.8 809.5L498.6 808L499.4 809.6L500.2 810L501 809.2L501.8 809.6L502.6 809.9L503.4 809.7L504.2 809.9L505 808.5L505.8 810L506.6 809.2L507.4 810.1L508.2 810L509 810.2L509.8 809.5L510.6 809.8L511.4 809.8L512.2 809.4L513 809.5L513.8 810.3L514.6 810.3L515.4 809.8L516.2 809.3L517 809.9L517.8 809.6L518.6 809.8L519.4 810.4L520.2 809.5L521 810.2L521.8 809.5L522.6 809.7L523.4 809.5L524.2 810.4L525 809.7L525.8 810L526.6 810.1L527.4 810.5L528.2 810.6L529 810.5L529.8 810.4L530.6 810.6L531.4 810.7L532.2 810.5L533 809.1L533.8 810.6L534.6 810.3L535.4 810.7L536.2 810.4L537 810.9L537.8 810.5L538.6 810.5L539.4 809.8L540.2 810.7L541 810.1L541.8 810.6L542.6 810.5L543.4 810.3L544.2 810.6L545 810.9L545.8 810.5L546.6 810.2L547.4 810.7L548.2 810.5L549 810.2L549.8 810.4L550.6 810.5L551.4 810.1L552.2 810.5L553 810.8L553.8 810.2L554.6 811L555.4 810.2L556.2 810.7L557 811L557.8 810.9L558.6 810.9L559.4 810.2L560.2 809.2L561 810.5L561.8 810.4L562.6 810L563.4 810.2L564.2 810L565 809.9L565.8 810.3L566.6 810.9L567.4 810.2L568.2 811L569 810.8L569.8 810.3L570.6 809.3L571.4 811L572.2 810.8L573 810.4L573.8 810.5L574.6 810.5L575.4 810.3L576.2 810.6L577 811L577.8 810.4L578.6 810L579.4 810.4L580.2 811L581 811.1L581.8 810.6L582.6 809.6L583.4 811L584.2 811.2L585 809.5L585.8 810.6L586.6 810.6L587.4 810.9L588.2 810.4L589 810.1L589.8 810.7L590.6 811.2L591.4 810.7L592.2 810.7L593 810L593.8 810.6L594.6 810.7L595.4 810.3L596.2 810.3L597 810.9L597.8 809.9L598.6 810.5L599.4 810.3L600.2 811.1L601 810.7L601.8 811.2L602.6 810.9L603.4 810.7L604.2 810.8L605 811.1L605.8 810.7L606.6 810.7L607.4 810.4L608.2 810.7L609 810.3L609.8 810.2L610.6 809.9L611.4 811L612.2 811.3L613 810.6L613.8 810.2L614.6 810.5L615.4 810.2L616.2 810.4L617 810.8L617.8 811L618.6 810.1L619.4 810.4L620.2 810.8L621 810.3L621.8 810.3L622.6 811.3L622.6 817.7L621.8 817.4L621 818.1L620.2 817.2L619.4 817.5L618.6 817.9L617.8 817.5L617 818L616.2 817.6L615.4 817.8L614.6 817.4L613.8 817.2L613 817.8L612.2 817.7L611.4 817.5L610.6 817.3L609.8 817.6L609 817.5L608.2 817.6L607.4 817.2L606.6 817.9L605.8 817.6L605 817.1L604.2 817.1L603.4 817.3L602.6 817.5L601.8 817.2L601 816.8L600.2 817.5L599.4 817.5L598.6 817.6L597.8 817.4L597 817.5L596.2 817.6L595.4 817L594.6 818.4L593.8 816.9L593 817.3L592.2 816.8L591.4 817L590.6 817.1L589.8 817.3L589 816.9L588.2 817.4L587.4 816.9L586.6 816.6L585.8 817L585 816.8L584.2 816.7L583.4 816.6L582.6 816.9L581.8 817.4L581 817.3L580.2 817L579.4 817.1L578.6 816.8L577.8 816.4L577 816.6L576.2 817.2L575.4 817L574.6 816.5L573.8 816.6L573 816.5L572.2 817.7L571.4 817.2L570.6 816.4L569.8 816.3L569 816.3L568.2 816.9L567.4 816.6L566.6 817.1L565.8 816.3L565 816.5L564.2 816.8L563.4 816.1L562.6 816.3L561.8 816.8L561 817L560.2 816.2L559.4 816.6L558.6 816L557.8 816.9L557 816.6L556.2 817.3L555.4 816.8L554.6 816L553.8 816.1L553 816.6L552.2 816.8L551.4 816.5L550.6 816.7L549.8 816L549 816.5L548.2 816.7L547.4 817.9L546.6 816L545.8 815.7L545 816.5L544.2 816.4L543.4 816L542.6 815.7L541.8 815.9L541 815.8L540.2 816.4L539.4 817.9L538.6 816.2L537.8 817.4L537 816.6L536.2 815.9L535.4 815.7L534.6 816L533.8 815.7L533 816.1L532.2 815.8L531.4 815.7L530.6 815.6L529.8 815.8L529 815.9L528.2 815.6L527.4 815.6L526.6 816.2L525.8 815.4L525 815.9L524.2 815.7L523.4 816.1L522.6 815.9L521.8 815.8L521 816L520.2 815.3L519.4 816.2L518.6 815.9L517.8 815.3L517 815.6L516.2 815.2L515.4 815.3L514.6 816L513.8 815.3L513 816.1L512.2 815.3L511.4 815.8L510.6 815.8L509.8 815.1L509 816L508.2 815.4L507.4 815.8L506.6 815.9L505.8 815.9L505 815.7L504.2 815.7L503.4 815.3L502.6 816.3L501.8 815.6L501 815.3L500.2 816.6L499.4 815.8L498.6 815.6L497.8 815.8L497 815.5L496.2 815.4L495.4 815.6L494.6 814.9L493.8 815.4L493 815.1L492.2 814.9L491.4 814.8L490.6 815.2L489.8 814.8L489 815.5L488.2 815.1L487.4 814.7L486.6 814.8L485.8 814.8L485 815.5L484.2 814.6L483.4 814.9L482.6 814.7L481.8 815.2L481 814.8L480.2 814.9L479.4 815.5L478.6 814.6L477.8 814.9L477 815.1L476.2 814.6L475.4 814.9L474.6 815.2L473.8 815.3L473 814.5L472.2 815.3L471.4 814.4L470.6 814.5L469.8 814.6L469 814.3L468.2 814.8L467.4 814.9L466.6 814.1L465.8 814.7L465 816L464.2 814.5L463.4 814.7L462.6 814.6L461.8 813.9L461 813.9L460.2 814.3L459.4 814.1L458.6 814.5L457.8 814L457 814.2L456.2 813.7L455.4 813.6L454.6 814.3L453.8 814.3L453 815.2L452.2 814.2L451.4 813.8L450.6 813.7L449.8 813.5L449 814.1L448.2 813.7L447.4 813.6L446.6 813.5L445.8 813.3L445 813L444.2 813.2L443.4 813.6L442.6 813.7L441.8 813.2L441 814.7L440.2 813.7L439.4 812.7L438.6 813.6L437.8 813.4L437 814.1L436.2 813.3L435.4 813.1L434.6 813.1L433.8 812.4L433 813.1L432.2 812.4L431.4 812.3L430.6 812.4L429.8 813L429 812.7L428.2 812.8L427.4 812.6L426.6 812.7L425.8 812.4L425 813L424.2 814.2L423.4 812.7L422.6 812.3L421.8 812L421 812L420.2 812.7L419.4 812.7L418.6 812.7L417.8 811.9L417 812.8L416.2 812.8L415.4 812.2L414.6 812.1L413.8 811.9L413 812L412.2 812.6L411.4 812.2L410.6 812.6L409.8 812.5L409 811.8L408.2 812.3L407.4 812L406.6 811.7L405.8 812.3L405 811.9L404.2 812.3L403.4 811.7L402.6 811.5L401.8 812.3L401 813.2L400.2 811.7L399.4 812L398.6 811.7L397.8 811.6L397 812.2L396.2 812.3L395.4 811.9L394.6 812L393.8 811.4L393 811.4L392.2 811.9L391.4 812L390.6 811.7L389.8 811.9L389 812.1L388.2 812.1L387.4 811.9L386.6 811.3L385.8 811.1L385 811.2L384.2 811.5L383.4 812L382.6 811.7L381.8 811.5L381 811L380.2 811.7L379.4 811.7L378.6 811.1L377.8 811.7L377 811.3L376.2 810.9L375.4 811L374.6 811.3L373.8 811.3L373 811L372.2 810.7L371.4 810.7L370.6 810.8L369.8 811.1L369 810.5L368.2 810.7L367.4 811.2L366.6 811L365.8 810.9L365 810.5L364.2 811.1L363.4 810.2L362.6 810.5L361.8 810.5L361 811L360.2 810.6L359.4 810.7L358.6 810.8L357.8 810.7L357 810.6L356.2 810.4L355.4 810.5L354.6 810.4L353.8 810.5L353 810.7L352.2 811L351.4 811L350.6 810.5L349.8 810.6L349 810.5L348.2 810.2L347.4 810.1L346.6 810.8L345.8 811.3L345 810.2L344.2 810.1L343.4 810.8L342.6 811L341.8 810.1L341 810.5L340.2 810.8L339.4 810.5L338.6 811.3L337.8 811.9L337 811.1L336.2 810.9L335.4 811.2L334.6 811L333.8 811.5L333 811.3L332.2 811.5L331.4 811.1L330.6 811.7L329.8 811.7L329 811.7L328.2 811.4L327.4 811.4L326.6 811.7L325.8 812L325 812L324.2 811.9L323.4 812.4L322.6 812.2L321.8 812.7L321 812.2L320.2 812.8L319.4 812.6L318.6 812.9L317.8 812.5L317 812.9L316.2 812.3L315.4 813.2L314.6 812.8L313.8 812.7L313 812.7L312.2 812.9L311.4 812.6L310.6 812.6L309.8 813L309 813.8L308.2 812.8L307.4 812.8L306.6 813L305.8 813.5L305 813.5L304.2 813.6L303.4 813.9L302.6 813.7L301.8 813.3L301 814L300.2 813.1L299.4 813.7L298.6 814.1L297.8 813.2L297 813.6L296.2 814.2L295.4 813.8L294.6 813.4L293.8 814.3L293 813.7L292.2 814.3L291.4 813.7L290.6 813.6L289.8 813.7L289 814.4L288.2 814.3L287.4 814.5L286.6 814.5L285.8 814.7L285 814.8L284.2 813.9L283.4 814.3L282.6 814L281.8 814.9L281 814.5L280.2 814.5L279.4 815.1L278.6 814.6L277.8 816.2L277 814.8L276.2 815.1L275.4 814.4L274.6 815L273.8 814.5L273 814.8L272.2 815.2L271.4 814.7L270.6 815.3L269.8 815.3L269 815L268.2 815L267.4 815.9L266.6 815.8L265.8 815.9L265 815.9L264.2 815.7L263.4 815.8L262.6 816.1L261.8 815.8L261 816.2L260.2 815.6L259.4 815.8L258.6 815.7L257.8 815.8L257 816.2L256.2 816.5L255.4 815.7L254.6 816.3L253.8 816.6L253 815.9L252.2 816.1L251.4 816.2L250.6 816.3L249.8 816.1L249 816.2L248.2 818.1L247.4 816.1L246.6 816.2L245.8 816.6L245 816.8L244.2 817.2L243.4 817.2L242.6 816.4L241.8 816.5L241 816.5L240.2 817.4L239.4 816.8L238.6 816.7L237.8 817L237 817L236.2 817.4L235.4 816.8L234.6 817.5L233.8 817.8L233 817.8L232.2 817.5L231.4 817L230.6 817L229.8 817.3L229 817.8L228.2 817.1L227.4 818.2L226.6 817.9L225.8 817.3L225 817.5L224.2 817.5L223.4 817.9L222.6 817.5L221.8 817.2L221 817.3L220.2 817.6L219.4 817.1L218.6 817.4L217.8 817.6L217 817.4L216.2 817.4L215.4 817.7L214.6 817.9L213.8 817.9L213 817.4L212.2 817.4L211.4 818.7L210.6 817.9L209.8 817.6L209 818L208.2 818.1L207.4 817.5L206.6 818L205.8 818L205 817.2L204.2 817.6L203.4 817.8L202.6 818L201.8 817.9L201 817.6L200.2 817.8L199.4 817.9L198.6 817.6L197.8 818.2L197 818.2L196.2 818L195.4 818L194.6 818.1L193.8 817.3L193 817.7L192.2 818.1L191.4 818.1L190.6 817.4L189.8 818.6L189 817.7L188.2 818.7L187.4 817.7L186.6 818L185.8 818.3L185 818.1L184.2 818.1L183.4 818L182.6 817.9L181.8 818.4L181 818.1L180.2 818.3L179.4 818.2L178.6 818L177.8 818.2L177 818.4L176.2 817.7L175.4 817.8L174.6 818.2L173.8 818.3L173 818.1L172.2 818.2L171.4 818L170.6 817.7L169.8 818.5L169 817.7L168.2 817.7L167.4 817.8L166.6 817.8L165.8 817.6L165 818.2L164.2 818.2L163.4 818.5L162.6 818.6L161.8 817.8L161 817.9L160.2 818.4L159.4 818.5L158.6 818.6L157.8 817.7L157 818.4L156.2 818.4L155.4 818.6L154.6 818.4L153.8 818.6L153 818.5L152.2 818L151.4 817.9L150.6 818.5L149.8 817.9L149 818.1L148.2 818.6L147.4 818.5L146.6 818.5L145.8 818.2L145 817.9L144.2 818.8L143.4 818.4L142.6 818.7L141.8 818.7L141 818.7L140.2 818.4L139.4 818.4L138.6 818.4L137.8 818.1L137 818.1L136.2 818.7L135.4 818.2L134.6 818.8L133.8 818.7L133 818.6L132.2 818.6L131.4 818.5L130.6 818.2L129.8 818.9L129 818.6L128.2 818.7L127.4 818.4L126.6 818.8L125.8 818.3L125 818.1L124.2 818.5L123.4 818.3L122.6 818.6L121.8 818.2L121 818.4L120.2 818.7L119.4 818.7L118.6 818.3L117.8 818.4L117 818.1L116.2 819L115.4 818.2L114.6 818.7L113.8 818.6L113 819L112.2 818.2L111.4 818.8L110.6 818.6L109.8 818.8L109 818.2L108.2 819.1L107.4 818.8L106.6 818.2L105.8 818.3L105 818.9L104.2 820.2L103.4 818.7L102.6 818.2L101.8 818.7L101 818.2L100.2 818.4L99.4 818.7L98.6 818.8L97.8 818.9L97 818.9L96.2 819.9L95.4 818.9L94.6 819.1L93.8 818.6L93 819.8L92.2 820.4L91.4 818.3L90.6 819L89.8 819L89 818.8L88.2 818.5L87.4 819L86.6 819.3L85.8 819.3L85 818.4L84.2 818.4L83.4 819.3L82.6 818.4L81.8 819.1L81 819.1L80.2 819.4L79.4 819.6L78.6 819.2L77.8 819.3L77 818.7L76.2 819.4L75.4 818.5L74.6 818.7L73.8 819.4L73 819.4L72.2 818.5L71.4 819Z" fill="#0000ff"/>
<path d="M103.3 802.6V831" stroke="#0000ff" stroke-width="3.0" fill="none"/>
<path d="M120.4 806V850.8" stroke="#0000ff" stroke-width="3.0" fill="none"/>
<path d="M125.4 799.3V827.8" stroke="#0000ff" stroke-width="2.8" fill="none"/>
<path d="M163 803V828.9" stroke="#0000ff" stroke-width="3.0" fill="none"/>
<path d="M271.3 805V832.3" stroke="#0000ff" stroke-width="2.8" fill="none"/>
<path d="M385.3 795V820.3" stroke="#0000ff" stroke-width="2.8" fill="none"/>
<path d="M431.5 766.6V843.3" stroke="#0000ff" stroke-width="3.0" fill="none"/>
<path d="M443.4 779.8V831.2" stroke="#0000ff" stroke-width="2.8" fill="none"/>
<path d="M508 805.5V812" stroke="#0000ff" stroke-width="2.2" fill="none"/>
<path d="M72 745.1 L73.1 745.1 L74.2 744.8 L75.3 744.8 L76.4 744.9 L77.5 744.9 L78.6 745.2 L79.7 745 L80.8 744.7 L81.9 744.7 L83 744.8 L84.1 745.1 L85 745.2 L85.2 745.4 L86.3 744.8 L87.4 744.5 L88.5 744.7 L89.6 744.5 L90.7 744 L91.8 744 L92.9 743.9 L94 744.3 L95 744.6 L95.1 744.3 L96.2 743.8 L97.3 744.1 L98.4 744.3 L99.5 744.1 L100.6 744.1 L101.7 744.3 L102.8 744.9 L103.9 744.3 L105 744 L106.1 744.5 L107.2 744.4 L108.3 744.8 L109.4 744.7 L110.5 744.5 L111.6 744.5 L111.6 744.6 L112.7 746 L113.8 747.4 L114 747.8 L114.9 749 L116 750.4 L116 750.5 L117.1 748.8 L118.2 747.2 L118.5 746.8 L119.3 746.3 L120.4 744.3 L121.5 742.6 L122.5 741.2 L122.6 741.1 L123.7 741.5 L124.8 741.8 L125.9 741.6 L127 741.8 L128.1 742.7 L129 742.5 L129.2 742.4 L130.3 742.3 L131.4 742.4 L132.5 742.9 L133.6 742.2 L134.7 742.4 L135.8 742.8 L136.9 742.3 L138 742 L139.1 742.7 L140.2 742.9 L141.3 742.6 L142.4 742 L143.5 742.3 L144.5 742.5 L144.6 742.3 L145.7 741.3 L146.8 740.6 L147.5 739.9 L147.9 739.2 L149 736.4 L149.9 733.7 L150.1 734.3 L151.2 740.5 L151.2 740.4 L152.1 743.7 L152.3 743.3 L153.4 742.9 L154.5 742.6 L155.6 742.3 L156.7 742.2 L157.8 742 L158.9 741.8 L159.8 741.6 L160 740.9 L161.1 737.1 L162.2 733.5 L163.1 730.5 L163.3 728.1 L164.4 716.4 L165.5 704.6 L165.7 701.6 L166.6 696.1 L167 693.6 L167.7 703.4 L168.5 714.7 L168.8 715.4 L169.9 715.5 L170.3 714.9 L171 710.1 L171.8 704.8 L172.1 705 L173.2 705.3 L174.3 705.6 L175.4 705 L176.2 705.1 L176.5 706.2 L177.6 708.8 L178.4 710.6 L178.7 712.4 L179.8 718.7 L180.6 723.9 L180.9 725.8 L182 730.9 L182.8 734.6 L183.1 734.9 L184.2 735.4 L185.3 736 L186 736.9 L186.4 737.4 L187.5 737.6 L188.6 737.8 L189.7 738 L190.8 737.8 L191.9 737.4 L193 737.4 L194.1 737.8 L194.8 737.9 L195.2 738.2 L196.3 739.2 L197.4 740.2 L198.5 741.4 L199.6 741.7 L200.7 742.8 L201.4 743.9 L201.8 744.5 L202.9 745.2 L204 746 L205.1 747.3 L206.2 749.1 L207.3 750.4 L208 750.7 L208.4 751.5 L209.5 752.6 L210.6 754 L211.7 755.6 L211.9 755.3 L212.8 754.1 L213.9 752.5 L215 750.8 L215.6 749.9 L216.1 748.9 L217.2 747.4 L218.3 746 L218.8 744.9 L219.4 743.9 L220.5 741.6 L221.5 739.4 L221.6 738.9 L222.7 729.9 L223 727.8 L223.8 720.2 L223.9 719.2 L224.6 689.8 L224.9 670.1 L225.2 649.9 L226 616.6 L226.3 604.4 L226.9 645.1 L227.1 631.8 L227.2 625.4 L227.6 667.9 L228.2 675.9 L228.8 683.6 L229.3 682.8 L230.4 680.4 L230.4 680.7 L231.2 672 L231.5 671.7 L232 671.3 L232.6 673.3 L233.6 677.4 L233.7 676.1 L234.8 664.3 L235.2 659.4 L235.9 671.6 L236.9 689.1 L237 686 L237.7 667.8 L238.1 651.9 L238.4 639.6 L239.2 624.4 L239.3 622.2 L240.3 614.8 L241.4 606.5 L241.7 603.6 L242.5 603 L243.3 602.6 L243.6 605.3 L244.7 614.6 L245 616.8 L245.8 615.7 L246.9 615.3 L248 614.1 L248.2 613.6 L249.1 613.1 L250.2 611.8 L251.3 610.5 L251.4 610.4 L252.4 609.9 L253.5 610.2 L254.6 609.6 L254.7 609.3 L255.5 620.2 L255.7 624.3 L256.3 635.5 L256.8 625.8 L256.8 625.8 L257.4 654.5 L257.9 662.3 L258.7 674.2 L259 678.6 L260.1 696.7 L260.3 699.7 L261.2 691.5 L262 684.1 L262.3 680.3 L263.4 669.2 L263.6 667.7 L264.5 666.1 L265.6 663.5 L266.7 661.2 L266.8 661 L267.8 660.4 L268.9 659.4 L269.3 658.6 L270 683.5 L270.1 686.8 L271.1 715.8 L271.7 733.2 L272.2 740.9 L273.3 758.1 L273.5 761 L274.4 752.4 L275.5 742.2 L275.7 740.7 L276.6 734.3 L277.3 729 L277.7 729.4 L278.8 730.6 L278.9 730.8 L279.8 703.7 L279.9 702.4 L281 684.5 L281.4 677.8 L282.1 677.5 L283 677.5 L283.2 677.8 L284.3 680.2 L285.4 683.3 L286.3 685.3 L286.5 685.3 L287.6 687.6 L288.7 690.6 L289.8 692.5 L290.9 694.5 L291.1 694.9 L292 695.9 L293.1 697 L294.2 698.6 L295 699.3 L295.3 699.4 L296.4 701.1 L297.5 702.6 L298.6 703.8 L299.7 705 L300.8 706.3 L301.9 707.7 L302 707.7 L303 702.9 L303.3 701.6 L303.8 694.9 L304.1 699.5 L304.6 707.6 L305.2 708 L306.3 709.4 L307.4 711.1 L308.5 711.9 L309 712.2 L309.6 713.6 L310.7 714.2 L311.8 714.5 L312.9 715.5 L314 716.9 L315.1 717.9 L316 718.6 L316.2 718 L317.3 717.7 L318.4 717.2 L319.5 716 L320.6 715.7 L321.7 715.3 L322.8 714.4 L323 714.1 L323.9 709.6 L324.6 706 L325 702 L325.7 695.3 L326.1 703.1 L326.6 712.1 L327.2 721.6 L327.4 725.1 L328.3 726.3 L329.2 726.6 L329.4 718.5 L329.9 699.9 L330.5 687.7 L330.9 679.4 L331.6 678.1 L332.7 676.8 L332.7 676.8 L333.8 676.6 L334.9 676.9 L336 676.3 L336.2 676.7 L337 690.5 L337.1 692.4 L337.9 712.9 L338.2 716.3 L339.3 728.5 L339.7 733 L340.4 731.3 L341.4 730.2 L341.5 729.4 L342.6 718.5 L343.2 712.7 L343.7 707.1 L344.8 695.9 L344.9 695.4 L345.9 709 L346.3 714.5 L347 722.5 L347.6 729.8 L348.1 728.4 L349.2 726.6 L349.3 726.7 L350.2 708 L350.3 706.3 L351 696.7 L351.4 697.6 L352.5 698.6 L353.6 699.9 L353.7 699.8 L354.7 702.1 L355.4 703.9 L355.8 708.7 L356.8 722 L356.9 723.4 L358 735.3 L358 735 L359.1 729.8 L360.2 724.3 L360.7 721.4 L361.3 715.1 L362.4 703.6 L362.4 703.6 L363.5 695.4 L363.9 692.3 L364.6 698.1 L365.7 706.5 L366 708.6 L366.8 719.6 L367.4 727.8 L367.9 732.3 L368.6 738.9 L369 739.4 L370.1 741.1 L371.2 743.5 L371.2 743.9 L372.3 740.7 L373 738.6 L373.4 744.5 L374.5 759.5 L374.7 762 L375.6 748.6 L376.5 735 L376.7 738.8 L377.8 758 L378.2 765.3 L378.9 752.4 L380 731.9 L380 731.9 L381.1 753.8 L382 771.9 L382.2 767.5 L383.3 740.8 L383.8 728.3 L384.4 728.1 L385.5 728.4 L386.1 729 L386.6 738.6 L387.7 760 L387.9 763.4 L388.8 744.8 L389.6 728.8 L389.9 728.4 L391 728.3 L392.1 728.1 L393.1 728.2 L393.2 728.3 L394.3 726.8 L395.4 726 L396.5 725.3 L397.6 724 L398.4 723.4" fill="none" stroke="#000000" stroke-width="2.6" stroke-linejoin="round" stroke-linecap="butt"/>
<path d="M398.4 723.4 L399.3 723.5 L400.2 722.8 L401.1 722.8 L402 722.7 L402.9 722.9 L403.5 723.3 L403.8 723.9 L404.7 724.9 L405.6 725.6 L406.5 726 L407.4 725.8 L408.3 725.6 L409.2 726.4 L410 728.2 L410.1 728.6 L411 729.4 L411.9 729.7 L412.8 728.7 L413.7 726.8 L414.6 724.8 L415.5 723.6 L416.4 724 L416.6 723.7 L417.3 725.1 L418.2 727.1 L419.1 727.9 L420 727.7 L420.9 726.7 L421.8 725 L422.7 724.3 L423.6 725.3 L424.5 727.5 L425.4 729.3 L426.3 730.2 L427.2 729.7 L427.6 729.7 L428.1 728.8 L429 726.1 L429.9 724.6 L430.8 724.2 L431.7 725.3 L432.6 727 L433.5 728 L434.4 728.1 L435.3 726.4 L436.2 724 L437.1 722.1 L438 720.6 L438.5 720.2 L438.9 720.5 L439.8 722.3 L440.7 724.9 L441.6 727.6 L442.5 728 L443.4 726.6 L444.3 725.2 L445.1 724.5 L445.2 724.8 L446.1 723.5 L447 723.3 L447.9 724.8 L448.8 726.6 L449.7 727.7 L450.6 727.9 L451.5 726.5 L452.4 724.3 L453.3 722 L454.2 720.5 L455.1 720.3 L456 721.7 L456.9 723.8 L457.8 725.2 L458.2 726 L458.7 726 L459.6 724.6 L460.5 722.4 L461.4 720.1 L462.3 719.9 L463.2 720.6 L464.1 721.5 L465 723 L465.9 725.2 L466.8 725.7 L467.7 724 L468.6 721.6 L469.5 720.2 L470.4 719.6 L471.3 720.9 L471.4 721.3 L472.2 723.4 L473.1 725.1 L474 726.1 L474.9 726.1 L475.8 724.1 L476.7 722.4 L477.6 721.9 L478.5 722.7 L479.4 724.6 L480.3 726.7 L481.2 728.2 L482.1 728.2 L482.3 728 L483 725.9 L483.9 723.9 L484.8 723.5 L485.7 724.2 L486.6 725.4 L487.5 726.6 L488.4 726.8 L489.3 725.9 L490.2 724.2 L491 723.7 L491.1 723.3 L492 722.4 L492.9 723.1 L493.8 724.7 L494.7 726.6 L495.6 726.8 L496.5 726.1 L497.4 725.3 L498.3 724 L499.2 724.2 L500.1 725 L501 726.3 L501.9 727.4 L502 726.5 L502.8 727.1 L503.7 726.5 L504.6 725 L505.5 724.5 L506.4 723.7 L507.3 723.9 L508.2 724.5 L509.1 725.2 L510 725.4 L510.9 724.6 L511.8 723.8 L512.7 722.7 L513 722.3 L513.6 721.8 L514.5 721.5 L515.4 722.2 L516.3 723.5 L517.2 724.2 L518.1 723.8 L519 723.3 L519.4 723.1 L519.9 722.1 L520.8 721.3 L521.7 721.3 L522.6 721 L523.5 722.2 L524.4 723.5 L525.3 724.3 L526.2 725 L527.1 725 L528 724 L528.9 722.7 L529.8 721.7 L530.4 722 L530.7 721.8 L531.6 722.8 L532.5 724.7 L533.4 725.6 L534.3 726.2 L535.2 725.6 L536.1 723.9 L537 721.9 L537.9 721 L538.8 721 L539.7 722.5 L540.6 723.8 L541.3 724.5 L541.5 725.3 L542.4 725.6 L543.3 725.2 L544.2 723.6 L545.1 721.7 L546 721.6 L546.9 722 L547.8 723.2 L548.7 725.4 L549.6 727.3 L550.5 727.5 L551.4 726.2 L552.3 724.3 L552.3 724.8 L553.2 723.5 L554.1 723 L555 724.5 L555.9 727 L556.8 728.7 L557.7 729 L558.6 727.9 L558.8 727.7 L559.5 725.3 L560.4 723.1 L561.3 722.7 L562.2 723.6 L563.1 725.8 L564 728.1 L564.9 728 L565.8 726.7 L566.7 724.6 L567.6 722.6 L567.6 722.5 L568.5 722 L569.4 723.4 L570.3 726.5 L571.2 729 L572 729.3 L572.1 729.5 L573 728.2 L573.9 725.6 L574.8 722.8 L575.7 722.6 L576.6 723.6 L577.5 724.7 L578.4 726.5 L578.5 727 L579.3 727.3 L580.2 725.7 L581.1 723.2 L582 721.6 L582.9 721.4 L583.8 721.9 L584.7 724 L585.1 725.1 L585.6 725.9 L586.5 726.2 L587.4 725.6 L588.3 724.4 L589.2 724 L589.5 723.6 L590.1 723.1 L591 724 L591.9 725 L592.8 725.8 L593.7 726.6 L594.6 726.2 L595.5 724 L596.4 722.1 L597.3 721.1 L598.2 721.4 L599.1 722.5 L600 723.4 L600.4 723.5 L600.9 723.8 L601.8 724.6 L602.7 724.2 L603.6 722.6 L604.5 721.4 L605.4 721.6 L606.3 721.6 L607.2 721.9 L608.1 723 L609 723.8 L609.9 723.7 L610.8 723.7 L611.4 723.5 L611.7 723 L612.6 722.2 L613.5 720.8 L614.4 720.3 L615.3 720.9 L615.8 721.5 L616.2 721.6 L617.1 722.4 L618 722.8 L618.9 723 L619.8 721.8 L620.7 720.6 L621.6 719.8 L622.5 719.7" fill="none" stroke="#000000" stroke-width="2.8" stroke-linejoin="round" stroke-linecap="butt"/>
<path d="M72 801 L72.7 801.1 L73.4 800.5 L74.1 800.9 L74.8 800.8 L75.5 801.1 L76.2 800.3 L76.9 800.3 L77.6 800.4 L78.3 800.8 L79 800.6 L79.7 800.8 L80.4 800.4 L81.1 800 L81.8 800.4 L82.5 800.5 L83.2 800.7 L83.9 800.1 L84.6 800.1 L85.3 800 L86 800.1 L86.7 800.5 L87.4 800.4 L88.1 799.6 L88.8 800.2 L89.5 800.2 L90.2 800.1 L90.6 800.2 L90.9 796.1 L91.3 792.1 L91.6 796.5 L92 803.7 L92.3 801.9 L92.7 799.5 L93 799.5 L93.7 799 L94.4 798.9 L95.1 798.8 L95.8 799 L96.5 798.8 L97.2 798.8 L97.9 798.3 L98.6 798.6 L99.3 798.2 L100 798.4 L100.7 798.3 L101.4 798 L102.1 797.9 L102.8 797.2 L103.5 797.3 L104.2 797.7 L104.9 797.4 L105.6 797 L106.3 796.8 L107 796.5 L107.7 796.4 L108.4 796.4 L109.1 796.1 L109.4 796.5 L109.8 796.3 L110.5 796.7 L111.2 796.7 L111.9 796.7 L112.6 796.7 L113.3 796.4 L114 796.3 L114.7 796.2 L115.4 796.4 L116.1 796 L116.8 795.9 L117.5 796 L118.2 796.3 L118.9 796 L119.6 796.3 L120.3 795.9 L121 796 L121.7 796.4 L122.4 795.7 L123.1 795.8 L123.8 795.6 L124.5 795.9 L125.2 796.1 L125.9 795.8 L126.6 796.1 L127.3 795.9 L128 795.9 L128.7 795.5 L129.4 795.9 L130.1 796 L130.8 795.4 L131.5 796 L132.2 795.7 L132.9 795.7 L133.6 795.2 L134.3 795.7 L135 795.5 L135.7 795.7 L136.4 795.8 L137.1 795.4 L137.8 795.6 L138.5 795.2 L139.2 795.4 L139.9 795.2 L140 795.8 L140.6 795.1 L141.2 795.1 L141.3 789.6 L141.9 760 L142 752.6 L142.3 730.2 L142.7 717.8 L143.4 695.9 L143.6 690.2 L144.1 678.7 L144.8 663.4 L145.3 652.3 L145.5 650.8 L146.2 643.4 L146.9 636.1 L147.5 629.8 L147.6 629.2 L148.3 623.9 L149 618.2 L149.3 615.1" fill="none" stroke="#08b808" stroke-width="2.8" stroke-linejoin="round" stroke-linecap="butt"/>
<path d="M149.3 615.4 L150.2 640.2 L150.2 640.1 L150.8 679.1 L151.1 680 L151.9 683 L152 682.6 L152.9 678.9 L153.8 675.5 L154.1 674.1 L154.7 675.9 L155.6 679.1 L156.3 681.4 L156.5 681.4 L157.4 681.6 L158.3 681.9 L159.2 682.1 L160.1 682.6 L161 682.6 L161.9 683.1 L162.8 683.3 L162.8 683.5 L163.7 682.7 L164.6 681.5 L165.5 680.5 L166.4 679.6 L167.3 678.4 L168.2 678.2 L169.1 676.9 L169.4 676.9 L170 676.4 L170.9 676.4 L171.8 676.7 L172.7 676.1 L173.6 676 L174.5 675.9 L175.4 675.5 L176 675.8 L176.3 677.3 L177.1 683.1 L177.2 682.5 L178.1 678.4 L178.4 676.7 L179 676.9 L179.9 675.6 L180.4 676 L180.8 675.2 L181.7 674.7 L182.6 673.9 L183.5 673.1 L184.4 672.6 L185.3 672.5 L186.2 671.3 L186.9 671 L187.1 671.8 L188 672.6 L188.9 672.8 L189.1 673.5 L189.8 674.4 L190.7 675.5 L191.6 676.1 L192.5 677.4 L193.4 678.7 L194.3 679 L195.2 680.8 L195.7 680.8 L196.1 681.4 L197 681.8 L197.9 681.5 L198.8 682.3 L199.7 682.3 L200.6 682.5 L201.5 682.9 L202.4 683.3 L203.3 684.2 L204.2 684.1 L204.4 684.5 L205.1 684.8 L206 684.9 L206.9 686 L207.8 686.4 L208.7 686.5 L209.6 687 L210.5 687.6 L211.4 687.7 L212.3 687.9 L213.2 688.9 L213.2 689.1 L214.1 689.3 L215 689.3 L215.9 690.3 L216.8 690.6 L217.7 690.9 L218.6 691.7 L219.5 692.1 L219.8 691.8 L220.4 696.4 L220.9 699.7 L221.3 681.4 L221.6 667.6 L222.2 645.1 L222.4 637.5 L223.1 627.3 L223.9 617 L224 615.6 L224.9 606.6 L225.8 598 L226 596.2 L226.7 592.1 L227.6 586 L228.2 581.9 L228.5 580.7 L229.4 576.6 L230.3 572.5 L231.2 569 L231.2 569 L232.1 566.2 L233 564 L233.9 561.6 L234.8 559.4 L234.8 559.3 L235.7 557.9 L236.6 556.3 L237.5 555.9 L238.4 554.5 L239.2 553.4 L239.3 552.9 L240.2 552.5 L241.1 552 L242 550.9 L242.9 550.8 L243.8 549.4 L244.7 548.9 L245 548.6 L245.6 549 L246.5 548 L247.4 547.7 L248.3 547.3 L249.2 547.7 L250.1 546.7 L250.9 546.6 L251 546.9 L251.9 546.8 L252.8 546.2 L253.7 545.7 L254.6 545.8 L255.5 545.9 L256.4 545.3 L256.7 545.3 L257.3 544.9 L258.2 544.8 L259.1 545 L260 545.1 L260.9 544.9 L261.8 544.5 L262 544 L262.7 570 L263 581.1 L263.6 582.5 L264.2 583.3 L264.5 581 L265.4 577 L265.8 574.1 L266.3 577.8 L267.2 584.2 L267.2 584.1 L268.1 581.9 L268.8 580.4 L269 580.7 L269.9 582.9 L270.4 583.5 L270.8 583.3 L271.7 584.1 L272.6 584.7 L273.5 584.9 L273.5 584.3 L274.4 586.4 L275.3 588.1 L276.2 589.6 L277.1 591.1 L278 592.5 L278.9 594 L279.8 595.2 L280 595.9 L280.7 597 L281.6 598.4 L282.5 599.4 L283.4 600.4 L284.3 601.8 L285.2 603.5 L286.1 604.7 L287 605.9 L287.9 607.8 L288.8 609.2 L288.8 608.6 L289.7 610.5 L290.6 611.8 L291.5 613.4 L292.4 615.2 L293.3 616.6 L294.2 617.7 L295.1 620.1 L296 621.7 L296.9 622.5 L297.6 623.6 L297.8 624.7 L298.7 626 L299.6 627.5 L300.5 629.1 L301.4 630.6 L302.3 632.5 L303.2 633.8 L304.1 635.2 L305 637.2 L305.9 638.6 L306.3 639.2 L306.8 640.6 L307.7 641.8 L308.6 642.7 L309.5 643.7 L310.4 645.1 L311.3 645.9 L312.2 647.7 L313.1 648.8 L314 649.8 L314.9 651.2 L315.1 651.7 L315.8 652 L316.7 652.9 L317.6 654.5 L318.5 655.6 L319.4 655.9 L320.3 657.3 L321.2 658.3 L322.1 659.7 L323 660.2 L323.9 661.5 L323.9 661.7 L324.8 662.1 L325.7 662.8 L326.6 664.6 L327.5 664.9 L328.4 665.7 L329.3 666.7 L329.3 667.2 L330.2 667.6 L331.1 668.2 L331.5 668.3 L332 655.4 L332.2 650.2 L332.8 628.1 L332.9 626.8 L333.8 615 L334.7 603.3 L334.8 602.3 L335.6 596.1 L336.5 588.3 L337 584.8 L337.4 583.1 L338.3 578.2 L339.2 573.8 L340.1 569.2 L340.3 568.1 L341 566.5 L341.9 563.3 L342.8 560.9 L343.6 557.7 L343.7 557.5 L344.6 556.2 L345.5 554.9 L346.4 553.4 L347.3 551.8 L348 550.4 L348.2 550.3 L349.1 549.4 L350 548.7 L350.9 547.9 L351.8 547.3 L352.7 546.3 L353.1 546.2 L353.6 546.3 L354.5 546 L355.4 545.5 L356.3 545.6 L357.2 545.2 L358.1 545.2 L359 544.4 L359.9 544.8 L360.8 544.4 L361.7 543.9 L361.9 543.6 L362.6 544.1 L363.5 543.4 L364.4 543.7 L365.3 543.7 L366.2 543.7 L367.1 543.4 L368 543 L368.9 543.2 L369.8 542.7 L370.7 542.7 L371.6 542.5 L372.5 542.9 L372.8 542.4 L373.4 542.9 L374.3 542.5 L375.2 542.9 L376.1 542.9 L377 543.8 L377 543.1 L377.6 562.7 L377.9 561.6 L378.8 558 L379.4 555.5 L379.7 556.1 L380.6 558.5 L381 559.9 L381.5 560.4 L382.4 560.5 L382.7 560.5 L383.3 562.9 L384.2 566.4 L384.6 567.2 L385.1 567.7 L386 568.1 L386 568.3 L386.9 567.9 L387.8 568.7 L388.7 568.5 L389.6 568.7 L390.5 568.3 L391.4 568.7 L392.3 568.2 L392.5 568.2 L393.2 568.3 L394.1 568.4 L395 568.7 L395.9 569.3 L396.8 569.3 L397.7 569.7 L398.6 570.6 L399.1 570.6 L399.5 571 L400.4 572.4 L401.3 573.1 L402.2 575 L403.1 576.2 L404 577.1 L404.9 578.5 L405.7 579 L405.8 579.7 L406.7 580.3 L407.6 581.5 L408.5 582.2 L409.4 583.2 L410.3 583.6 L411.2 585.1 L412.1 586 L412.3 585.5 L413 586.4 L413.9 586.6 L414.8 586.5 L415.7 587.1 L416.6 587.1 L417.5 587.1 L418.4 587.6 L419.3 587.6 L419.9 588 L420.2 588.2 L421.1 590.8 L422 592.1 L422.9 594.3 L423.2 594.7 L423.8 594.6 L424.7 595.7 L425.6 595.9 L426.5 597.1 L427.4 597.3 L428.3 597.8 L429.2 598.7 L429.8 598.7 L430.1 598.7 L431 599.9 L431.9 599.9 L432.8 599.8 L433.7 600 L434.6 600.6 L435.5 600.9 L436.4 601.6 L437.3 601.5 L438.2 602.3 L438.5 602.6 L439.1 600.8 L439.6 600.4 L440 589.1 L440 588.9 L440.5 602.3 L440.9 613 L440.9 613.5 L441.8 613.2 L442.7 613.8 L443.6 613.4 L444.5 613.8 L445.4 614.4 L446.3 614.8 L447.2 615 L448.1 614.6 L449 615 L449.5 615.6 L449.9 615.3 L450.8 615.2 L451.7 615.4 L452.6 616 L453.5 616.1 L454.4 616 L455.3 616.5 L456.2 616.6 L457.1 616.6 L458 616.7 L458.9 617.1 L459.8 617.7 L460.4 617.5 L460.7 617.5 L461.6 617.9 L462.5 617.9 L463.4 618.5 L464.3 617.9 L465.2 618.9 L466.1 619.1 L467 618.5 L467.9 619.1 L468.8 618.8 L469.7 619.8 L470.6 619.3 L471.4 620.1 L471.5 619.4 L472.4 620.4 L473.3 620.5 L474.2 620.9 L475.1 620.4 L476 621 L476.9 621.2 L477.8 621.4 L478.7 621.7 L479.6 622.2 L480.5 622 L481.4 621.9 L482.3 622.3 L482.3 622.6 L483.2 623 L484.1 623 L485 623.1 L485.9 622.8 L486.8 623.2 L487.7 623.1 L488.6 623.7 L489.5 623.5 L490 623.6 L490.4 623.2 L491.3 623.5 L492.2 623.4 L493.1 623.7 L494 623.8 L494.9 624 L495.8 624.4 L496.7 624.1 L497.6 624.7 L498.5 624.3 L499.4 624.9 L500.3 625.4 L501.2 625.2 L501.9 625" fill="none" stroke="#08b808" stroke-width="2.8" stroke-linejoin="round" stroke-linecap="butt"/>
<path d="M501.9 625.1 L502.8 625.8 L503.7 625.6 L504.6 626.8 L505.5 626.8 L506.4 627 L507 627.3 L507.3 620.8 L507.4 617.2 L507.9 627.9 L508.2 630.2 L508.3 632.2 L508.8 627.6 L509.1 628 L509.1 627.9 L509.6 625.8 L510 628.6 L510 628.5 L510.4 628.7 L510.4 630.8 L510.9 628.6 L510.9 628.6 L511.8 628.3 L512.5 628.6 L512.7 628.3 L512.9 627.3 L513.4 629.1 L513.6 631.7 L513.9 635.5 L514.3 628.9 L514.5 628.4 L515.4 629.5 L515.6 629.4 L516 626.2 L516.3 627.8 L516.5 629 L517 630.3 L517.2 630 L517.4 629 L518.1 629.8 L518.7 629.5 L519 628.5 L519.1 628.4 L519.6 630 L519.9 633 L520.1 634.6 L520.5 629.1 L520.8 630.1 L521.7 630 L522.1 630.1 L522.5 627.6 L522.6 628.4 L523 630.3 L523.5 630.9 L523.5 631.2 L523.9 629.7 L524.4 630.2 L525.3 630.1 L526.2 630 L527.1 630.6 L528 630.6 L528.9 631 L529.8 630.9 L530.7 631 L530.9 631 L531.6 630.8 L532 631.1 L532.4 629.1 L532.5 629.3 L532.9 631 L533.4 636.5 L533.4 636.2 L533.8 630.8 L534.3 631 L535.1 630.9 L535.2 630.6 L535.5 629.4 L536 631.5 L536.1 632 L536.5 632.9 L536.9 631.2 L537 631.6 L537.9 631.9 L538.8 631.3 L539.1 631.4 L539.5 630.8 L539.7 631.4 L540 631.4 L540.5 636.8 L540.6 634.6 L540.9 632.1 L541.5 631.7 L542.4 631.4 L543.1 632.1 L543.3 631.2 L543.5 630.1 L544 631.8 L544.2 632.5 L544.5 633 L544.9 631.7 L545.1 631.5 L546 631.9 L546.9 631.9 L547.8 632 L548.7 632.4 L549.6 632.4 L550.5 632.2 L551.4 632.5 L552.3 632.2 L553.2 632.1 L554.1 632.3 L555 632.5 L555.9 632.3 L556.8 633.1 L557.4 632.9 L557.5 633 L557.7 630.8 L557.9 627.9 L558.4 632.7 L558.6 636.1 L558.9 641.1 L559.3 632.8 L559.5 632.5 L560.4 632.6 L560.6 632.7 L561 629.6 L561.3 631.1 L561.5 632.7 L562 635 L562.2 633.9 L562.4 633.2 L562.7 632.7 L563.1 629.8 L563.1 628.5 L563.6 633.2 L564 634.1 L564.1 634.7 L564.5 633.3 L564.9 632.9 L565.1 633.1 L565.5 631.7 L565.8 632.2 L566 633 L566.5 635.4 L566.7 634.4 L566.9 633.1 L567.6 632.9 L568.5 632.7 L569.4 633.3 L570.3 632.8 L570.8 633.1 L571.2 631.6 L571.2 631.9 L571.7 633.4 L572.1 636 L572.2 636.4 L572.6 633.3 L573 632.8 L573.1 633.2 L573.5 631.3 L573.9 632.6 L574 632.9 L574.5 633.4 L574.8 633.3 L574.9 633.2 L575.7 633.2 L576.6 633.1 L577.5 632.8 L578.4 633.1 L579.3 633.3 L580.2 633.2 L581.1 633.6 L582 633.2 L582.1 633.1 L582.5 632 L582.9 633.2 L583 633.3 L583.5 635.2 L583.8 633.8 L583.9 633 L584.7 633.6 L585.6 633 L586.5 633.4 L587.4 633.7 L588.2 633.4 L588.3 632.3 L588.6 629.1 L589.1 633.5 L589.2 635.4 L589.6 640.7 L590 633.8 L590.1 633.6 L591 633.3 L591.1 633.3 L591.5 629.6 L591.9 633 L592 633.7 L592.5 634.9 L592.8 633.8 L592.9 633.9 L593.5 633.3 L593.7 632 L593.9 629.2 L594.4 633.9 L594.6 634.8 L594.9 635.1 L595.3 633.4 L595.5 633.8 L596.1 633.5 L596.4 632.7 L596.5 632.2 L597 633.9 L597.3 635.3 L597.5 635.8 L597.9 633.4 L598.2 633.3 L599.1 633.8 L600 633.4 L600.5 634 L600.9 632.8 L600.9 632.3 L601.4 633.3 L601.8 636.8 L601.9 637.4 L602.3 634 L602.7 633.9 L603.6 633.4 L604.5 633.4 L605.1 633.8 L605.4 633 L605.5 632.5 L606 634 L606.3 634.7 L606.5 634.4 L606.9 633.3 L607.2 634.1 L608.1 634.2 L609 633.9 L609.9 634.1 L610.8 634.1 L611.7 633.8 L612.1 634.1 L612.5 632.9 L612.6 632.7 L613 633.8 L613.5 635.1 L613.5 635.2 L613.9 634.2 L614.4 633.9 L615.3 633.6 L616.2 633.8 L617.1 634.5 L618 634.5 L618.9 634.4 L618.9 634.3 L619.3 629.8 L619.8 634.4 L619.8 634.3 L620.2 641.3 L620.5 633.9 L620.7 634.2 L620.7 633.9 L620.9 632.1 L621.4 634 L621.6 635.2 L621.9 636.9 L622.3 634.3 L622.5 634.5" fill="none" stroke="#08b808" stroke-width="2.9" stroke-linejoin="round" stroke-linecap="butt"/>
</g>
</g>
<text x="326.8" y="487.6" font-size="24" font-weight="bold" text-anchor="start">BSD</text>
<text x="5.4" y="512" font-size="25" font-weight="bold" text-anchor="start">b</text>
<text x="316.1" y="923" font-size="18.8" font-weight="bold" text-anchor="start">Minutes</text>
<text x="19" y="771.7" font-size="19.1" font-weight="bold" text-anchor="start" transform="rotate(-90 19 771.7)">Pressure (mmHg)</text>
<text x="680.8" y="769.7" font-size="19.3" font-weight="bold" text-anchor="start" transform="rotate(-90 680.8 769.7)">Heart Rate (bpm)</text>
<path d="M136 515.7H157.8" stroke="#ff0000" stroke-width="2.7" fill="none"/>
<text x="170.2" y="521.6" font-size="17" font-weight="normal" text-anchor="start">AoP</text>
<path d="M222.2 515H244.8" stroke="#0000ff" stroke-width="2.7" fill="none"/>
<text x="257" y="520.9" font-size="17" font-weight="normal" text-anchor="start">CVP</text>
<path d="M316.3 515H338.6" stroke="#ff8000" stroke-width="2.7" fill="none"/>
<text x="350.6" y="520.9" font-size="17" font-weight="normal" text-anchor="start">PAP</text>
<path d="M402.5 515.7H424.5" stroke="#08b808" stroke-width="2.7" fill="none"/>
<text x="435.6" y="521.6" font-size="17" font-weight="normal" text-anchor="start">ICP</text>
<path d="M488.9 515.7H511.2" stroke="#000000" stroke-width="2.7" fill="none"/>
<text x="522.4" y="521.6" font-size="17" font-weight="normal" text-anchor="start">HR</text>
</svg></body></html>
